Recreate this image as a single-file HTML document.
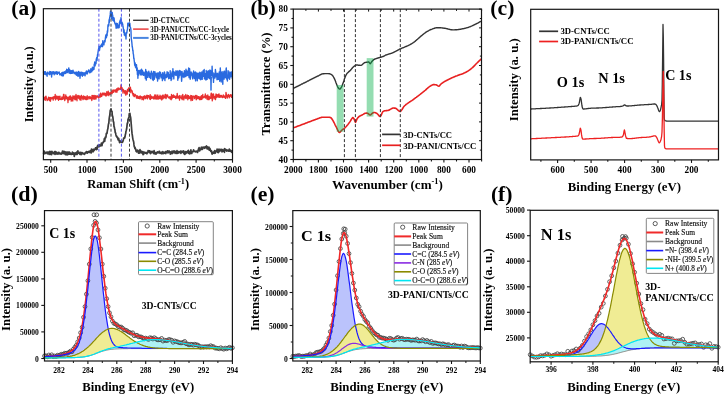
<!DOCTYPE html>
<html><head><meta charset="utf-8"><style>
html,body{margin:0;padding:0;background:#fff;}
svg{display:block;filter:blur(0.35px);}
text{font-family:"Liberation Serif",serif;}
</style></head><body>
<svg width="725" height="394" viewBox="0 0 725 394">
<rect width="725" height="394" fill="#fff"/>
<polyline points="43.5,71.7 43.7,73.4 43.9,74.1 44.2,72.5 44.4,71.6 44.6,73 44.8,73.6 45.1,74.4 45.3,71.8 45.5,71.8 45.7,74 46,73.8 46.2,74.9 46.4,74.4 46.6,73.2 46.9,73 47.1,76.2 47.3,73 47.5,72.5 47.8,72.1 48,73.5 48.2,73.6 48.4,73.1 48.7,73.4 48.9,73.8 49.1,74.2 49.3,74.7 49.6,73.7 49.8,71.5 50,74.3 50.2,71.9 50.4,73.3 50.7,71.8 50.9,73.4 51.1,72.6 51.3,73.6 51.6,77 51.8,73.2 52,74.2 52.2,71.7 52.4,72.8 52.7,73.8 52.9,72.9 53.1,73.4 53.3,73 53.6,71.8 53.8,73.4 54,71.9 54.2,74.8 54.4,72.1 54.7,73.4 54.9,72.6 55.1,73.6 55.3,71.9 55.6,73.6 55.8,72.4 56,73.9 56.2,73.2 56.4,72.7 56.7,71.7 56.9,73.4 57.1,73.1 57.3,74.4 57.6,72.3 57.8,73.3 58,73.3 58.2,73.1 58.4,73.1 58.7,73.1 58.9,72.3 59.1,71.9 59.3,72.6 59.6,73.8 59.8,74.9 60,74.3 60.2,74.4 60.4,74.2 60.7,74.1 60.9,73.6 61.1,74.3 61.3,75.4 61.6,73.1 61.8,72.7 62,75.7 62.2,73.8 62.5,74.5 62.7,74.4 62.9,72.1 63.1,76 63.4,75.2 63.6,73.3 63.8,73.8 64,73 64.3,71.8 64.5,72.5 64.7,72.9 64.9,73.6 65.2,73 65.4,72.1 65.6,73.4 65.8,70.9 66.1,72.5 66.3,72.7 66.5,71 66.7,69.3 67,70.1 67.2,71.3 67.4,71.5 67.6,72.5 67.9,69.6 68.1,70.6 68.3,71.3 68.5,70.4 68.8,67.9 69,71.4 69.2,73.1 69.4,71.6 69.7,69.6 69.9,70.2 70.1,70.9 70.3,73.5 70.6,71.5 70.8,71 71,72.7 71.2,71 71.4,73.3 71.7,70.6 71.9,70.9 72.1,72.4 72.3,73.3 72.6,72.5 72.8,72.3 73,70.1 73.2,71.4 73.4,71.6 73.7,71.8 73.9,73.2 74.1,72.3 74.3,73.6 74.6,72.9 74.8,72.6 75,73.1 75.2,73.5 75.5,74.1 75.7,72.7 75.9,73 76.1,71.9 76.4,75.2 76.6,75.1 76.8,73.4 77,73.1 77.3,72.3 77.5,73.9 77.7,74 77.9,76.3 78.2,74.2 78.4,73.1 78.6,71.4 78.8,75.7 79.1,74.4 79.3,72.4 79.5,74.4 79.7,72.5 80,78.2 80.2,75.6 80.4,75 80.6,74.2 80.9,72.1 81.1,74.3 81.3,72.8 81.5,75.1 81.8,72.1 82,73.5 82.2,75.8 82.4,76.3 82.7,73.1 82.9,72.7 83.1,75.3 83.3,75.2 83.6,73.1 83.8,73.4 84,73.3 84.2,72.7 84.4,73.1 84.7,75.1 84.9,74.4 85.1,75.8 85.3,73.3 85.6,73.2 85.8,72.1 86,72.9 86.2,71.5 86.4,70.9 86.7,73.5 86.9,74.1 87.1,73.4 87.3,73.8 87.6,72.5 87.8,71.3 88,72.1 88.2,71.5 88.4,70.6 88.7,69.9 88.9,70 89.1,71.5 89.3,71.6 89.6,70.9 89.8,72.9 90,71.4 90.2,71.8 90.4,72.4 90.7,70 90.9,68.6 91.1,71.5 91.3,69.8 91.6,71.8 91.8,70.6 92,71.1 92.2,70.6 92.4,67.3 92.7,70.2 92.9,68.4 93.1,67.6 93.3,67.9 93.6,69.6 93.8,69.4 94,69.2 94.2,64.2 94.4,65.5 94.7,62 94.9,65.3 95.1,65.9 95.3,62.9 95.6,64 95.8,63.2 96,63.7 96.2,59.6 96.5,58.5 96.8,57.5 97,60.5 97.2,58.1 97.5,54.8 97.8,54 98,52.3 98.2,51 98.5,49.1 98.8,48.2 99,46.1 99.2,46.7 99.5,50.3 99.8,48.2 100,47.1 100.2,46.4 100.5,46.6 100.7,46.9 100.9,45.1 101.2,46.4 101.4,46.3 101.6,44.5 101.8,44.3 102.1,43.8 102.3,43.5 102.5,46.6 102.8,40.8 103,44 103.2,43.1 103.5,42.7 103.7,43.5 103.9,44.9 104.1,42.6 104.4,41.8 104.6,40.4 104.8,40.7 105,41.9 105.3,39 105.5,37.1 105.7,36.1 105.9,35.6 106.2,34.4 106.4,37.8 106.6,35.6 106.8,33.7 107.1,35.6 107.3,30.9 107.5,32.3 107.7,31.2 107.9,26 108.2,24.7 108.4,24.4 108.6,26.1 108.8,25.4 109.1,19.8 109.3,22.4 109.5,18.8 109.8,17.5 110,15.8 110.2,14.9 110.5,11.2 110.8,11.8 111,11.1 111.2,14.2 111.5,17.2 111.8,18.8 112,14.2 112.2,12.4 112.5,15.3 112.7,15 112.9,20.6 113.2,18.9 113.4,17.4 113.6,20.9 113.8,21 114.1,18 114.3,20.5 114.5,21.6 114.7,22.6 114.9,23.4 115.2,23.2 115.4,24.7 115.6,23.9 115.8,23.8 116.1,28.3 116.3,26.5 116.5,26.7 116.7,23.3 116.9,25.7 117.2,27.4 117.4,23.8 117.6,27.9 117.8,25.3 118.1,26.7 118.3,25.8 118.5,26.4 118.7,27.9 119,24.8 119.2,27.5 119.4,22.8 119.6,21.8 119.8,23.9 120.1,20.2 120.3,20.9 120.5,22.7 120.8,22.9 121,17.6 121.2,21.4 121.5,24 121.7,23.6 122,22.3 122.2,22.8 122.5,24.5 122.7,24 122.9,26.5 123.2,27.7 123.4,28.8 123.6,32.2 123.8,30.8 124.1,29.8 124.3,35 124.5,32.2 124.8,34.1 125,35.5 125.2,35.7 125.5,34.8 125.8,35.7 126,39 126.2,33 126.5,32.4 126.8,33.1 127,31.3 127.2,30.2 127.5,29.3 127.8,23.3 128,24.2 128.2,25 128.5,24.8 128.8,25.7 129,24 129.2,22.6 129.5,23.1 129.8,23.1 130,25 130.2,27.3 130.5,27.4 130.8,28.8 131,31.3 131.2,37.3 131.5,40.2 131.8,42.1 132,44.3 132.2,46.7 132.5,47.7 132.8,51 133,50.2 133.2,53.6 133.5,54.6 133.8,58.8 134,58.2 134.2,60.5 134.5,62.7 134.7,65.3 134.9,62.6 135.2,63.2 135.4,67 135.6,64.4 135.8,67.7 136.1,66.3 136.3,67.8 136.5,64.7 136.7,70.5 137,68.4 137.2,67.9 137.4,74.5 137.7,72 137.9,78.2 138.1,71.9 138.4,70.5 138.6,71.6 138.8,75 139.1,71.7 139.3,72.9 139.5,73.2 139.8,70.4 140,72.8 140.2,71.6 140.5,70.2 140.7,74.9 140.9,74.6 141.1,73.5 141.4,71.6 141.6,69.3 141.8,74.9 142,73.7 142.3,70.4 142.5,74.1 142.7,71 143,74.4 143.2,74.8 143.4,75.4 143.6,75.2 143.9,75.1 144.1,72.3 144.3,74 144.5,73.8 144.8,74.5 145,75.6 145.2,76.4 145.4,78.6 145.7,69.4 145.9,76 146.1,74.7 146.3,80.1 146.5,77.2 146.8,71.5 147,76.1 147.2,74 147.4,77.4 147.6,72.9 147.9,75 148.1,75 148.3,75 148.5,74 148.8,71.2 149,76.3 149.2,77.5 149.4,75.2 149.6,73.1 149.9,75.8 150.1,76.6 150.3,75 150.5,75.3 150.7,78.6 151,72.9 151.2,74.1 151.4,71.1 151.6,73.8 151.8,73.7 152.1,73.2 152.3,73.9 152.5,79.5 152.7,75 152.9,75.2 153.2,80.5 153.4,75.3 153.6,71.5 153.8,76.4 154,73.3 154.3,79.2 154.5,72.6 154.7,74.1 154.9,71.8 155.1,75.7 155.4,73.1 155.6,75.3 155.8,74.6 156,74.1 156.2,77.7 156.5,77.7 156.7,75.6 156.9,73.4 157.1,73 157.4,76.1 157.6,81.1 157.8,74.4 158,73.7 158.2,73.9 158.5,72.9 158.7,73.2 158.9,75 159.1,78.9 159.3,75.5 159.6,74.3 159.8,71.7 160,76 160.2,75.4 160.4,72.6 160.7,72.9 160.9,75.4 161.1,77.9 161.3,77 161.6,76 161.8,74.7 162,76.2 162.2,75.4 162.4,80.6 162.7,72.7 162.9,74.5 163.1,78.4 163.3,74.8 163.6,78.8 163.8,75.3 164,75.7 164.2,74.4 164.4,72 164.7,73 164.9,80.6 165.1,76.8 165.3,76.7 165.6,77.5 165.8,76.6 166,77.6 166.2,74.5 166.4,74.6 166.7,77.5 166.9,74.2 167.1,71.8 167.3,74.5 167.6,73.7 167.8,76.5 168,73.2 168.2,72.4 168.4,74.1 168.7,78.7 168.9,74.8 169.1,75.2 169.3,74.8 169.6,75.5 169.8,77.1 170,78.2 170.2,70.7 170.4,78 170.7,74.7 170.9,73.9 171.1,80.5 171.3,74.2 171.6,79.4 171.8,76.9 172,72 172.2,75.7 172.4,76.3 172.7,74.1 172.9,68.7 173.1,73.6 173.3,73.9 173.6,71.6 173.8,78.9 174,73.7 174.2,73.3 174.4,73.5 174.7,72.3 174.9,72.3 175.1,74.5 175.3,75 175.6,72.9 175.8,73.9 176,70.7 176.2,75.5 176.4,72.2 176.7,74.7 176.9,71.8 177.1,72.8 177.3,74.6 177.6,71 177.8,80.3 178,73.9 178.2,73.8 178.4,72.2 178.7,78.1 178.9,77.5 179.1,74.8 179.3,70.5 179.6,72.7 179.8,75.6 180,72.7 180.2,71 180.4,71 180.7,72 180.9,74 181.1,72.3 181.3,74.1 181.6,81.2 181.8,78.6 182,71.4 182.2,74.9 182.4,74.3 182.7,73.7 182.9,76.8 183.1,73.2 183.3,73.3 183.6,73.2 183.8,73.9 184,77.5 184.2,76.2 184.4,70.7 184.7,73.1 184.9,72.1 185.1,76.4 185.3,74.9 185.6,76.6 185.8,74.1 186,69.3 186.2,75.5 186.4,75 186.7,75.7 186.9,71 187.1,74.6 187.3,72.6 187.6,72.7 187.8,75.4 188,75.5 188.2,72.2 188.4,70 188.7,68 188.9,73.1 189.1,77.6 189.3,74.5 189.6,68.7 189.8,72.4 190,75.9 190.2,79.2 190.4,77.9 190.7,75.8 190.9,75.4 191.1,72 191.3,73.7 191.6,74 191.8,72.9 192,75.1 192.2,73.9 192.4,75.9 192.7,78.9 192.9,77.1 193.1,76.2 193.3,74.5 193.6,71 193.8,74.8 194,76.6 194.2,72.5 194.4,78.6 194.7,74.3 194.9,76.3 195.1,74.4 195.3,71.9 195.6,80.9 195.8,72.2 196,77.8 196.2,73.8 196.4,76.1 196.7,73.2 196.9,74.3 197.1,77.9 197.3,80.8 197.6,73.1 197.8,75.5 198,78.1 198.2,73.7 198.4,77.4 198.7,73.3 198.9,77.2 199.1,76.7 199.3,78.8 199.6,76.5 199.8,72.2 200,77.3 200.2,72.4 200.4,77.6 200.7,79.7 200.9,77.1 201.1,74 201.3,78.8 201.5,76 201.8,72 202,74.5 202.2,79.4 202.4,74.6 202.6,75.8 202.9,74.5 203.1,70.7 203.3,74 203.5,76.4 203.8,76 204,74.9 204.2,69.4 204.4,78.8 204.6,77.4 204.9,78.3 205.1,79 205.3,74.1 205.5,73.6 205.7,76.2 206,80.1 206.2,70.5 206.4,74.7 206.6,73.3 206.8,76.9 207.1,79.4 207.3,74.4 207.5,71.7 207.7,75.4 207.9,74.4 208.2,70.8 208.4,77.7 208.6,73.7 208.8,77.1 209,71.4 209.3,78.3 209.5,71 209.7,78.2 209.9,69.9 210.1,79.1 210.4,74 210.6,70.6 210.8,74.4 211,76.1 211.2,72.2 211.5,73.6 211.7,75.8 211.9,74.6 212.1,66.2 212.4,73.8 212.6,76.3 212.8,75.9 213,78 213.2,73 213.5,82.4 213.7,77.3 213.9,75.9 214.1,78.2 214.3,77.8 214.6,75.3 214.8,73.2 215,78 215.2,76.2 215.4,69.5 215.7,71.8 215.9,76.4 216.1,75.3 216.3,75.8 216.6,76.9 216.8,75.4 217,79.7 217.2,73.3 217.4,73.8 217.7,76 217.9,77.2 218.1,77.4 218.3,79.4 218.5,73.6 218.8,78.5 219,76.4 219.2,72 219.4,74.6 219.7,81.3 219.9,77.4 220.1,73.7 220.3,67.9 220.5,72.9 220.8,73 221,75.3 221.2,82 221.4,77.3 221.7,76.1 221.9,72.3 222.1,71.6 222.3,74.5 222.5,73.7 222.8,84.2 223,73.9 223.2,73.3 223.4,78.6 223.7,75.4 223.9,71.5 224.1,79.1 224.3,74.3 224.5,71.2 224.8,76.2 225,76.7 225.2,74.2 225.4,77.4 225.6,77.8 225.9,72.6 226.1,69 226.3,68 226.5,74.9 226.8,79.1 227,78.4 227.2,79.6 227.4,81 227.6,75.4 227.9,78.6 228.1,70.7 228.3,77.5 228.5,76.6 228.8,75.1 229,74 229.2,72 229.4,75.8 229.6,79.3 229.9,74.3 230.1,77.1 230.3,73.4 230.5,76.2 230.7,72.3 231,76.6 231.2,74.8 231.4,76.4 231.6,73.6 231.9,71.8 232.1,74.5 232.3,78.7" fill="none" stroke="#2a6ae0" stroke-width="1.4" stroke-linejoin="round" />
<polyline points="210.5,76 211,90.5 211.5,77" fill="none" stroke="#2f6fe0" stroke-width="1" stroke-linejoin="round" />
<polyline points="43.5,96 43.8,98.3 44,97.6 44.2,97.3 44.5,99.3 44.8,98.1 45,97.6 45.2,100.4 45.5,97.3 45.8,96.3 46,96.1 46.2,97.3 46.5,98.9 46.8,99.1 47,99.5 47.2,100.5 47.5,100.3 47.8,98.9 48,99.8 48.2,98.9 48.5,97.2 48.8,99.1 49,98.1 49.2,97.7 49.5,100.7 49.8,99.1 50,97.4 50.2,97.9 50.5,101.2 50.8,97.7 51,99 51.2,98.9 51.5,98.7 51.8,98.8 52,97.3 52.2,97.4 52.5,97.8 52.8,97.5 53,99.1 53.2,100.1 53.5,96.8 53.8,98.7 54,96.6 54.2,97 54.5,97.7 54.8,98.1 55,97.4 55.2,94.4 55.5,99.9 55.8,97.6 56,97.1 56.2,98.9 56.5,97.1 56.8,96 57,98.6 57.2,98.5 57.5,96.8 57.8,99.1 58,98.5 58.2,96.4 58.5,100.3 58.8,98.3 59,96.4 59.2,98.6 59.5,98.1 59.8,99.3 60,96.1 60.2,99.4 60.5,99.2 60.8,98.9 61,98.8 61.2,99.7 61.5,98.9 61.8,98.1 62,96.8 62.2,99.4 62.5,99.3 62.8,98.3 63,98.1 63.2,98.9 63.5,94.5 63.8,98.3 64,94.5 64.2,98.2 64.5,99.3 64.8,100.5 65,97.2 65.2,98.5 65.5,97.8 65.8,94.8 66,98.9 66.2,97.9 66.5,98 66.8,96.6 67,97.8 67.2,98 67.5,99.6 67.8,98.3 68,102.6 68.2,97.3 68.5,97.5 68.8,97.8 69,96.8 69.2,99.9 69.5,98.8 69.8,96.1 70,98 70.2,99.4 70.5,95.9 70.8,98.1 71,97.5 71.2,101.1 71.5,98.4 71.8,97.3 72,97.1 72.2,100.4 72.5,97.2 72.8,101 73,95.7 73.2,97.6 73.5,97.5 73.8,96.9 74,97.6 74.2,98.8 74.5,96.9 74.8,95.9 75,99.7 75.2,99.9 75.5,96.9 75.8,98.3 76,94.3 76.2,99.3 76.5,96 76.8,97.1 77,100.8 77.2,96.1 77.5,97.9 77.8,96.4 78,95.3 78.2,96.2 78.5,98.2 78.8,96 79,97 79.2,98.8 79.5,97.6 79.8,96 80,99.9 80.2,98 80.5,99.7 80.8,96.4 81,100.1 81.2,96 81.5,95.4 81.8,97.2 82,97.3 82.2,98.2 82.5,97 82.8,98.7 83,99.6 83.2,96.9 83.5,95.9 83.8,97.2 84,98.9 84.2,98.9 84.5,97.3 84.8,96.4 85,97.7 85.2,99.1 85.5,96.8 85.8,99.5 86,98.1 86.2,98.1 86.5,96.9 86.8,99.6 87,97.8 87.2,95.7 87.5,98.8 87.8,97.1 88,99.2 88.2,97.9 88.5,96.8 88.8,97.9 89,97 89.2,96.5 89.5,97.7 89.8,98.8 90,97.8 90.2,97.5 90.5,96.9 90.8,98.4 91,98 91.2,98.9 91.5,98.1 91.8,100.5 92,95.4 92.2,97.5 92.5,98.3 92.8,98.8 93,95.5 93.2,95.9 93.5,97.5 93.8,99 94,99 94.2,95.4 94.5,97.7 94.8,99.1 95,97.5 95.2,96 95.5,96.5 95.8,95.6 96,99 96.2,97 96.5,96.8 96.8,96.2 97,97.2 97.2,96.1 97.5,95.9 97.8,97.1 98,96.7 98.2,97.4 98.5,96.8 98.8,98 99,96.1 99.2,96.4 99.5,96.1 99.8,94.6 100,97.2 100.2,94.7 100.5,93.2 100.8,96.9 101,96 101.2,94.3 101.5,96.3 101.8,96.2 102,95.8 102.2,93.1 102.5,94.9 102.8,93.2 103,93.7 103.2,93.7 103.5,93.2 103.8,95 104,93.2 104.2,95 104.5,94.4 104.8,93.2 105,94.2 105.2,94.9 105.5,95.4 105.8,93.5 106,96.1 106.2,94.5 106.5,95.3 106.8,91.7 107,92.1 107.2,95.1 107.5,93.1 107.8,94 108,94.9 108.2,91.2 108.5,93.7 108.8,95.7 109,94.1 109.2,93 109.5,93.6 109.8,92.8 110,93.8 110.2,94.5 110.5,92.3 110.8,93.3 111,92.9 111.2,93.4 111.5,93.5 111.8,90.8 112,93.8 112.2,93.3 112.5,90.6 112.8,91.6 113,90 113.2,91.5 113.5,92.3 113.8,90.1 114,90.6 114.2,90.4 114.5,90.5 114.8,90.3 115,89.8 115.2,91.9 115.5,90.7 115.8,89.8 116,92.1 116.2,89.9 116.5,91.7 116.8,88.7 117,92.2 117.2,89.5 117.5,88.7 117.8,90.4 118,87.8 118.2,88 118.5,89.7 118.8,88.5 119,89.6 119.3,89.1 119.5,89 119.8,88.6 120,89.2 120.3,88 120.5,89.3 120.8,89 121,84.9 121.3,85.2 121.6,89.8 121.9,87.4 122.2,88.8 122.4,88.9 122.7,90 123,93.1 123.3,89.5 123.5,91 123.8,91.4 124,90.4 124.3,91.1 124.5,92.3 124.8,93 125,93.7 125.3,90.6 125.6,91.1 125.8,95.2 126.1,92.5 126.4,93.5 126.7,91.4 127,90.7 127.2,94.2 127.5,89.4 127.8,89.6 128,91.5 128.3,90.4 128.6,87.9 128.9,90.2 129.1,90.9 129.4,87.8 129.7,89.1 129.9,91.1 130.2,92.7 130.4,87.2 130.7,89.7 131,90.9 131.2,89.9 131.5,90.2 131.7,91.1 132,92.7 132.2,90.9 132.5,93.8 132.8,94.1 133,94.5 133.2,95.7 133.5,93.3 133.8,94.3 134,96 134.2,96.7 134.5,96.6 134.8,95 135,95.2 135.2,94.3 135.5,95.7 135.8,95.3 136,96 136.2,96.3 136.5,98.1 136.8,98.2 137,97.1 137.2,95.7 137.5,97.2 137.8,97.8 138,98.4 138.2,97.5 138.5,98.4 138.8,96.4 139,98.1 139.2,98.3 139.5,96.8 139.8,96.2 140,98.9 140.2,95.9 140.5,98.2 140.8,96.9 141,96.8 141.2,96.9 141.5,96.7 141.8,97.2 142,99.7 142.2,99.3 142.5,97.1 142.8,97.9 143,98.5 143.2,96.7 143.5,99.8 143.8,97.4 144,98.2 144.2,96 144.5,95.8 144.8,96 145,96.4 145.2,98.7 145.5,96.9 145.8,98.5 146,96.8 146.2,96 146.5,97.6 146.8,96.8 147,95.1 147.2,97.4 147.5,98.9 147.8,97 148,95.7 148.2,96.3 148.5,95.7 148.8,97 149,96.1 149.2,97.2 149.5,97.6 149.8,99.1 150,95.8 150.2,94.6 150.5,99.5 150.8,97.9 151,96.8 151.2,98 151.5,96.1 151.8,96.9 152,98.3 152.2,96.9 152.5,97.5 152.8,97.9 153,97.5 153.2,97 153.5,98 153.8,99.1 154,99.1 154.2,96.2 154.5,98.4 154.8,94.8 155,95.4 155.2,97.9 155.5,98.1 155.8,99.2 156,95 156.2,98.8 156.5,96.6 156.8,96.7 157,97.9 157.2,99.2 157.5,96.1 157.8,95 158,96.5 158.2,97.2 158.5,99 158.8,97.8 159,96.9 159.2,96.7 159.5,96.7 159.8,98.7 160,95.1 160.2,96.4 160.5,96.2 160.8,98.9 161,97.5 161.2,96.4 161.5,98.4 161.8,100 162,98.7 162.2,95.6 162.5,97.1 162.8,98.9 163,94.9 163.2,95.7 163.5,96.8 163.8,98 164,96.2 164.2,97.5 164.5,97.1 164.8,97.8 165,95.7 165.2,94.3 165.5,94.4 165.8,97.6 166,98.7 166.2,98 166.5,95.2 166.8,95 167,96.9 167.2,96.1 167.5,94.9 167.8,96.5 168,96.3 168.2,97.2 168.5,97.8 168.8,97.6 169,97.6 169.2,98 169.5,97.2 169.8,96.7 170,96.9 170.2,98.9 170.5,96.9 170.8,98.4 171,99.6 171.2,99.7 171.5,94.4 171.8,97.5 172,98.6 172.2,96.7 172.5,96.4 172.8,95.4 173,96.4 173.2,97.3 173.5,94.8 173.8,97.3 174,96.2 174.2,97.3 174.5,95.8 174.8,97.4 175,97.5 175.2,96.4 175.5,96.4 175.8,98.6 176,98.2 176.2,96.2 176.5,97.9 176.8,95.7 177,96.6 177.2,93.4 177.5,96.5 177.8,98.2 178,96.6 178.2,98.1 178.5,96.4 178.8,97.7 179,97.1 179.2,96 179.5,100.1 179.8,96.1 180,95.5 180.2,97.5 180.5,97.9 180.8,97.7 181,97.1 181.2,97.9 181.5,98.5 181.8,98.1 182,95.4 182.2,99.6 182.5,97.2 182.8,94.5 183,98.4 183.2,97.1 183.5,97.6 183.8,99.9 184,96.5 184.2,96.4 184.5,95.9 184.8,97.5 185,98.1 185.2,97.8 185.5,97.5 185.8,94.4 186,97.6 186.2,98.7 186.5,96.5 186.8,96.5 187,95.9 187.2,97.6 187.5,95.1 187.8,99.8 188,96.9 188.2,96.4 188.5,95.6 188.8,97.9 189,98.5 189.2,96.4 189.5,97.4 189.8,97.6 190,98.5 190.2,98 190.5,98.9 190.8,95.3 191,100.7 191.2,96.5 191.5,95.7 191.8,95.9 192,97.7 192.2,98.2 192.5,100.4 192.8,98.8 193,96.1 193.2,96.7 193.5,96.5 193.8,96.3 194,96.9 194.2,96.3 194.5,98.7 194.8,97.6 195,98 195.2,96.9 195.5,95.5 195.8,97.7 196,96.6 196.2,99.8 196.5,98.8 196.8,95.5 197,95.8 197.2,96.3 197.5,96.8 197.8,98.6 198,96.8 198.2,97.7 198.5,96.6 198.8,96.8 199,98.7 199.2,97.1 199.5,99.7 199.8,97 200,97.5 200.3,97.6 200.5,97.9 200.8,99.6 201,96.1 201.3,96.3 201.5,95.7 201.8,99.4 202,97.6 202.3,97.6 202.5,97.6 202.8,94.5 203,98 203.3,97.1 203.5,97.4 203.8,97 204,96.8 204.3,96.8 204.5,96.1 204.8,96.6 205,97.7 205.3,94 205.5,98 205.8,97.7 206,95.4 206.3,97.5 206.5,97.3 206.8,96.1 207,99.1 207.3,97.1 207.5,96.6 207.8,95 208,99.7 208.3,97.1 208.5,97.2 208.8,96.5 209,99.6 209.3,96.5 209.5,98.9 209.8,98.2 210,98 210.3,97.6 210.5,98.3 210.8,96.5 211,93.9 211.3,93.1 211.5,98.2 211.8,93.9 212,98.5 212.3,100.8 212.5,94.1 212.8,97.4 213,97.3 213.3,95.6 213.5,93.9 213.8,96.5 214,98.9 214.3,96.4 214.5,96.5 214.8,96.7 215,96.6 215.3,96.9 215.5,99.6 215.8,95.3 216,94 216.3,97.6 216.5,95.8 216.8,95.8 217,94.6 217.3,96.2 217.5,95.8 217.8,97 218,95.9 218.3,94.4 218.5,97.1 218.8,96.3 219,93.8 219.3,95.9 219.5,97.4 219.8,96.3 220,95.9 220.3,97.1 220.5,95.4 220.8,95.4 221,97 221.3,96.1 221.5,95.4 221.8,96.6 222,96.6 222.3,97.5 222.5,97.6 222.8,96.3 223,96.2 223.3,94.9 223.5,96.4 223.8,95.7 224,97.3 224.3,97.2 224.5,97 224.8,96.1 225,96.6 225.3,98.1 225.5,98.4 225.8,95.3 226,92.3 226.3,96.9 226.5,94 226.8,96.1 227,96.6 227.3,98 227.5,95.8 227.8,95.8 228,95.2 228.3,96.4 228.5,94.3 228.8,96.7 229,96.4 229.3,97.8 229.5,95.5 229.8,96.4 230,96.2 230.3,95.9 230.5,94.6 230.8,95.1 231,95.9 231.3,96.5 231.5,97.3 231.8,95 232,96.2 232.3,96.7" fill="none" stroke="#e83030" stroke-width="1.3" stroke-linejoin="round" />
<polyline points="43.5,152.7 43.8,154.2 44.1,152.1 44.4,151.2 44.7,153.1 45,153.4 45.3,153.2 45.6,153.3 45.9,152.8 46.2,152.4 46.5,152.2 46.8,152.7 47.1,152.6 47.4,153.8 47.7,153.5 48,151.8 48.3,153.6 48.6,152.9 48.9,154 49.2,154.3 49.5,153.5 49.8,151.4 50.1,153.6 50.4,151.6 50.7,154.4 51,152.4 51.3,152.8 51.6,154.6 51.9,151.4 52.2,153 52.5,152 52.8,152.5 53.1,152.3 53.5,153.6 53.8,152.7 54.1,153.3 54.4,153.6 54.7,151.5 55,154.3 55.3,152.8 55.6,151.5 55.9,152.5 56.2,153.9 56.5,154 56.8,152.4 57.1,153.2 57.4,153.3 57.7,154 58,153 58.3,154 58.6,152.3 58.9,152.4 59.2,153.7 59.5,153.8 59.8,153.1 60.1,153.7 60.4,153.3 60.7,153.8 61,154.2 61.3,153.6 61.6,153.9 61.9,152.8 62.2,152.6 62.5,151 62.8,153.5 63.1,153.2 63.4,153.6 63.7,151.4 64,152.7 64.3,152.7 64.6,151.5 64.9,154 65.2,154.3 65.5,152 65.8,153.6 66.1,154.8 66.4,152.1 66.7,154.1 67,154.7 67.3,154.9 67.6,152 67.9,152.2 68.2,153.4 68.5,154.3 68.8,152.1 69.1,152.5 69.4,152.2 69.7,154.2 70,152.7 70.3,153.8 70.6,153.8 70.9,154.3 71.2,153.6 71.5,153.6 71.8,154.3 72.1,153.7 72.4,152.1 72.7,152.8 73,154.1 73.4,153.4 73.7,152.9 74,153.5 74.3,156.3 74.6,153.2 74.9,153.7 75.2,153.7 75.5,153 75.8,154.4 76.1,154.1 76.4,153.7 76.7,152 77,154.5 77.3,154 77.6,153.2 77.9,150.8 78.2,153.2 78.5,152.2 78.8,153.1 79.1,152.8 79.4,152.5 79.7,154.2 80,153.4 80.3,154.4 80.6,152.4 80.9,153.1 81.2,154.6 81.5,153.6 81.8,152.6 82.1,152.5 82.4,152.8 82.7,153.2 83,153.9 83.3,153.4 83.6,154 83.9,154 84.2,153.3 84.5,154.4 84.8,153.8 85.1,152.9 85.4,152.9 85.7,153 86,152.2 86.3,151.6 86.7,152.8 87,152.2 87.3,153.1 87.6,151.9 87.9,152.5 88.2,152.5 88.5,151.7 88.8,152.2 89.1,151.3 89.4,151.4 89.7,152.5 90,152 90.3,151.5 90.6,150.6 90.9,151.9 91.2,152.9 91.5,149 91.8,151.8 92.2,150.9 92.5,151.6 92.8,151.5 93.1,149.3 93.4,151.7 93.7,149.4 94,149.6 94.3,150.2 94.6,149.4 94.9,149.5 95.2,148.6 95.5,148 95.8,148.8 96.2,147.5 96.5,149.6 96.8,148.4 97.1,149.2 97.4,146.6 97.7,145.6 98,145.2 98.3,146.7 98.6,145.6 98.9,146.9 99.2,145 99.5,144.8 99.8,146.1 100.2,145.2 100.5,145.9 100.8,145.7 101.1,145 101.4,143.2 101.7,143.2 102,145.7 102.3,143 102.6,143.2 102.9,142.7 103.2,142.2 103.5,141.7 103.8,140.9 104.1,140.5 104.4,138.5 104.7,141.3 105,139 105.3,137 105.7,137.7 106,136.7 106.3,133.5 106.7,133 107,133.5 107.3,131.2 107.6,129.6 107.9,128.6 108.2,125.8 108.5,123.8 108.8,123.5 109.1,119.5 109.4,117.2 109.7,115.6 110,113.1 110.3,110 110.7,111.3 111,108.8 111.3,111 111.7,111 112,111.3 112.3,115.5 112.7,116.3 113,118.2 113.3,121.6 113.7,122.1 114,126.5 114.3,127 114.6,128.9 114.9,129.6 115.2,132.3 115.6,133 115.9,134.7 116.2,136.2 116.5,135.9 116.8,136.5 117.1,137.5 117.4,137.2 117.8,138.1 118.1,139.9 118.4,138.9 118.7,138.4 119,140.3 119.3,141.2 119.6,142.6 119.9,140.9 120.2,140.9 120.6,142 120.9,141.9 121.2,142.3 121.5,141.6 121.8,142.2 122.1,141.3 122.4,142.4 122.8,141.3 123.1,141.1 123.4,139.6 123.7,138 124,138.6 124.3,137.7 124.7,137.9 125,136.8 125.3,134.8 125.7,133.5 126,131.2 126.3,130.3 126.7,128.5 127,125.8 127.3,123 127.7,123.1 128,119.2 128.3,120 128.6,117.9 129,116.7 129.3,113.5 129.6,114.5 129.9,113.4 130.3,116.3 130.7,117.8 131,121.4 131.3,124.9 131.7,130 132.1,133.9 132.4,135.7 132.7,138.1 133,139.5 133.4,141.1 133.7,142 134,144.9 134.3,146.8 134.6,146.6 134.9,148.6 135.2,147.9 135.5,148.7 135.8,149.6 136.1,151.3 136.4,150.4 136.7,151.9 137,151.2 137.3,150.7 137.6,150.1 137.9,151.6 138.2,151.3 138.5,153.1 138.8,152.7 139.1,150.8 139.4,153.1 139.7,152.9 140,149.7 140.3,151.4 140.6,152.6 140.9,150.9 141.2,151.7 141.5,152.9 141.8,152.6 142.1,152.8 142.4,153 142.7,151.6 143,154.6 143.3,152.9 143.6,154.4 143.9,152.2 144.2,153 144.5,152.8 144.8,152.3 145.1,152.7 145.4,152.7 145.7,153.2 146,152.8 146.3,152.5 146.6,152.9 146.9,153.8 147.2,152.5 147.5,153 147.8,152.6 148.1,150.7 148.4,151.7 148.7,151.7 149,151.2 149.3,151.9 149.6,150.9 149.9,152.8 150.2,152 150.5,153.6 150.8,152.9 151.1,151.4 151.4,152.3 151.7,152.6 152,151.9 152.3,152.2 152.6,151.5 152.9,151.9 153.2,152.8 153.5,152.2 153.8,153.6 154.1,150.6 154.4,151.8 154.7,152.2 155,153.9 155.3,153.5 155.6,153.2 155.9,153.4 156.2,154 156.5,153.2 156.8,152.3 157.1,152.7 157.4,151.9 157.7,152.3 158,152.9 158.3,152.1 158.6,152.6 158.9,152.2 159.2,151.4 159.5,151.3 159.8,153.2 160.1,152.6 160.4,153.3 160.7,152.5 161,152.5 161.3,152.8 161.6,152.2 161.9,153.8 162.2,153.5 162.5,152.9 162.8,151.6 163.1,152.1 163.4,152.7 163.7,153.6 164,152.5 164.3,152.5 164.6,153 164.9,152.6 165.2,152.4 165.5,151.5 165.8,153.6 166.1,152.5 166.4,152.1 166.7,152.4 167,151.3 167.3,151 167.6,150.9 167.9,152.9 168.2,151.3 168.5,152.6 168.8,151.5 169.1,150.9 169.4,152 169.7,151.9 170,151.9 170.3,154.1 170.6,152.7 170.9,152 171.2,153.3 171.5,152.2 171.8,153.6 172.1,151.1 172.4,153.5 172.7,151.5 173,151.9 173.3,152.7 173.6,151.5 173.9,151 174.2,152.2 174.5,152.2 174.8,151 175.1,153.4 175.4,151.8 175.7,151.9 176,152.3 176.3,152.5 176.7,153.4 177,150.6 177.3,152.5 177.6,153.3 177.9,152.7 178.2,152.4 178.5,151.5 178.8,152.8 179.1,152 179.4,152.6 179.7,151.5 180,152.2 180.3,152.3 180.6,151.1 180.9,153.4 181.2,152.3 181.5,151.3 181.8,152.2 182.1,152.5 182.4,152.1 182.7,151.5 183,152.2 183.3,151.2 183.6,150.9 183.9,153.5 184.2,153.9 184.5,154.1 184.8,154.4 185.1,153.6 185.4,151.5 185.7,151.8 186,153.3 186.3,151.9 186.6,152 186.9,152.3 187.2,152.7 187.5,151.1 187.8,152.3 188.1,152.7 188.4,150.4 188.7,153.3 189,152.9 189.3,151.5 189.7,153.8 190,152.6 190.3,152.6 190.6,153.5 190.9,149.8 191.2,152.1 191.5,153.1 191.8,153.4 192.1,152 192.4,151.9 192.7,151.3 193,151.7 193.3,151.2 193.6,149.8 193.9,151.4 194.2,151 194.5,151.4 194.8,151.5 195.1,151.4 195.4,151.9 195.7,151.8 196,151.5 196.3,151.2 196.6,151.6 196.9,151.3 197.2,151.3 197.5,152.5 197.8,151.3 198.2,150.5 198.5,148.8 198.8,149.1 199.1,147.5 199.4,150.8 199.7,150.8 200,149.2 200.3,149 200.6,149.7 200.9,149.6 201.2,147.3 201.5,148.5 201.8,148.2 202.1,147.2 202.4,149.4 202.7,148.7 203,147.4 203.3,147.7 203.7,147.2 204,147.1 204.3,147.1 204.6,148.3 204.9,147.3 205.3,146.9 205.6,146.7 205.9,147.5 206.2,146.5 206.5,145.9 206.8,147.2 207.1,148.8 207.4,146.9 207.7,147.7 208,147.5 208.3,149 208.6,148.5 208.9,147.2 209.2,150.2 209.6,149 209.9,148.5 210.2,149.2 210.5,150.1 210.8,151.5 211.2,150.8 211.6,151 211.9,153.4 212.2,154.1 212.6,152.5 212.9,152.9 213.2,153.1 213.5,152.4 213.8,151.8 214.1,153.4 214.4,151.4 214.7,150.6 215,152.6 215.3,153 215.6,152.6 215.9,151 216.2,151.4 216.5,150.5 216.8,150.9 217.1,149.1 217.4,150.5 217.7,152.4 218,150 218.3,152.6 218.6,151.1 219,149.1 219.3,151.6 219.6,149.8 219.9,151.1 220.2,150.4 220.5,150.2 220.8,150.3 221.1,149.2 221.4,149.6 221.7,149.9 222,151.8 222.3,149.6 222.7,150.4 223,150.5 223.3,151.2 223.6,149.8 223.9,150.2 224.2,149.2 224.5,152.3 224.8,148.7 225.1,150.2 225.4,149.7 225.7,150.2 226,149.6 226.3,149.7 226.6,151 226.9,151.1 227.2,150.2 227.5,150.2 227.8,150.5 228.1,150.3 228.4,150.9 228.7,151.2 229,151 229.3,149.2 229.6,150.7 229.9,149.8 230.2,151.2 230.5,150.6 230.8,151.2 231.1,150.9 231.4,151.9 231.7,152.3 232,151.3 232.3,149.9" fill="none" stroke="#3c3c3c" stroke-width="1.7" stroke-linejoin="round" />
<line x1="98.9" y1="8.7" x2="98.9" y2="159.7" stroke="#5555ee" stroke-width="1" stroke-dasharray="3,2"/>
<line x1="111" y1="8.7" x2="111" y2="159.7" stroke="#3a3a3a" stroke-width="1" stroke-dasharray="3,2"/>
<line x1="121.4" y1="8.7" x2="121.4" y2="159.7" stroke="#5555ee" stroke-width="1" stroke-dasharray="3,2"/>
<line x1="129.5" y1="8.7" x2="129.5" y2="159.7" stroke="#3a3a3a" stroke-width="1" stroke-dasharray="3,2"/>
<rect x="43.4" y="8.7" width="189.1" height="151" fill="none" stroke="#151515" stroke-width="1.2"/>
<line x1="50.7" y1="159.7" x2="50.7" y2="162.7" stroke="#151515" stroke-width="1.1" />
<text x="50.7" y="173" font-family="Liberation Serif" font-weight="bold" font-size="9.3" text-anchor="middle" >500</text>
<line x1="87" y1="159.7" x2="87" y2="162.7" stroke="#151515" stroke-width="1.1" />
<text x="87" y="173" font-family="Liberation Serif" font-weight="bold" font-size="9.3" text-anchor="middle" >1000</text>
<line x1="123.4" y1="159.7" x2="123.4" y2="162.7" stroke="#151515" stroke-width="1.1" />
<text x="123.4" y="173" font-family="Liberation Serif" font-weight="bold" font-size="9.3" text-anchor="middle" >1500</text>
<line x1="159.8" y1="159.7" x2="159.8" y2="162.7" stroke="#151515" stroke-width="1.1" />
<text x="159.8" y="173" font-family="Liberation Serif" font-weight="bold" font-size="9.3" text-anchor="middle" >2000</text>
<line x1="196.1" y1="159.7" x2="196.1" y2="162.7" stroke="#151515" stroke-width="1.1" />
<text x="196.1" y="173" font-family="Liberation Serif" font-weight="bold" font-size="9.3" text-anchor="middle" >2500</text>
<line x1="232.5" y1="159.7" x2="232.5" y2="162.7" stroke="#151515" stroke-width="1.1" />
<text x="232.5" y="173" font-family="Liberation Serif" font-weight="bold" font-size="9.3" text-anchor="middle" >3000</text>
<line x1="68.9" y1="159.7" x2="68.9" y2="161.5" stroke="#151515" stroke-width="1" />
<line x1="105.2" y1="159.7" x2="105.2" y2="161.5" stroke="#151515" stroke-width="1" />
<line x1="141.6" y1="159.7" x2="141.6" y2="161.5" stroke="#151515" stroke-width="1" />
<line x1="178" y1="159.7" x2="178" y2="161.5" stroke="#151515" stroke-width="1" />
<line x1="214.3" y1="159.7" x2="214.3" y2="161.5" stroke="#151515" stroke-width="1" />
<line x1="133.1" y1="20.3" x2="148.6" y2="20.3" stroke="#3a3a3a" stroke-width="1.4" />
<line x1="133.1" y1="29.1" x2="148.6" y2="29.1" stroke="#e83030" stroke-width="1.4" />
<line x1="133.1" y1="37.9" x2="148.6" y2="37.9" stroke="#4a86e0" stroke-width="2" />
<text x="150.2" y="22.8" font-family="Liberation Serif" font-weight="bold" font-size="7.6" text-anchor="start" textLength="39.5" lengthAdjust="spacingAndGlyphs">3D-CTNs/CC</text>
<text x="150.2" y="31.5" font-family="Liberation Serif" font-weight="bold" font-size="7.6" text-anchor="start" textLength="78.8" lengthAdjust="spacingAndGlyphs">3D-PANI/CTNs/CC-1cycle</text>
<text x="150.2" y="39.7" font-family="Liberation Serif" font-weight="bold" font-size="7.6" text-anchor="start" textLength="81.5" lengthAdjust="spacingAndGlyphs">3D-PANI/CTNs/CC-3cycles</text>
<text x="11.3" y="15.1" font-family="Liberation Serif" font-weight="bold" font-size="21.3" text-anchor="start" textLength="25" lengthAdjust="spacingAndGlyphs">(a)</text>
<text x="87.2" y="188.3" font-family="Liberation Serif" font-weight="bold" font-size="12.5">Raman Shift (cm<tspan font-size="8.1" dy="-4.7">-1</tspan><tspan dy="4.7">)</tspan></text>
<text transform="translate(32.7,84.4) rotate(-90)" font-family="Liberation Serif" font-weight="bold" font-size="11.8" text-anchor="middle" textLength="75.8" lengthAdjust="spacingAndGlyphs">Intensity (a.u.)</text>
<polyline points="293.4,88.3 293.9,88 294.4,87.8 294.9,87.5 295.4,87.3 295.9,87 296.4,86.8 297,86.5 297.5,86.3 298,86 298.5,85.8 299,85.5 299.5,85.3 300,85 300.5,84.8 301,84.5 301.5,84.2 302,84 302.5,83.8 303,83.5 303.5,83.2 304,83 304.5,82.8 305,82.5 305.5,82.3 306,82 306.5,81.8 307,81.5 307.5,81.2 308,81 308.5,80.8 309,80.5 309.5,80.2 310,80 310.5,79.7 311,79.5 311.5,79.2 312,79 312.5,78.7 313,78.5 313.5,78.2 314,78 314.5,77.7 315,77.5 315.5,77.2 316,77 316.5,76.7 317,76.5 317.5,76.2 318,76 318.5,75.8 319,75.5 319.5,75.2 320,75 320.5,74.7 321,74.5 321.5,74.2 322,74 322.5,73.9 323,73.8 323.5,73.7 324,73.7 324.5,73.6 325,73.6 325.5,73.6 326,73.6 326.5,73.6 327,73.6 327.5,73.6 328,73.6 328.5,73.6 329,73.7 329.5,73.8 330,73.9 330.5,74.1 331,74.3 331.5,74.6 332,75 332.5,75.5 333,76.2 333.5,77 334,77.9 334.5,78.9 335,80 335.5,81.3 336,82.7 336.5,84 337,85.3 337.5,86.5 338,87.5 338.6,88.3 339.1,88.9 339.7,89.1 340.3,88.8 340.9,88 341.5,87 342.1,85.7 342.7,84.1 343.3,82.5 343.9,80.8 344.4,79.1 345,77.5 345.7,75.8 346.4,74.4 346.9,73.6 347.5,73 348,72.5 348.6,71.9 349.2,71.4 349.8,70.9 350.4,70.3 350.9,69.7 351.4,69.1 351.9,68.5 352.5,67.8 353,67.3 353.5,66.8 354,66.4 354.5,66 355,65.7 355.5,65.4 356,65.2 356.5,65 357,65 357.5,65 358,65.1 358.5,65.2 359.1,65.2 359.6,65.3 360.1,65.4 360.6,65.4 361.1,65.3 361.6,65.1 362.1,64.7 362.6,64.3 363.1,63.8 363.6,63.4 364.1,63 364.6,62.7 365.2,62.5 365.8,62.4 366.4,62.3 367,62.2 367.6,62.1 368.2,62 368.8,62 369.5,62.9 370.2,63.7 370.9,63 371.5,62 372.1,61.3 372.6,60.7 373.2,60.1 373.8,59.6 374.3,59.3 374.9,59 375.4,58.8 375.9,58.6 376.4,58.5 376.9,58.3 377.5,58.2 378,58 378.5,57.8 379,57.7 379.5,57.6 380,57.4 380.5,57.3 381,57.2 381.5,57 382,56.9 382.5,56.7 383,56.5 383.5,56.3 384,56 384.5,55.8 385,55.5 385.5,55.2 386,55 386.5,54.8 387,54.6 387.5,54.5 388,54.3 388.5,54.1 389,54 389.5,53.9 390,53.7 390.5,53.6 391,53.4 391.5,53.3 392,53.1 392.5,52.9 393,52.7 393.5,52.5 394,52.2 394.5,52 395,51.7 395.5,51.4 396,51.2 396.5,50.9 397,50.6 397.5,50.3 398,50 398.5,49.8 399,49.5 399.5,49.2 400,49 400.5,48.8 401,48.6 401.5,48.3 402,48.1 402.5,47.9 403,47.8 403.5,47.6 404,47.4 404.5,47.2 405,46.9 405.5,46.7 406,46.5 406.5,46.3 407,46 407.5,45.8 408,45.6 408.5,45.3 409,45.1 409.5,44.8 410,44.6 410.5,44.3 411,44 411.5,43.8 412,43.5 412.5,43.2 413,42.8 413.5,42.5 414,42.1 414.5,41.8 415,41.4 415.5,40.9 416,40.5 416.5,40.1 417,39.6 417.5,39.2 418,38.7 418.5,38.3 419,37.9 419.5,37.4 420,37 420.5,36.6 421,36.1 421.6,35.7 422.1,35.2 422.6,34.8 423.1,34.4 423.6,34 424.1,33.5 424.7,33.1 425.2,32.8 425.7,32.4 426.2,32 426.8,31.7 427.3,31.4 427.8,31.1 428.4,30.8 428.9,30.5 429.4,30.2 429.9,30 430.5,29.7 431,29.5 431.5,29.3 432.1,29.1 432.6,28.9 433.1,28.7 433.7,28.5 434.2,28.3 434.7,28.2 435.2,28 435.8,27.9 436.3,27.8 436.8,27.8 437.4,27.7 437.9,27.7 438.4,27.7 438.9,27.7 439.4,27.7 439.9,27.8 440.4,27.8 440.9,27.8 441.4,27.9 442,27.9 442.5,28 443,28 443.5,28.1 444,28.2 444.5,28.2 445,28.3 445.5,28.4 446,28.5 446.5,28.6 447,28.7 447.5,28.8 448,29 448.5,29.1 449,29.2 449.5,29.4 450,29.5 450.5,29.6 451,29.7 451.5,29.8 452,29.8 452.5,29.9 453,29.9 453.5,29.9 454,29.9 454.5,29.9 455,29.8 455.5,29.8 456,29.8 456.5,29.7 457,29.7 457.5,29.6 458,29.6 458.5,29.5 459,29.5 459.5,29.4 460,29.3 460.5,29.2 461.1,29.1 461.6,29 462.1,28.9 462.6,28.8 463.1,28.7 463.7,28.6 464.2,28.5 464.7,28.4 465.2,28.2 465.8,28.1 466.3,27.9 466.8,27.8 467.3,27.6 467.9,27.5 468.4,27.3 468.9,27.1 469.4,26.9 469.9,26.8 470.4,26.6 470.9,26.3 471.4,26.1 472,25.9 472.5,25.7 473,25.5 473.5,25.2 474,25 474.5,24.7 475,24.5 475.5,24.2 476.1,24 476.6,23.7 477.1,23.4 477.7,23.1 478.2,22.8 478.7,22.5 479.3,22.2 479.8,21.9 480.3,21.6 480.9,21.3 481.4,21" fill="none" stroke="#333" stroke-width="1.4" stroke-linejoin="round" />
<polyline points="293.4,127.8 293.9,127.6 294.4,127.4 294.9,127.2 295.4,127.1 295.9,126.9 296.4,126.7 296.9,126.5 297.4,126.3 297.9,126.1 298.4,125.9 298.9,125.7 299.5,125.6 300,125.4 300.5,125.2 301,125 301.5,124.8 302,124.6 302.5,124.4 303,124.3 303.5,124.1 304,123.9 304.5,123.7 305,123.5 305.5,123.3 306,123.1 306.5,122.9 307,122.7 307.5,122.5 308,122.3 308.5,122.1 309,121.9 309.5,121.7 310,121.6 310.5,121.4 311,121.2 311.5,121 312,120.8 312.5,120.6 313,120.4 313.5,120.2 314,120 314.5,119.9 315,119.7 315.5,119.5 316,119.3 316.5,119.2 317,119 317.5,118.8 318,118.6 318.5,118.4 319,118.2 319.5,118 320,117.8 320.5,117.7 321,117.5 321.5,117.4 322,117.3 322.5,117.3 323,117.2 323.5,117.2 324,117.2 324.5,117.2 325,117.2 325.5,117.2 326,117.2 326.5,117.2 327,117.2 327.5,117.2 328,117.2 328.5,117.2 329.1,117.3 329.6,117.3 330.1,117.5 330.6,117.6 331.2,118 331.8,118.8 332.4,119.7 333,120.7 333.5,121.6 334,122.5 334.5,123.5 335,124.6 335.5,125.6 336,126.5 336.5,127.5 337,128.6 337.5,129.7 338,130.7 338.5,131.6 339,132.2 339.5,132.4 340,132.2 340.5,131.8 341,131.1 341.5,130.5 342,130 342.5,129.6 343,129.3 343.5,128.9 344,128.6 344.5,128.2 345,127.8 345.5,127.3 346,126.8 346.5,126.2 347,125.6 347.5,125 348,124.4 348.5,123.7 349,123.1 349.5,122.4 350,121.7 350.5,120.9 351,120 351.5,119.1 352,118.4 352.5,117.8 353,117.6 353.6,118.2 354.3,119.5 354.9,121.2 355.5,122.3 356,121.6 356.5,120.2 357,119 357.5,118.2 358,117.6 358.5,117.1 359,116.6 359.5,116.2 360,115.9 360.5,115.7 361,115.4 361.5,115.2 362,115 362.5,114.7 363.1,114.4 363.6,114.1 364.1,113.8 364.6,113.5 365.1,113.3 365.7,113.2 366.2,113.1 366.8,113.1 367.4,113.3 368,113.5 368.6,113.9 369.1,114.4 369.6,114.8 370.2,115 370.8,114.7 371.4,114.1 372,113.5 372.6,113.1 373.1,112.8 373.7,112.6 374.3,112.5 374.8,112.5 375.4,112.7 375.9,112.9 376.5,113.2 377,113.5 377.5,114 378,114.6 378.6,115.3 379.1,115.9 379.6,116.3 380.1,116.5 380.6,116.2 381.1,115.3 381.6,114.2 382.1,113 382.6,112 383.1,111.4 383.6,111.2 384.1,111 384.6,110.8 385.1,110.7 385.6,110.7 386.2,110.6 386.7,110.6 387.2,110.5 387.7,110.5 388.2,110.4 388.7,110.3 389.2,110 389.7,109.7 390.2,109.4 390.8,109.1 391.3,108.7 391.8,108.5 392.3,108.2 392.8,108.1 393.3,108 393.8,108 394.4,108.1 394.9,108.1 395.5,108.3 396,108.5 396.5,108.8 397,109.2 397.5,109.7 398,110.2 398.5,110.6 399,111 399.5,111.3 400,111.4 400.6,111.2 401.1,110.8 401.6,110.1 402.2,109.2 402.8,108.3 403.3,107.4 403.8,106.6 404.4,106 404.9,105.5 405.4,105.1 405.9,104.6 406.4,104.2 407,103.8 407.5,103.4 408,103.1 408.5,102.7 409,102.4 409.5,102 410,101.7 410.5,101.4 411,101 411.6,100.7 412.1,100.4 412.6,100 413.1,99.7 413.6,99.3 414.1,98.9 414.7,98.5 415.2,98.1 415.7,97.7 416.3,97.3 416.8,96.9 417.3,96.5 417.9,96.1 418.4,95.7 418.9,95.3 419.5,94.9 420,94.5 420.5,94.1 421,93.7 421.5,93.3 422,92.9 422.5,92.5 423,92.1 423.5,91.7 424,91.3 424.5,90.9 425,90.5 425.5,90.1 426,89.6 426.5,89.1 427,88.7 427.5,88.2 428,87.8 428.5,87.4 429,87 429.5,86.6 430.1,86.2 430.6,85.9 431.2,85.5 431.7,85.2 432.3,85 432.8,84.8 433.4,84.6 433.9,84.6 434.4,84.6 434.9,84.7 435.5,84.7 436,84.8 436.5,85 437.1,85.3 437.7,85.7 438.3,86 438.9,86.2 439.4,85.9 439.9,85.3 440.5,84.6 441,84 441.5,83.6 442,83.2 442.5,82.9 443,82.5 443.5,82.2 444,81.9 444.5,81.6 445,81.3 445.5,81 446,80.8 446.5,80.5 447,80.2 447.5,80 448,79.7 448.5,79.4 449,79.2 449.5,78.9 450,78.7 450.5,78.5 451,78.2 451.5,78 452,77.8 452.5,77.6 453,77.4 453.5,77.1 454,76.9 454.5,76.7 455,76.5 455.5,76.3 456,76.1 456.5,75.9 457.1,75.7 457.6,75.5 458.1,75.3 458.6,75.1 459.1,75 459.6,74.8 460.1,74.6 460.6,74.4 461.2,74.2 461.7,74.1 462.2,73.9 462.7,73.7 463.2,73.5 463.7,73.2 464.2,73 464.8,72.8 465.3,72.5 465.8,72.3 466.3,72 466.8,71.7 467.3,71.4 467.9,71.1 468.4,70.7 468.9,70.4 469.4,70 469.9,69.7 470.4,69.3 471,68.9 471.5,68.4 472,68 472.5,67.6 473,67.1 473.5,66.6 474,66.1 474.5,65.6 475,65.1 475.5,64.5 476,64 476.5,63.5 477,63 477.6,62.5 478.1,61.9 478.6,61.4 479.2,60.9 479.8,60.4 480.3,59.8 480.8,59.3 481.4,58.8" fill="none" stroke="#e82020" stroke-width="1.6" stroke-linejoin="round" />
<rect x="336.7" y="85" width="6.9" height="46.8" fill="rgb(0,175,70)" fill-opacity="0.42"/>
<rect x="366.7" y="58.1" width="6.8" height="58.5" fill="rgb(0,175,70)" fill-opacity="0.42"/>
<line x1="344.4" y1="9.1" x2="344.4" y2="159.5" stroke="#333" stroke-width="1" stroke-dasharray="3,2"/>
<line x1="355.4" y1="9.1" x2="355.4" y2="159.5" stroke="#333" stroke-width="1" stroke-dasharray="3,2"/>
<line x1="380.4" y1="9.1" x2="380.4" y2="159.5" stroke="#333" stroke-width="1" stroke-dasharray="3,2"/>
<line x1="400.3" y1="9.1" x2="400.3" y2="159.5" stroke="#333" stroke-width="1" stroke-dasharray="3,2"/>
<rect x="293.3" y="9.1" width="188.2" height="150.4" fill="none" stroke="#151515" stroke-width="1.2"/>
<line x1="293.3" y1="159.5" x2="293.3" y2="162.5" stroke="#151515" stroke-width="1.1" />
<text x="293.3" y="172.8" font-family="Liberation Serif" font-weight="bold" font-size="9.3" text-anchor="middle" >2000</text>
<line x1="305.9" y1="159.5" x2="305.9" y2="161.5" stroke="#151515" stroke-width="1.1" />
<line x1="305.9" y1="9.1" x2="305.9" y2="10.9" stroke="#151515" stroke-width="1" />
<line x1="318.4" y1="159.5" x2="318.4" y2="162.5" stroke="#151515" stroke-width="1.1" />
<line x1="318.4" y1="9.1" x2="318.4" y2="11.6" stroke="#151515" stroke-width="1" />
<text x="318.4" y="172.8" font-family="Liberation Serif" font-weight="bold" font-size="9.3" text-anchor="middle" >1800</text>
<line x1="331" y1="159.5" x2="331" y2="161.5" stroke="#151515" stroke-width="1.1" />
<line x1="331" y1="9.1" x2="331" y2="10.9" stroke="#151515" stroke-width="1" />
<line x1="343.5" y1="159.5" x2="343.5" y2="162.5" stroke="#151515" stroke-width="1.1" />
<line x1="343.5" y1="9.1" x2="343.5" y2="11.6" stroke="#151515" stroke-width="1" />
<text x="343.5" y="172.8" font-family="Liberation Serif" font-weight="bold" font-size="9.3" text-anchor="middle" >1600</text>
<line x1="356.1" y1="159.5" x2="356.1" y2="161.5" stroke="#151515" stroke-width="1.1" />
<line x1="356.1" y1="9.1" x2="356.1" y2="10.9" stroke="#151515" stroke-width="1" />
<line x1="368.6" y1="159.5" x2="368.6" y2="162.5" stroke="#151515" stroke-width="1.1" />
<line x1="368.6" y1="9.1" x2="368.6" y2="11.6" stroke="#151515" stroke-width="1" />
<text x="368.6" y="172.8" font-family="Liberation Serif" font-weight="bold" font-size="9.3" text-anchor="middle" >1400</text>
<line x1="381.2" y1="159.5" x2="381.2" y2="161.5" stroke="#151515" stroke-width="1.1" />
<line x1="381.2" y1="9.1" x2="381.2" y2="10.9" stroke="#151515" stroke-width="1" />
<line x1="393.7" y1="159.5" x2="393.7" y2="162.5" stroke="#151515" stroke-width="1.1" />
<line x1="393.7" y1="9.1" x2="393.7" y2="11.6" stroke="#151515" stroke-width="1" />
<text x="393.7" y="172.8" font-family="Liberation Serif" font-weight="bold" font-size="9.3" text-anchor="middle" >1200</text>
<line x1="406.3" y1="159.5" x2="406.3" y2="161.5" stroke="#151515" stroke-width="1.1" />
<line x1="406.3" y1="9.1" x2="406.3" y2="10.9" stroke="#151515" stroke-width="1" />
<line x1="418.8" y1="159.5" x2="418.8" y2="162.5" stroke="#151515" stroke-width="1.1" />
<line x1="418.8" y1="9.1" x2="418.8" y2="11.6" stroke="#151515" stroke-width="1" />
<text x="418.8" y="172.8" font-family="Liberation Serif" font-weight="bold" font-size="9.3" text-anchor="middle" >1000</text>
<line x1="431.4" y1="159.5" x2="431.4" y2="161.5" stroke="#151515" stroke-width="1.1" />
<line x1="431.4" y1="9.1" x2="431.4" y2="10.9" stroke="#151515" stroke-width="1" />
<line x1="443.9" y1="159.5" x2="443.9" y2="162.5" stroke="#151515" stroke-width="1.1" />
<line x1="443.9" y1="9.1" x2="443.9" y2="11.6" stroke="#151515" stroke-width="1" />
<text x="443.9" y="172.8" font-family="Liberation Serif" font-weight="bold" font-size="9.3" text-anchor="middle" >800</text>
<line x1="456.5" y1="159.5" x2="456.5" y2="161.5" stroke="#151515" stroke-width="1.1" />
<line x1="456.5" y1="9.1" x2="456.5" y2="10.9" stroke="#151515" stroke-width="1" />
<line x1="469" y1="159.5" x2="469" y2="162.5" stroke="#151515" stroke-width="1.1" />
<line x1="469" y1="9.1" x2="469" y2="11.6" stroke="#151515" stroke-width="1" />
<text x="469" y="172.8" font-family="Liberation Serif" font-weight="bold" font-size="9.3" text-anchor="middle" >600</text>
<line x1="481.6" y1="159.5" x2="481.6" y2="161.5" stroke="#151515" stroke-width="1.1" />
<line x1="481.6" y1="9.1" x2="481.6" y2="10.9" stroke="#151515" stroke-width="1" />
<line x1="293.3" y1="159.5" x2="290.3" y2="159.5" stroke="#151515" stroke-width="1.1" />
<line x1="481.5" y1="159.5" x2="479" y2="159.5" stroke="#151515" stroke-width="1" />
<text x="287.9" y="162.8" font-family="Liberation Serif" font-weight="bold" font-size="9.3" text-anchor="end" >40</text>
<line x1="293.3" y1="150.1" x2="291.5" y2="150.1" stroke="#151515" stroke-width="1.1" />
<line x1="481.5" y1="150.1" x2="479.9" y2="150.1" stroke="#151515" stroke-width="1" />
<line x1="293.3" y1="140.7" x2="290.3" y2="140.7" stroke="#151515" stroke-width="1.1" />
<line x1="481.5" y1="140.7" x2="479" y2="140.7" stroke="#151515" stroke-width="1" />
<text x="287.9" y="144" font-family="Liberation Serif" font-weight="bold" font-size="9.3" text-anchor="end" >45</text>
<line x1="293.3" y1="131.3" x2="291.5" y2="131.3" stroke="#151515" stroke-width="1.1" />
<line x1="481.5" y1="131.3" x2="479.9" y2="131.3" stroke="#151515" stroke-width="1" />
<line x1="293.3" y1="121.9" x2="290.3" y2="121.9" stroke="#151515" stroke-width="1.1" />
<line x1="481.5" y1="121.9" x2="479" y2="121.9" stroke="#151515" stroke-width="1" />
<text x="287.9" y="125.2" font-family="Liberation Serif" font-weight="bold" font-size="9.3" text-anchor="end" >50</text>
<line x1="293.3" y1="112.5" x2="291.5" y2="112.5" stroke="#151515" stroke-width="1.1" />
<line x1="481.5" y1="112.5" x2="479.9" y2="112.5" stroke="#151515" stroke-width="1" />
<line x1="293.3" y1="103.1" x2="290.3" y2="103.1" stroke="#151515" stroke-width="1.1" />
<line x1="481.5" y1="103.1" x2="479" y2="103.1" stroke="#151515" stroke-width="1" />
<text x="287.9" y="106.4" font-family="Liberation Serif" font-weight="bold" font-size="9.3" text-anchor="end" >55</text>
<line x1="293.3" y1="93.7" x2="291.5" y2="93.7" stroke="#151515" stroke-width="1.1" />
<line x1="481.5" y1="93.7" x2="479.9" y2="93.7" stroke="#151515" stroke-width="1" />
<line x1="293.3" y1="84.3" x2="290.3" y2="84.3" stroke="#151515" stroke-width="1.1" />
<line x1="481.5" y1="84.3" x2="479" y2="84.3" stroke="#151515" stroke-width="1" />
<text x="287.9" y="87.6" font-family="Liberation Serif" font-weight="bold" font-size="9.3" text-anchor="end" >60</text>
<line x1="293.3" y1="74.9" x2="291.5" y2="74.9" stroke="#151515" stroke-width="1.1" />
<line x1="481.5" y1="74.9" x2="479.9" y2="74.9" stroke="#151515" stroke-width="1" />
<line x1="293.3" y1="65.5" x2="290.3" y2="65.5" stroke="#151515" stroke-width="1.1" />
<line x1="481.5" y1="65.5" x2="479" y2="65.5" stroke="#151515" stroke-width="1" />
<text x="287.9" y="68.8" font-family="Liberation Serif" font-weight="bold" font-size="9.3" text-anchor="end" >65</text>
<line x1="293.3" y1="56.1" x2="291.5" y2="56.1" stroke="#151515" stroke-width="1.1" />
<line x1="481.5" y1="56.1" x2="479.9" y2="56.1" stroke="#151515" stroke-width="1" />
<line x1="293.3" y1="46.7" x2="290.3" y2="46.7" stroke="#151515" stroke-width="1.1" />
<line x1="481.5" y1="46.7" x2="479" y2="46.7" stroke="#151515" stroke-width="1" />
<text x="287.9" y="50" font-family="Liberation Serif" font-weight="bold" font-size="9.3" text-anchor="end" >70</text>
<line x1="293.3" y1="37.3" x2="291.5" y2="37.3" stroke="#151515" stroke-width="1.1" />
<line x1="481.5" y1="37.3" x2="479.9" y2="37.3" stroke="#151515" stroke-width="1" />
<line x1="293.3" y1="27.9" x2="290.3" y2="27.9" stroke="#151515" stroke-width="1.1" />
<line x1="481.5" y1="27.9" x2="479" y2="27.9" stroke="#151515" stroke-width="1" />
<text x="287.9" y="31.2" font-family="Liberation Serif" font-weight="bold" font-size="9.3" text-anchor="end" >75</text>
<line x1="293.3" y1="18.5" x2="291.5" y2="18.5" stroke="#151515" stroke-width="1.1" />
<line x1="481.5" y1="18.5" x2="479.9" y2="18.5" stroke="#151515" stroke-width="1" />
<line x1="293.3" y1="9.1" x2="290.3" y2="9.1" stroke="#151515" stroke-width="1.1" />
<line x1="481.5" y1="9.1" x2="479" y2="9.1" stroke="#151515" stroke-width="1" />
<text x="287.9" y="12.4" font-family="Liberation Serif" font-weight="bold" font-size="9.3" text-anchor="end" >80</text>
<line x1="382.1" y1="134.4" x2="400.4" y2="134.4" stroke="#333" stroke-width="1.7" />
<line x1="382.1" y1="145.3" x2="400.4" y2="145.3" stroke="#e82020" stroke-width="1.7" />
<text x="403.2" y="138.4" font-family="Liberation Serif" font-weight="bold" font-size="8.8" text-anchor="start" textLength="48.9" lengthAdjust="spacingAndGlyphs">3D-CNTs/CC</text>
<text x="403.2" y="149.4" font-family="Liberation Serif" font-weight="bold" font-size="8.8" text-anchor="start" textLength="73.2" lengthAdjust="spacingAndGlyphs">3D-PANI/CNTs/CC</text>
<text x="250.4" y="15.4" font-family="Liberation Serif" font-weight="bold" font-size="21.3" text-anchor="start" textLength="25.4" lengthAdjust="spacingAndGlyphs">(b)</text>
<text x="332.1" y="188.7" font-family="Liberation Serif" font-weight="bold" font-size="13.05">Wavenumber (cm<tspan font-size="8.3" dy="-4.9">-1</tspan><tspan dy="4.9">)</tspan></text>
<text transform="translate(270.4,83.9) rotate(-90)" font-family="Liberation Serif" font-weight="bold" font-size="13.3" text-anchor="middle" textLength="103" lengthAdjust="spacingAndGlyphs">Transmittance (%)</text>
<polyline points="530.8,109 531.1,109 531.4,109 531.7,109 532,108.9 532.3,108.9 532.6,108.9 532.9,108.9 533.2,108.9 533.5,108.9 533.8,108.8 534.1,108.8 534.4,108.8 534.7,108.8 535,108.8 535.3,108.8 535.6,108.8 535.9,108.7 536.2,108.7 536.5,108.7 536.8,108.7 537.1,108.7 537.4,108.7 537.7,108.7 538,108.6 538.3,108.6 538.6,108.6 538.9,108.6 539.2,108.6 539.5,108.6 539.8,108.6 540.1,108.5 540.4,108.5 540.7,108.5 541,108.5 541.3,108.5 541.6,108.5 541.9,108.4 542.2,108.4 542.5,108.4 542.8,108.4 543.1,108.4 543.4,108.4 543.7,108.4 544,108.3 544.3,108.3 544.6,108.3 544.9,108.3 545.2,108.3 545.5,108.3 545.8,108.2 546.1,108.2 546.4,108.2 546.7,108.2 547,108.2 547.3,108.2 547.6,108.1 547.9,108.1 548.2,108.1 548.5,108.1 548.8,108.1 549.1,108.1 549.4,108 549.7,108 550,108 550.3,108 550.6,108 550.9,107.9 551.2,107.9 551.5,107.9 551.8,107.9 552.1,107.9 552.4,107.8 552.7,107.8 553,107.8 553.3,107.8 553.6,107.8 553.9,107.8 554.2,107.7 554.5,107.7 554.8,107.7 555.2,107.7 555.5,107.6 555.8,107.6 556.1,107.6 556.4,107.6 556.7,107.6 557,107.5 557.3,107.5 557.6,107.5 557.9,107.5 558.2,107.5 558.5,107.4 558.8,107.4 559.1,107.4 559.4,107.4 559.7,107.4 560,107.3 560.3,107.3 560.6,107.3 560.9,107.3 561.2,107.2 561.5,107.2 561.8,107.2 562.1,107.2 562.4,107.2 562.7,107.1 563,107.1 563.3,107.1 563.6,107.1 563.9,107.1 564.2,107 564.5,107 564.8,107 565.2,107 565.5,106.9 565.8,106.9 566.1,106.9 566.4,106.9 566.7,106.8 567,106.8 567.3,106.8 567.6,106.8 567.9,106.8 568.2,106.7 568.5,106.7 568.8,106.7 569.1,106.7 569.4,106.6 569.7,106.6 570,106.6 570.3,106.6 570.6,106.6 570.9,106.5 571.2,106.5 571.6,106.5 571.9,106.5 572.2,106.4 572.5,106.4 572.8,106.4 573.1,106.4 573.4,106.3 573.8,106.3 574.1,106.3 574.4,106.3 574.7,106.2 575,106.2 575.3,106.2 575.6,106.2 575.9,106.1 576.2,106.1 576.5,106.1 576.8,106 577.1,105.9 577.4,105.8 577.7,105.7 578,105.5 578.3,105.2 578.6,104.7 578.9,104 579.2,103.1 579.5,102 579.9,99.4 580.3,97.5 580.6,97.8 580.9,98.7 581.2,100 581.6,103 582,106 582.3,107.3 582.6,108.3 582.9,108.8 583.2,109 583.5,109 583.8,109 584.1,109 584.4,109 584.7,108.9 585.1,108.9 585.4,108.9 585.7,108.8 586,108.8 586.3,108.8 586.6,108.7 586.9,108.7 587.2,108.6 587.5,108.6 587.8,108.5 588.1,108.5 588.5,108.5 588.8,108.4 589.1,108.4 589.4,108.4 589.7,108.3 590,108.3 590.3,108.3 590.6,108.3 590.9,108.2 591.2,108.2 591.5,108.2 591.8,108.2 592.1,108.2 592.4,108.2 592.7,108.2 593,108.1 593.3,108.1 593.6,108.1 593.9,108.1 594.2,108.1 594.5,108.1 594.8,108.1 595.2,108.1 595.5,108.1 595.8,108.1 596.1,108.1 596.4,108 596.7,108 597,108 597.3,108 597.6,108 597.9,108 598.2,108 598.5,108 598.8,108 599.1,107.9 599.4,107.9 599.7,107.9 600,107.9 600.3,107.9 600.6,107.9 600.9,107.8 601.2,107.8 601.5,107.8 601.8,107.8 602.1,107.8 602.4,107.8 602.7,107.7 603,107.7 603.3,107.7 603.6,107.7 603.9,107.7 604.2,107.6 604.5,107.6 604.8,107.6 605.1,107.6 605.4,107.5 605.7,107.5 606,107.5 606.3,107.5 606.6,107.5 606.9,107.4 607.2,107.4 607.5,107.4 607.8,107.4 608.1,107.3 608.4,107.3 608.7,107.3 609,107.3 609.3,107.2 609.6,107.2 609.9,107.2 610.2,107.2 610.5,107.1 610.8,107.1 611.1,107.1 611.4,107.1 611.7,107.1 612,107 612.3,107 612.6,107 612.9,107 613.2,106.9 613.5,106.9 613.8,106.9 614.1,106.9 614.4,106.8 614.7,106.8 615,106.8 615.3,106.8 615.6,106.8 615.9,106.7 616.2,106.7 616.5,106.7 616.8,106.7 617.1,106.7 617.4,106.7 617.7,106.7 618,106.7 618.3,106.7 618.7,106.6 619,106.6 619.3,106.6 619.6,106.6 619.9,106.6 620.2,106.5 620.5,106.5 620.8,106.4 621.1,106.4 621.4,106.3 621.7,106.3 622,106.2 622.4,106.1 622.7,106 623.1,105.8 623.4,105.6 623.8,105.4 624.2,105 624.6,104.8 625,105 625.4,105.4 625.7,105.6 626,105.7 626.4,105.9 626.7,106 627,106 627.3,106 627.6,106 627.9,106 628.2,106 628.5,106 628.8,106 629.1,105.9 629.4,105.9 629.7,105.9 630,105.9 630.3,105.9 630.6,105.9 630.9,105.8 631.2,105.8 631.5,105.8 631.8,105.8 632.1,105.7 632.4,105.7 632.7,105.7 633,105.7 633.3,105.6 633.7,105.6 634,105.6 634.3,105.5 634.6,105.5 634.9,105.5 635.2,105.4 635.5,105.4 635.8,105.4 636.1,105.3 636.4,105.3 636.7,105.3 637,105.3 637.3,105.2 637.6,105.2 637.9,105.2 638.2,105.1 638.5,105.1 638.8,105.1 639.1,105.1 639.4,105 639.7,105 640,105 640.3,105 640.6,105 640.9,104.9 641.2,104.9 641.5,104.9 641.8,104.9 642.1,104.9 642.4,104.8 642.7,104.8 643,104.8 643.3,104.8 643.6,104.8 643.9,104.8 644.2,104.7 644.5,104.7 644.8,104.7 645.2,104.7 645.5,104.7 645.8,104.7 646.1,104.6 646.4,104.6 646.7,104.6 647,104.6 647.3,104.6 647.6,104.6 647.9,104.5 648.2,104.5 648.5,104.5 648.8,104.5 649.1,104.5 649.4,104.4 649.7,104.4 650,104.4 650.3,104.4 650.6,104.3 650.9,104.3 651.2,104.3 651.6,104.3 651.9,104.2 652.2,104.2 652.5,104.2 652.8,104.1 653.1,104.1 653.4,104.1 653.8,104 654.1,104 654.4,104 654.7,104 655,104 655.3,104.1 655.7,104.3 656,104.6 656.4,105 656.7,105.5 657,106.1 657.3,106.7 657.6,107.5 657.9,108.2 658.2,109 658.5,110 658.9,111 659.2,111.5 659.6,111.5 659.9,111.2 660.3,110.5 660.6,109.3 661,107.6 661.3,106 661.6,104.8 662,100 662.3,83.9 662.6,60 663,24.5 663.3,36.4 663.6,60 663.9,94.1 664.2,118 664.6,120.2 665,120.6 665.3,120.7 665.7,120.8 666,120.9 666.3,121 666.7,121.1 667,121.1 667.3,121.1 667.6,121.1 667.9,121.1 668.2,121.1 668.5,121.1 668.8,121.1 669.1,121.1 669.4,121.1 669.7,121.1 670,121.1 670.3,121.1 670.6,121.1 670.9,121.1 671.2,121.1 671.5,121.1 671.8,121.1 672.1,121.1 672.4,121.1 672.8,121.1 673.1,121.1 673.4,121.1 673.7,121.1 674,121.1 674.3,121.1 674.6,121.1 674.9,121.1 675.2,121.1 675.5,121.1 675.8,121.1 676.1,121.1 676.4,121.1 676.7,121.1 677,121.1 677.3,121.1 677.6,121.1 677.9,121.1 678.2,121.1 678.5,121.1 678.8,121.1 679.1,121.1 679.4,121.1 679.7,121.1 680,121.1 680.3,121.1 680.6,121.1 680.9,121.1 681.2,121.1 681.5,121.1 681.8,121.1 682.1,121.1 682.4,121.1 682.7,121.1 683,121.1 683.3,121.1 683.6,121.1 683.9,121.1 684.2,121.1 684.6,121.1 684.9,121.1 685.2,121.1 685.5,121.1 685.8,121.1 686.1,121.1 686.4,121.1 686.7,121.1 687,121.1 687.3,121.1 687.6,121.1 687.9,121.1 688.2,121.1 688.5,121.1 688.8,121.1 689.1,121.1 689.4,121.1 689.7,121.1 690,121.1 690.3,121.1 690.6,121.1 690.9,121.1 691.2,121.1 691.5,121.1 691.8,121.1 692.1,121.1 692.4,121.1 692.7,121.1 693,121.1 693.3,121.1 693.6,121.1 693.9,121.1 694.2,121.1 694.5,121.1 694.8,121.1 695.1,121.1 695.4,121.1 695.7,121.1 696,121.1 696.3,121.1 696.6,121.1 696.9,121.1 697.3,121.1 697.6,121.1 697.9,121.1 698.2,121.1 698.5,121.1 698.8,121.1 699.1,121.1 699.4,121.1 699.7,121.1 700,121.1 700.3,121.1 700.6,121.1 700.9,121.1 701.2,121.1 701.5,121.1 701.8,121.1 702.1,121.1 702.4,121.1 702.7,121.1 703,121.1 703.3,121.1 703.6,121.1 703.9,121.1 704.2,121.1 704.5,121.1 704.8,121.1 705.1,121.1 705.4,121.1 705.7,121.1 706,121.1 706.3,121.1 706.6,121.1 706.9,121.1 707.2,121.1 707.5,121.1 707.8,121.1 708.1,121.1 708.4,121.1 708.7,121.1 709,121.1 709.3,121.1 709.6,121.1 709.9,121.1 710.2,121.1 710.5,121.1 710.8,121.1 711.1,121.1 711.5,121.1 711.8,121.1 712.1,121.1 712.4,121.1 712.7,121.1 713,121.1 713.3,121.1 713.6,121.1 713.9,121.1 714.2,121.1 714.5,121.1 714.8,121.1 715.1,121.1 715.4,121.1 715.7,121.1 716,121.1 716.3,121.1 716.6,121.1 716.9,121.1 717.2,121.1 717.5,121.1 717.8,121.1 718.1,121.1 718.4,121.1" fill="none" stroke="#333" stroke-width="1.3" stroke-linejoin="round" />
<polyline points="530.8,138.8 531.1,138.8 531.4,138.8 531.7,138.8 532,138.7 532.3,138.7 532.6,138.7 532.9,138.7 533.2,138.7 533.5,138.7 533.8,138.6 534.1,138.6 534.4,138.6 534.7,138.6 535,138.6 535.3,138.6 535.6,138.6 535.9,138.5 536.2,138.5 536.5,138.5 536.8,138.5 537.1,138.5 537.4,138.5 537.7,138.4 538,138.4 538.3,138.4 538.6,138.4 538.9,138.4 539.2,138.4 539.5,138.4 539.8,138.3 540.1,138.3 540.4,138.3 540.7,138.3 541,138.3 541.3,138.3 541.6,138.2 541.9,138.2 542.2,138.2 542.5,138.2 542.8,138.2 543.1,138.2 543.4,138.1 543.7,138.1 544,138.1 544.3,138.1 544.6,138.1 544.9,138.1 545.2,138.1 545.5,138 545.8,138 546.1,138 546.4,138 546.7,138 547,138 547.3,137.9 547.6,137.9 547.9,137.9 548.2,137.9 548.5,137.9 548.8,137.9 549.1,137.8 549.4,137.8 549.7,137.8 550,137.8 550.3,137.8 550.6,137.8 550.9,137.8 551.2,137.7 551.5,137.7 551.8,137.7 552.1,137.7 552.4,137.7 552.7,137.7 553,137.6 553.3,137.6 553.6,137.6 553.9,137.6 554.2,137.6 554.5,137.6 554.8,137.6 555.2,137.5 555.5,137.5 555.8,137.5 556.1,137.5 556.4,137.5 556.7,137.5 557,137.4 557.3,137.4 557.6,137.4 557.9,137.4 558.2,137.4 558.5,137.4 558.8,137.4 559.1,137.3 559.4,137.3 559.7,137.3 560,137.3 560.3,137.3 560.6,137.3 560.9,137.2 561.2,137.2 561.5,137.2 561.8,137.2 562.1,137.2 562.4,137.2 562.7,137.1 563,137.1 563.3,137.1 563.6,137.1 563.9,137.1 564.2,137.1 564.5,137 564.8,137 565.2,137 565.5,137 565.8,137 566.1,137 566.4,136.9 566.7,136.9 567,136.9 567.3,136.9 567.6,136.9 567.9,136.8 568.2,136.8 568.5,136.8 568.8,136.8 569.1,136.8 569.4,136.7 569.7,136.7 570,136.7 570.3,136.7 570.6,136.7 570.9,136.6 571.2,136.6 571.5,136.6 571.8,136.6 572.1,136.5 572.4,136.5 572.7,136.5 573,136.5 573.3,136.4 573.6,136.4 573.9,136.4 574.2,136.4 574.5,136.3 574.8,136.3 575.1,136.3 575.4,136.3 575.7,136.2 576,136.2 576.3,136.2 576.6,136.2 576.9,136.1 577.2,136.1 577.6,136 577.9,135.9 578.2,135.7 578.5,135.5 578.9,134.8 579.2,133.5 579.6,132 580,129.7 580.3,128.2 580.7,129.1 581.1,131 581.5,134.4 582,137.5 582.3,138.4 582.6,138.9 582.9,139.1 583.2,139.1 583.5,139.1 583.8,139.1 584.1,139.1 584.4,139.1 584.7,139.1 585.1,139 585.4,139 585.7,139 586,139 586.3,139 586.6,138.9 586.9,138.9 587.2,138.9 587.5,138.9 587.8,138.8 588.1,138.8 588.5,138.8 588.8,138.8 589.1,138.8 589.4,138.7 589.7,138.7 590,138.7 590.3,138.7 590.6,138.7 590.9,138.7 591.2,138.6 591.5,138.6 591.8,138.6 592.1,138.6 592.4,138.6 592.7,138.6 593,138.6 593.3,138.6 593.6,138.5 593.9,138.5 594.2,138.5 594.5,138.5 594.8,138.5 595.2,138.5 595.5,138.5 595.8,138.5 596.1,138.5 596.4,138.5 596.7,138.4 597,138.4 597.3,138.4 597.6,138.4 597.9,138.4 598.2,138.4 598.5,138.4 598.8,138.4 599.1,138.3 599.4,138.3 599.7,138.3 600,138.3 600.3,138.3 600.6,138.3 600.9,138.3 601.2,138.2 601.5,138.2 601.8,138.2 602.1,138.2 602.4,138.2 602.7,138.1 603,138.1 603.3,138.1 603.6,138.1 603.9,138.1 604.2,138 604.5,138 604.8,138 605.1,138 605.4,137.9 605.7,137.9 606,137.9 606.3,137.9 606.6,137.8 606.9,137.8 607.2,137.8 607.5,137.8 607.8,137.8 608.1,137.7 608.4,137.7 608.7,137.7 609,137.7 609.3,137.6 609.6,137.6 609.9,137.6 610.2,137.6 610.5,137.6 610.8,137.6 611.1,137.5 611.4,137.5 611.7,137.5 612,137.5 612.3,137.5 612.6,137.5 612.9,137.5 613.2,137.4 613.5,137.4 613.8,137.4 614.1,137.4 614.4,137.4 614.7,137.4 615,137.4 615.3,137.4 615.6,137.4 615.9,137.4 616.2,137.4 616.5,137.4 616.8,137.4 617.1,137.4 617.4,137.4 617.7,137.4 618,137.4 618.3,137.3 618.7,137.3 619,137.3 619.3,137.3 619.6,137.3 619.9,137.3 620.2,137.2 620.5,137.2 620.8,137.2 621.1,137.1 621.4,137.1 621.7,137 622,137 622.3,136.8 622.6,136.5 623,135.9 623.3,135 623.6,134 624,131.5 624.4,129.8 624.8,131.5 625.2,134 625.5,135.5 625.9,136.9 626.2,137.9 626.5,138.4 626.8,138.4 627.1,138.5 627.5,138.5 627.8,138.5 628.1,138.6 628.4,138.6 628.7,138.6 629,138.6 629.4,138.6 629.7,138.6 630,138.6 630.3,138.6 630.6,138.6 630.9,138.6 631.2,138.6 631.5,138.6 631.8,138.5 632.1,138.5 632.4,138.5 632.7,138.5 633,138.4 633.3,138.4 633.6,138.4 633.9,138.3 634.2,138.3 634.5,138.3 634.8,138.2 635.2,138.2 635.5,138.1 635.8,138.1 636.1,138.1 636.4,138 636.7,138 637,137.9 637.3,137.9 637.6,137.9 637.9,137.8 638.2,137.8 638.5,137.8 638.8,137.7 639.1,137.7 639.4,137.7 639.7,137.6 640,137.6 640.3,137.6 640.6,137.6 640.9,137.5 641.2,137.5 641.5,137.5 641.8,137.5 642.1,137.5 642.4,137.4 642.7,137.4 643,137.4 643.3,137.4 643.6,137.4 643.9,137.4 644.2,137.4 644.5,137.3 644.8,137.3 645.2,137.3 645.5,137.3 645.8,137.3 646.1,137.3 646.4,137.3 646.7,137.2 647,137.2 647.3,137.2 647.6,137.2 647.9,137.1 648.2,137.1 648.5,137.1 648.8,137.1 649.1,137 649.4,137 649.7,136.9 650,136.9 650.3,136.8 650.6,136.8 650.9,136.7 651.2,136.6 651.6,136.5 651.9,136.4 652.2,136.4 652.5,136.3 652.8,136.2 653.1,136.1 653.4,136 653.8,135.9 654.1,135.9 654.4,135.8 654.7,135.8 655,135.8 655.3,135.9 655.7,136.1 656,136.5 656.4,137 656.7,137.5 657,138.1 657.3,138.8 657.6,139.6 657.9,140.3 658.2,141 658.5,141.8 658.9,142.5 659.2,142.8 659.6,142.7 659.9,142.2 660.3,141.5 660.6,140.7 661,139.6 661.3,138 661.6,136.7 662,132 662.4,117.9 662.7,100 663.3,71.5 663.6,86.1 663.9,110 664.2,132.1 664.5,146 664.8,147.8 665.2,148.5 665.5,148.6 665.8,148.7 666.1,148.8 666.4,148.8 666.7,148.9 667,148.9 667.3,148.9 667.6,148.9 667.9,148.9 668.2,148.9 668.5,148.9 668.8,148.9 669.1,148.9 669.4,148.9 669.7,148.9 670,148.9 670.3,148.9 670.6,148.9 670.9,148.9 671.2,148.9 671.5,148.9 671.8,148.9 672.1,148.9 672.4,148.9 672.8,148.9 673.1,148.9 673.4,148.9 673.7,148.9 674,148.9 674.3,148.9 674.6,148.9 674.9,148.9 675.2,148.9 675.5,148.9 675.8,148.9 676.1,148.9 676.4,148.9 676.7,148.9 677,148.9 677.3,148.9 677.6,148.9 677.9,148.9 678.2,148.9 678.5,148.9 678.8,148.9 679.1,148.9 679.4,148.9 679.7,148.9 680,148.9 680.3,148.9 680.6,148.9 680.9,148.9 681.2,148.9 681.5,148.9 681.8,148.9 682.1,148.9 682.4,148.9 682.7,148.9 683,148.9 683.3,148.9 683.6,148.9 683.9,148.9 684.2,148.9 684.6,148.9 684.9,148.9 685.2,148.9 685.5,148.9 685.8,148.9 686.1,148.9 686.4,148.9 686.7,148.9 687,148.9 687.3,148.9 687.6,148.9 687.9,148.9 688.2,148.9 688.5,148.9 688.8,148.9 689.1,148.9 689.4,148.9 689.7,148.9 690,148.9 690.3,148.9 690.6,148.9 690.9,148.9 691.2,148.9 691.5,148.9 691.8,148.9 692.1,148.9 692.4,148.9 692.7,148.9 693,148.9 693.3,148.9 693.6,148.9 693.9,148.9 694.2,148.9 694.5,148.9 694.8,148.9 695.1,148.9 695.4,148.9 695.7,148.9 696,148.9 696.3,148.9 696.6,148.9 696.9,148.9 697.3,148.9 697.6,148.9 697.9,148.9 698.2,148.9 698.5,148.9 698.8,148.9 699.1,148.9 699.4,148.9 699.7,148.9 700,148.9 700.3,148.9 700.6,148.9 700.9,148.9 701.2,148.9 701.5,148.9 701.8,148.9 702.1,148.9 702.4,148.9 702.7,148.9 703,148.9 703.3,148.9 703.6,148.9 703.9,148.9 704.2,148.9 704.5,148.9 704.8,148.9 705.1,148.9 705.4,148.9 705.7,148.9 706,148.9 706.3,148.9 706.6,148.9 706.9,148.9 707.2,148.9 707.5,148.9 707.8,148.9 708.1,148.9 708.4,148.9 708.7,148.9 709,148.9 709.3,148.9 709.6,148.9 709.9,148.9 710.2,148.9 710.5,148.9 710.8,148.9 711.1,148.9 711.5,148.9 711.8,148.9 712.1,148.9 712.4,148.9 712.7,148.9 713,148.9 713.3,148.9 713.6,148.9 713.9,148.9 714.2,148.9 714.5,148.9 714.8,148.9 715.1,148.9 715.4,148.9 715.7,148.9 716,148.9 716.3,148.9 716.6,148.9 716.9,148.9 717.2,148.9 717.5,148.9 717.8,148.9 718.1,148.9 718.4,148.9" fill="none" stroke="#ee2020" stroke-width="1.3" stroke-linejoin="round" />
<rect x="530.7" y="9.3" width="187.8" height="150.6" fill="none" stroke="#151515" stroke-width="1.2"/>
<line x1="540.9" y1="159.9" x2="540.9" y2="161.7" stroke="#151515" stroke-width="1.1" />
<line x1="557.6" y1="159.9" x2="557.6" y2="162.9" stroke="#151515" stroke-width="1.1" />
<text x="557.6" y="173.3" font-family="Liberation Serif" font-weight="bold" font-size="9.3" text-anchor="middle" >600</text>
<line x1="574.3" y1="159.9" x2="574.3" y2="161.7" stroke="#151515" stroke-width="1.1" />
<line x1="591.1" y1="159.9" x2="591.1" y2="162.9" stroke="#151515" stroke-width="1.1" />
<text x="591.1" y="173.3" font-family="Liberation Serif" font-weight="bold" font-size="9.3" text-anchor="middle" >500</text>
<line x1="607.8" y1="159.9" x2="607.8" y2="161.7" stroke="#151515" stroke-width="1.1" />
<line x1="624.6" y1="159.9" x2="624.6" y2="162.9" stroke="#151515" stroke-width="1.1" />
<text x="624.6" y="173.3" font-family="Liberation Serif" font-weight="bold" font-size="9.3" text-anchor="middle" >400</text>
<line x1="641.3" y1="159.9" x2="641.3" y2="161.7" stroke="#151515" stroke-width="1.1" />
<line x1="658" y1="159.9" x2="658" y2="162.9" stroke="#151515" stroke-width="1.1" />
<text x="658" y="173.3" font-family="Liberation Serif" font-weight="bold" font-size="9.3" text-anchor="middle" >300</text>
<line x1="674.8" y1="159.9" x2="674.8" y2="161.7" stroke="#151515" stroke-width="1.1" />
<line x1="691.5" y1="159.9" x2="691.5" y2="162.9" stroke="#151515" stroke-width="1.1" />
<text x="691.5" y="173.3" font-family="Liberation Serif" font-weight="bold" font-size="9.3" text-anchor="middle" >200</text>
<line x1="708.3" y1="159.9" x2="708.3" y2="161.7" stroke="#151515" stroke-width="1.1" />
<line x1="539.1" y1="31.3" x2="558.1" y2="31.3" stroke="#333" stroke-width="1.7" />
<line x1="539.1" y1="41.5" x2="558.1" y2="41.5" stroke="#ee2020" stroke-width="1.7" />
<text x="560.4" y="34.2" font-family="Liberation Serif" font-weight="bold" font-size="8.8" text-anchor="start" textLength="49.3" lengthAdjust="spacingAndGlyphs">3D-CNTs/CC</text>
<text x="560.4" y="44.3" font-family="Liberation Serif" font-weight="bold" font-size="8.8" text-anchor="start" textLength="73.1" lengthAdjust="spacingAndGlyphs">3D-PANI/CNTs/CC</text>
<text x="556.8" y="86.7" font-family="Liberation Serif" font-weight="bold" font-size="14.2" text-anchor="start" textLength="27.4" lengthAdjust="spacingAndGlyphs">O 1s</text>
<text x="598.2" y="82.8" font-family="Liberation Serif" font-weight="bold" font-size="14.2" text-anchor="start" textLength="26.7" lengthAdjust="spacingAndGlyphs">N 1s</text>
<text x="665.2" y="79.8" font-family="Liberation Serif" font-weight="bold" font-size="14.2" text-anchor="start" textLength="26.2" lengthAdjust="spacingAndGlyphs">C 1s</text>
<text x="490.3" y="15.4" font-family="Liberation Serif" font-weight="bold" font-size="21.3" text-anchor="start" textLength="24.1" lengthAdjust="spacingAndGlyphs">(c)</text>
<text x="567.8" y="191" font-family="Liberation Serif" font-weight="bold" font-size="12.8" text-anchor="start" textLength="113.2" lengthAdjust="spacingAndGlyphs">Binding Energy (eV)</text>
<text transform="translate(517.8,79.8) rotate(-90)" font-family="Liberation Serif" font-weight="bold" font-size="12.7" text-anchor="middle" textLength="83" lengthAdjust="spacingAndGlyphs">Intensity (a. u.)</text>
<polygon points="44.5,356.6 45.2,356.6 45.9,356.5 46.7,356.5 47.4,356.5 48.1,356.4 48.8,356.4 49.6,356.3 50.3,356.3 51,356.2 51.7,356.2 52.4,356.1 53.2,356.1 53.9,356 54.6,355.9 55.3,355.9 56.1,355.8 56.8,355.7 57.5,355.7 58.2,355.6 59,355.5 59.7,355.4 60.4,355.3 61.1,355.2 61.8,355.1 62.6,355 63.3,354.8 64,354.7 64.7,354.6 65.5,354.4 66.2,354.2 66.9,354.1 67.6,353.9 68.3,353.7 69.1,353.4 69.8,353.2 70.5,352.9 71.2,352.5 72,352.2 72.7,351.7 73.4,351.2 74.1,350.6 74.9,350 75.6,349.2 76.3,348.2 77,347.1 77.7,345.8 78.5,344.2 79.2,342.4 79.9,340.2 80.6,337.7 81.4,334.8 82.1,331.5 82.8,327.8 83.5,323.6 84.2,318.8 85,313.6 85.7,308 86.4,301.8 87.1,295.3 87.9,288.5 88.6,281.5 89.3,274.3 90,267.2 90.8,260.3 91.5,253.9 92.2,248.1 92.9,243.2 93.6,239.4 94.4,236.9 95.1,235.9 95.8,236.3 96.5,238 97.3,240.9 98,245 98.7,250 99.4,255.7 100.1,262.1 100.9,268.9 101.6,275.9 102.3,282.9 103,289.9 103.8,296.7 104.5,303.1 105.2,309.1 105.9,314.7 106.7,319.7 107.4,324.2 108.1,328.2 108.8,331.7 109.5,334.6 110.3,337.2 111,339.3 111.7,341 112.4,342.4 113.2,343.6 113.9,344.5 114.6,345.3 115.3,345.9 116,346.3 116.8,346.7 117.5,346.9 118.2,347.1 118.9,347.3 119.7,347.4 120.4,347.5 121.1,347.6 121.8,347.7 122.6,347.7 123.3,347.8 124,347.8 124.7,347.8 125.4,347.9 126.2,347.9 126.9,347.9 127.6,348 128.3,348 129.1,348 129.8,348 130.5,348 131.2,348.1 131.9,348.1 132.7,348.1 133.4,348.1 134.1,348.1 134.8,348.1 135.6,348.2 136.3,348.2 137,348.2 137.7,348.2 138.5,348.2 139.2,348.2 139.9,348.2 140.6,348.2 141.3,348.2 142.1,348.3 142.8,348.3 143.5,348.3 144.2,348.3 145,348.3 145.7,348.3 146.4,348.3 147.1,348.3 147.8,348.3 148.6,348.3 149.3,348.3 150,348.3 150.7,348.4 151.5,348.4 152.2,348.4 152.9,348.4 153.6,348.4 154.3,348.4 155.1,348.4 155.8,348.4 156.5,348.4 157.2,348.4 158,348.4 158.7,348.4 159.4,348.4 160.1,348.4 160.9,348.4 161.6,348.4 162.3,348.4 163,348.4 163.7,348.4 164.5,348.4 165.2,348.4 165.9,348.4 166.6,348.4 167.4,348.5 168.1,348.5 168.8,348.5 169.5,348.5 170.2,348.5 171,348.5 171.7,348.5 172.4,348.5 173.1,348.5 173.9,348.5 174.6,348.5 175.3,348.5 176,348.5 176.8,348.5 177.5,348.5 178.2,348.5 178.9,348.5 179.6,348.5 180.4,348.5 181.1,348.5 181.8,348.5 182.5,348.5 183.3,348.5 184,348.5 184.7,348.5 185.4,348.5 186.1,348.5 186.9,348.5 187.6,348.5 188.3,348.5 189,348.5 189.8,348.5 190.5,348.5 191.2,348.5 191.9,348.5 192.7,348.5 193.4,348.5 194.1,348.5 194.8,348.5 195.5,348.5 196.3,348.5 197,348.5 197.7,348.5 198.4,348.5 199.2,348.5 199.9,348.5 200.6,348.5 201.3,348.5 202,348.5 202.8,348.5 203.5,348.5 204.2,348.5 204.9,348.5 205.7,348.5 206.4,348.5 207.1,348.5 207.8,348.5 208.6,348.5 209.3,348.5 210,348.5 210.7,348.5 211.4,348.5 212.2,348.5 212.9,348.5 213.6,348.5 214.3,348.5 215.1,348.5 215.8,348.5 216.5,348.5 217.2,348.5 217.9,348.5 218.7,348.5 219.4,348.5 220.1,348.5 220.8,348.6 221.6,348.6 222.3,348.6 223,348.6 223.7,348.6 224.5,348.6 225.2,348.6 225.9,348.6 226.6,348.6 227.3,348.6 228.1,348.6 228.8,348.6 229.5,348.6 230.2,348.6 231,348.6 231.7,348.6 232.4,348.6 232.4,348.6 231.7,348.6 231,348.6 230.2,348.6 229.5,348.6 228.8,348.6 228.1,348.6 227.3,348.6 226.6,348.6 225.9,348.6 225.2,348.6 224.5,348.6 223.7,348.6 223,348.6 222.3,348.6 221.6,348.6 220.8,348.6 220.1,348.6 219.4,348.6 218.7,348.6 217.9,348.6 217.2,348.6 216.5,348.6 215.8,348.6 215.1,348.6 214.3,348.6 213.6,348.6 212.9,348.6 212.2,348.6 211.4,348.6 210.7,348.6 210,348.6 209.3,348.6 208.6,348.6 207.8,348.6 207.1,348.6 206.4,348.6 205.7,348.6 204.9,348.6 204.2,348.6 203.5,348.6 202.8,348.6 202,348.6 201.3,348.6 200.6,348.6 199.9,348.6 199.2,348.6 198.4,348.6 197.7,348.6 197,348.6 196.3,348.6 195.5,348.6 194.8,348.6 194.1,348.6 193.4,348.6 192.7,348.6 191.9,348.6 191.2,348.6 190.5,348.6 189.8,348.6 189,348.6 188.3,348.6 187.6,348.6 186.9,348.6 186.1,348.6 185.4,348.6 184.7,348.6 184,348.6 183.3,348.6 182.5,348.6 181.8,348.6 181.1,348.6 180.4,348.6 179.6,348.6 178.9,348.6 178.2,348.6 177.5,348.6 176.8,348.6 176,348.6 175.3,348.6 174.6,348.6 173.9,348.6 173.1,348.6 172.4,348.6 171.7,348.6 171,348.6 170.2,348.6 169.5,348.6 168.8,348.6 168.1,348.6 167.4,348.6 166.6,348.6 165.9,348.6 165.2,348.6 164.5,348.6 163.7,348.6 163,348.6 162.3,348.6 161.6,348.6 160.9,348.6 160.1,348.6 159.4,348.6 158.7,348.6 158,348.6 157.2,348.6 156.5,348.6 155.8,348.6 155.1,348.6 154.3,348.6 153.6,348.6 152.9,348.6 152.2,348.6 151.5,348.6 150.7,348.6 150,348.6 149.3,348.6 148.6,348.6 147.8,348.6 147.1,348.6 146.4,348.6 145.7,348.6 145,348.6 144.2,348.6 143.5,348.6 142.8,348.6 142.1,348.6 141.3,348.6 140.6,348.6 139.9,348.6 139.2,348.6 138.5,348.6 137.7,348.6 137,348.6 136.3,348.6 135.6,348.6 134.8,348.6 134.1,348.6 133.4,348.6 132.7,348.6 131.9,348.6 131.2,348.6 130.5,348.6 129.8,348.6 129.1,348.6 128.3,348.6 127.6,348.7 126.9,348.7 126.2,348.7 125.4,348.7 124.7,348.7 124,348.7 123.3,348.7 122.6,348.7 121.8,348.7 121.1,348.8 120.4,348.8 119.7,348.8 118.9,348.8 118.2,348.9 117.5,348.9 116.8,348.9 116,349 115.3,349 114.6,349.1 113.9,349.1 113.2,349.2 112.4,349.3 111.7,349.3 111,349.4 110.3,349.5 109.5,349.6 108.8,349.7 108.1,349.9 107.4,350 106.7,350.1 105.9,350.3 105.2,350.5 104.5,350.7 103.8,350.9 103,351.1 102.3,351.3 101.6,351.5 100.9,351.8 100.1,352 99.4,352.3 98.7,352.6 98,352.8 97.3,353.1 96.5,353.4 95.8,353.7 95.1,353.9 94.4,354.2 93.6,354.5 92.9,354.7 92.2,354.9 91.5,355.2 90.8,355.4 90,355.6 89.3,355.8 88.6,356 87.9,356.2 87.1,356.3 86.4,356.5 85.7,356.6 85,356.7 84.2,356.8 83.5,356.9 82.8,357 82.1,357.1 81.4,357.2 80.6,357.2 79.9,357.3 79.2,357.4 78.5,357.4 77.7,357.4 77,357.5 76.3,357.5 75.6,357.5 74.9,357.6 74.1,357.6 73.4,357.6 72.7,357.6 72,357.7 71.2,357.7 70.5,357.7 69.8,357.7 69.1,357.7 68.3,357.7 67.6,357.7 66.9,357.7 66.2,357.7 65.5,357.8 64.7,357.8 64,357.8 63.3,357.8 62.6,357.8 61.8,357.8 61.1,357.8 60.4,357.8 59.7,357.8 59,357.8 58.2,357.8 57.5,357.8 56.8,357.8 56.1,357.8 55.3,357.8 54.6,357.8 53.9,357.8 53.2,357.8 52.4,357.8 51.7,357.8 51,357.8 50.3,357.8 49.6,357.8 48.8,357.8 48.1,357.8 47.4,357.8 46.7,357.8 45.9,357.8 45.2,357.8 44.5,357.8" fill="#bbc3fc" />
<polygon points="44.5,357.8 45.2,357.8 45.9,357.8 46.7,357.8 47.4,357.8 48.1,357.8 48.8,357.8 49.6,357.8 50.3,357.7 51,357.7 51.7,357.7 52.4,357.7 53.2,357.7 53.9,357.7 54.6,357.7 55.3,357.7 56.1,357.6 56.8,357.6 57.5,357.6 58.2,357.6 59,357.5 59.7,357.5 60.4,357.5 61.1,357.4 61.8,357.4 62.6,357.3 63.3,357.3 64,357.2 64.7,357.1 65.5,357 66.2,357 66.9,356.9 67.6,356.7 68.3,356.6 69.1,356.5 69.8,356.4 70.5,356.2 71.2,356.1 72,355.9 72.7,355.7 73.4,355.5 74.1,355.3 74.9,355.1 75.6,354.8 76.3,354.5 77,354.2 77.7,353.9 78.5,353.6 79.2,353.3 79.9,352.9 80.6,352.5 81.4,352.1 82.1,351.6 82.8,351.2 83.5,350.7 84.2,350.2 85,349.6 85.7,349.1 86.4,348.5 87.1,347.9 87.9,347.2 88.6,346.6 89.3,345.9 90,345.2 90.8,344.5 91.5,343.7 92.2,343 92.9,342.2 93.6,341.4 94.4,340.6 95.1,339.8 95.8,339 96.5,338.2 97.3,337.4 98,336.7 98.7,335.9 99.4,335.2 100.1,334.5 100.9,333.8 101.6,333.1 102.3,332.5 103,331.9 103.8,331.4 104.5,330.9 105.2,330.4 105.9,330 106.7,329.7 107.4,329.3 108.1,329.1 108.8,328.8 109.5,328.6 110.3,328.5 111,328.4 111.7,328.4 112.4,328.4 113.2,328.4 113.9,328.5 114.6,328.7 115.3,328.9 116,329.1 116.8,329.3 117.5,329.6 118.2,330 118.9,330.3 119.7,330.7 120.4,331.2 121.1,331.6 121.8,332.1 122.6,332.5 123.3,333 124,333.6 124.7,334.1 125.4,334.6 126.2,335.2 126.9,335.7 127.6,336.3 128.3,336.8 129.1,337.3 129.8,337.9 130.5,338.4 131.2,338.9 131.9,339.5 132.7,340 133.4,340.4 134.1,340.9 134.8,341.4 135.6,341.8 136.3,342.3 137,342.7 137.7,343.1 138.5,343.5 139.2,343.8 139.9,344.2 140.6,344.5 141.3,344.8 142.1,345.1 142.8,345.4 143.5,345.7 144.2,345.9 145,346.1 145.7,346.4 146.4,346.5 147.1,346.7 147.8,346.9 148.6,347.1 149.3,347.2 150,347.3 150.7,347.5 151.5,347.6 152.2,347.7 152.9,347.8 153.6,347.9 154.3,347.9 155.1,348 155.8,348.1 156.5,348.1 157.2,348.2 158,348.2 158.7,348.3 159.4,348.3 160.1,348.4 160.9,348.4 161.6,348.4 162.3,348.4 163,348.5 163.7,348.5 164.5,348.5 165.2,348.5 165.9,348.5 166.6,348.5 167.4,348.5 168.1,348.5 168.8,348.6 169.5,348.6 170.2,348.6 171,348.6 171.7,348.6 172.4,348.6 173.1,348.6 173.9,348.6 174.6,348.6 175.3,348.6 176,348.6 176.8,348.6 177.5,348.6 178.2,348.6 178.9,348.6 179.6,348.6 180.4,348.6 181.1,348.6 181.8,348.6 182.5,348.6 183.3,348.6 184,348.6 184.7,348.6 185.4,348.6 186.1,348.6 186.9,348.6 187.6,348.6 188.3,348.6 189,348.6 189.8,348.6 190.5,348.6 191.2,348.6 191.9,348.6 192.7,348.6 193.4,348.6 194.1,348.6 194.8,348.6 195.5,348.6 196.3,348.6 197,348.6 197.7,348.6 198.4,348.6 199.2,348.6 199.9,348.6 200.6,348.6 201.3,348.6 202,348.6 202.8,348.6 203.5,348.6 204.2,348.6 204.9,348.6 205.7,348.6 206.4,348.6 207.1,348.6 207.8,348.6 208.6,348.6 209.3,348.6 210,348.6 210.7,348.6 211.4,348.6 212.2,348.6 212.9,348.6 213.6,348.6 214.3,348.6 215.1,348.6 215.8,348.6 216.5,348.6 217.2,348.6 217.9,348.6 218.7,348.6 219.4,348.6 220.1,348.6 220.8,348.6 221.6,348.6 222.3,348.6 223,348.6 223.7,348.6 224.5,348.6 225.2,348.6 225.9,348.6 226.6,348.6 227.3,348.6 228.1,348.6 228.8,348.6 229.5,348.6 230.2,348.6 231,348.6 231.7,348.6 232.4,348.6 232.4,348.6 231.7,348.6 231,348.6 230.2,348.6 229.5,348.6 228.8,348.6 228.1,348.6 227.3,348.6 226.6,348.6 225.9,348.6 225.2,348.6 224.5,348.6 223.7,348.6 223,348.6 222.3,348.6 221.6,348.6 220.8,348.6 220.1,348.6 219.4,348.6 218.7,348.6 217.9,348.6 217.2,348.6 216.5,348.6 215.8,348.6 215.1,348.6 214.3,348.6 213.6,348.6 212.9,348.6 212.2,348.6 211.4,348.6 210.7,348.6 210,348.6 209.3,348.6 208.6,348.6 207.8,348.6 207.1,348.6 206.4,348.6 205.7,348.6 204.9,348.6 204.2,348.6 203.5,348.6 202.8,348.6 202,348.6 201.3,348.6 200.6,348.6 199.9,348.6 199.2,348.6 198.4,348.6 197.7,348.6 197,348.6 196.3,348.6 195.5,348.6 194.8,348.6 194.1,348.6 193.4,348.6 192.7,348.6 191.9,348.6 191.2,348.6 190.5,348.6 189.8,348.6 189,348.6 188.3,348.6 187.6,348.6 186.9,348.6 186.1,348.6 185.4,348.6 184.7,348.6 184,348.6 183.3,348.6 182.5,348.6 181.8,348.6 181.1,348.6 180.4,348.6 179.6,348.6 178.9,348.6 178.2,348.6 177.5,348.6 176.8,348.6 176,348.6 175.3,348.6 174.6,348.6 173.9,348.6 173.1,348.6 172.4,348.6 171.7,348.6 171,348.6 170.2,348.6 169.5,348.6 168.8,348.6 168.1,348.6 167.4,348.6 166.6,348.6 165.9,348.6 165.2,348.6 164.5,348.6 163.7,348.6 163,348.6 162.3,348.6 161.6,348.6 160.9,348.6 160.1,348.6 159.4,348.6 158.7,348.6 158,348.6 157.2,348.6 156.5,348.6 155.8,348.6 155.1,348.6 154.3,348.6 153.6,348.6 152.9,348.6 152.2,348.6 151.5,348.6 150.7,348.6 150,348.6 149.3,348.6 148.6,348.6 147.8,348.6 147.1,348.6 146.4,348.6 145.7,348.6 145,348.6 144.2,348.6 143.5,348.6 142.8,348.6 142.1,348.6 141.3,348.6 140.6,348.6 139.9,348.6 139.2,348.6 138.5,348.6 137.7,348.6 137,348.6 136.3,348.6 135.6,348.6 134.8,348.6 134.1,348.6 133.4,348.6 132.7,348.6 131.9,348.6 131.2,348.6 130.5,348.6 129.8,348.6 129.1,348.6 128.3,348.6 127.6,348.7 126.9,348.7 126.2,348.7 125.4,348.7 124.7,348.7 124,348.7 123.3,348.7 122.6,348.7 121.8,348.7 121.1,348.8 120.4,348.8 119.7,348.8 118.9,348.8 118.2,348.9 117.5,348.9 116.8,348.9 116,349 115.3,349 114.6,349.1 113.9,349.1 113.2,349.2 112.4,349.3 111.7,349.3 111,349.4 110.3,349.5 109.5,349.6 108.8,349.7 108.1,349.9 107.4,350 106.7,350.1 105.9,350.3 105.2,350.5 104.5,350.7 103.8,350.9 103,351.1 102.3,351.3 101.6,351.5 100.9,351.8 100.1,352 99.4,352.3 98.7,352.6 98,352.8 97.3,353.1 96.5,353.4 95.8,353.7 95.1,353.9 94.4,354.2 93.6,354.5 92.9,354.7 92.2,354.9 91.5,355.2 90.8,355.4 90,355.6 89.3,355.8 88.6,356 87.9,356.2 87.1,356.3 86.4,356.5 85.7,356.6 85,356.7 84.2,356.8 83.5,356.9 82.8,357 82.1,357.1 81.4,357.2 80.6,357.2 79.9,357.3 79.2,357.4 78.5,357.4 77.7,357.4 77,357.5 76.3,357.5 75.6,357.5 74.9,357.6 74.1,357.6 73.4,357.6 72.7,357.6 72,357.7 71.2,357.7 70.5,357.7 69.8,357.7 69.1,357.7 68.3,357.7 67.6,357.7 66.9,357.7 66.2,357.7 65.5,357.8 64.7,357.8 64,357.8 63.3,357.8 62.6,357.8 61.8,357.8 61.1,357.8 60.4,357.8 59.7,357.8 59,357.8 58.2,357.8 57.5,357.8 56.8,357.8 56.1,357.8 55.3,357.8 54.6,357.8 53.9,357.8 53.2,357.8 52.4,357.8 51.7,357.8 51,357.8 50.3,357.8 49.6,357.8 48.8,357.8 48.1,357.8 47.4,357.8 46.7,357.8 45.9,357.8 45.2,357.8 44.5,357.8" fill="#f0ec94" />
<polygon points="44.5,357.8 45.2,357.8 45.9,357.8 46.7,357.8 47.4,357.8 48.1,357.8 48.8,357.8 49.6,357.8 50.3,357.8 51,357.8 51.7,357.8 52.4,357.8 53.2,357.8 53.9,357.8 54.6,357.8 55.3,357.8 56.1,357.8 56.8,357.8 57.5,357.8 58.2,357.8 59,357.8 59.7,357.8 60.4,357.8 61.1,357.8 61.8,357.8 62.6,357.8 63.3,357.8 64,357.8 64.7,357.8 65.5,357.8 66.2,357.7 66.9,357.7 67.6,357.7 68.3,357.7 69.1,357.7 69.8,357.7 70.5,357.7 71.2,357.7 72,357.7 72.7,357.6 73.4,357.6 74.1,357.6 74.9,357.6 75.6,357.5 76.3,357.5 77,357.5 77.7,357.4 78.5,357.4 79.2,357.3 79.9,357.3 80.6,357.2 81.4,357.1 82.1,357.1 82.8,357 83.5,356.9 84.2,356.8 85,356.7 85.7,356.5 86.4,356.4 87.1,356.2 87.9,356.1 88.6,355.9 89.3,355.7 90,355.5 90.8,355.3 91.5,355 92.2,354.8 92.9,354.5 93.6,354.3 94.4,354 95.1,353.7 95.8,353.4 96.5,353.1 97.3,352.8 98,352.5 98.7,352.2 99.4,351.9 100.1,351.6 100.9,351.3 101.6,351.1 102.3,350.8 103,350.5 103.8,350.3 104.5,350 105.2,349.8 105.9,349.6 106.7,349.3 107.4,349.1 108.1,348.9 108.8,348.7 109.5,348.5 110.3,348.4 111,348.2 111.7,348 112.4,347.9 113.2,347.7 113.9,347.5 114.6,347.4 115.3,347.2 116,347.1 116.8,346.9 117.5,346.8 118.2,346.6 118.9,346.5 119.7,346.3 120.4,346.1 121.1,346 121.8,345.8 122.6,345.7 123.3,345.5 124,345.3 124.7,345.2 125.4,345 126.2,344.8 126.9,344.6 127.6,344.4 128.3,344.3 129.1,344.1 129.8,343.9 130.5,343.7 131.2,343.5 131.9,343.4 132.7,343.2 133.4,343 134.1,342.8 134.8,342.6 135.6,342.4 136.3,342.3 137,342.1 137.7,341.9 138.5,341.7 139.2,341.6 139.9,341.4 140.6,341.2 141.3,341.1 142.1,340.9 142.8,340.8 143.5,340.7 144.2,340.5 145,340.4 145.7,340.3 146.4,340.2 147.1,340.1 147.8,340 148.6,339.9 149.3,339.8 150,339.8 150.7,339.7 151.5,339.7 152.2,339.6 152.9,339.6 153.6,339.6 154.3,339.6 155.1,339.6 155.8,339.6 156.5,339.6 157.2,339.6 158,339.7 158.7,339.7 159.4,339.7 160.1,339.8 160.9,339.8 161.6,339.9 162.3,339.9 163,340 163.7,340.1 164.5,340.1 165.2,340.2 165.9,340.3 166.6,340.4 167.4,340.5 168.1,340.6 168.8,340.7 169.5,340.8 170.2,340.9 171,341 171.7,341.1 172.4,341.2 173.1,341.3 173.9,341.4 174.6,341.6 175.3,341.7 176,341.8 176.8,341.9 177.5,342.1 178.2,342.2 178.9,342.3 179.6,342.5 180.4,342.6 181.1,342.7 181.8,342.9 182.5,343 183.3,343.1 184,343.3 184.7,343.4 185.4,343.5 186.1,343.7 186.9,343.8 187.6,344 188.3,344.1 189,344.2 189.8,344.4 190.5,344.5 191.2,344.6 191.9,344.7 192.7,344.9 193.4,345 194.1,345.1 194.8,345.2 195.5,345.3 196.3,345.5 197,345.6 197.7,345.7 198.4,345.8 199.2,345.9 199.9,346 200.6,346.1 201.3,346.2 202,346.3 202.8,346.4 203.5,346.5 204.2,346.6 204.9,346.7 205.7,346.7 206.4,346.8 207.1,346.9 207.8,347 208.6,347 209.3,347.1 210,347.2 210.7,347.3 211.4,347.3 212.2,347.4 212.9,347.4 213.6,347.5 214.3,347.6 215.1,347.6 215.8,347.7 216.5,347.7 217.2,347.8 217.9,347.8 218.7,347.8 219.4,347.9 220.1,347.9 220.8,348 221.6,348 222.3,348 223,348.1 223.7,348.1 224.5,348.1 225.2,348.2 225.9,348.2 226.6,348.2 227.3,348.2 228.1,348.3 228.8,348.3 229.5,348.3 230.2,348.3 231,348.3 231.7,348.3 232.4,348.4 232.4,348.6 231.7,348.6 231,348.6 230.2,348.6 229.5,348.6 228.8,348.6 228.1,348.6 227.3,348.6 226.6,348.6 225.9,348.6 225.2,348.6 224.5,348.6 223.7,348.6 223,348.6 222.3,348.6 221.6,348.6 220.8,348.6 220.1,348.6 219.4,348.6 218.7,348.6 217.9,348.6 217.2,348.6 216.5,348.6 215.8,348.6 215.1,348.6 214.3,348.6 213.6,348.6 212.9,348.6 212.2,348.6 211.4,348.6 210.7,348.6 210,348.6 209.3,348.6 208.6,348.6 207.8,348.6 207.1,348.6 206.4,348.6 205.7,348.6 204.9,348.6 204.2,348.6 203.5,348.6 202.8,348.6 202,348.6 201.3,348.6 200.6,348.6 199.9,348.6 199.2,348.6 198.4,348.6 197.7,348.6 197,348.6 196.3,348.6 195.5,348.6 194.8,348.6 194.1,348.6 193.4,348.6 192.7,348.6 191.9,348.6 191.2,348.6 190.5,348.6 189.8,348.6 189,348.6 188.3,348.6 187.6,348.6 186.9,348.6 186.1,348.6 185.4,348.6 184.7,348.6 184,348.6 183.3,348.6 182.5,348.6 181.8,348.6 181.1,348.6 180.4,348.6 179.6,348.6 178.9,348.6 178.2,348.6 177.5,348.6 176.8,348.6 176,348.6 175.3,348.6 174.6,348.6 173.9,348.6 173.1,348.6 172.4,348.6 171.7,348.6 171,348.6 170.2,348.6 169.5,348.6 168.8,348.6 168.1,348.6 167.4,348.6 166.6,348.6 165.9,348.6 165.2,348.6 164.5,348.6 163.7,348.6 163,348.6 162.3,348.6 161.6,348.6 160.9,348.6 160.1,348.6 159.4,348.6 158.7,348.6 158,348.6 157.2,348.6 156.5,348.6 155.8,348.6 155.1,348.6 154.3,348.6 153.6,348.6 152.9,348.6 152.2,348.6 151.5,348.6 150.7,348.6 150,348.6 149.3,348.6 148.6,348.6 147.8,348.6 147.1,348.6 146.4,348.6 145.7,348.6 145,348.6 144.2,348.6 143.5,348.6 142.8,348.6 142.1,348.6 141.3,348.6 140.6,348.6 139.9,348.6 139.2,348.6 138.5,348.6 137.7,348.6 137,348.6 136.3,348.6 135.6,348.6 134.8,348.6 134.1,348.6 133.4,348.6 132.7,348.6 131.9,348.6 131.2,348.6 130.5,348.6 129.8,348.6 129.1,348.6 128.3,348.6 127.6,348.7 126.9,348.7 126.2,348.7 125.4,348.7 124.7,348.7 124,348.7 123.3,348.7 122.6,348.7 121.8,348.7 121.1,348.8 120.4,348.8 119.7,348.8 118.9,348.8 118.2,348.9 117.5,348.9 116.8,348.9 116,349 115.3,349 114.6,349.1 113.9,349.1 113.2,349.2 112.4,349.3 111.7,349.3 111,349.4 110.3,349.5 109.5,349.6 108.8,349.7 108.1,349.9 107.4,350 106.7,350.1 105.9,350.3 105.2,350.5 104.5,350.7 103.8,350.9 103,351.1 102.3,351.3 101.6,351.5 100.9,351.8 100.1,352 99.4,352.3 98.7,352.6 98,352.8 97.3,353.1 96.5,353.4 95.8,353.7 95.1,353.9 94.4,354.2 93.6,354.5 92.9,354.7 92.2,354.9 91.5,355.2 90.8,355.4 90,355.6 89.3,355.8 88.6,356 87.9,356.2 87.1,356.3 86.4,356.5 85.7,356.6 85,356.7 84.2,356.8 83.5,356.9 82.8,357 82.1,357.1 81.4,357.2 80.6,357.2 79.9,357.3 79.2,357.4 78.5,357.4 77.7,357.4 77,357.5 76.3,357.5 75.6,357.5 74.9,357.6 74.1,357.6 73.4,357.6 72.7,357.6 72,357.7 71.2,357.7 70.5,357.7 69.8,357.7 69.1,357.7 68.3,357.7 67.6,357.7 66.9,357.7 66.2,357.7 65.5,357.8 64.7,357.8 64,357.8 63.3,357.8 62.6,357.8 61.8,357.8 61.1,357.8 60.4,357.8 59.7,357.8 59,357.8 58.2,357.8 57.5,357.8 56.8,357.8 56.1,357.8 55.3,357.8 54.6,357.8 53.9,357.8 53.2,357.8 52.4,357.8 51.7,357.8 51,357.8 50.3,357.8 49.6,357.8 48.8,357.8 48.1,357.8 47.4,357.8 46.7,357.8 45.9,357.8 45.2,357.8 44.5,357.8" fill="#aef2f4" />
<polyline points="44.5,357.8 45.2,357.8 45.9,357.8 46.7,357.8 47.4,357.8 48.1,357.8 48.8,357.8 49.6,357.8 50.3,357.8 51,357.8 51.7,357.8 52.4,357.8 53.2,357.8 53.9,357.8 54.6,357.8 55.3,357.8 56.1,357.8 56.8,357.8 57.5,357.8 58.2,357.8 59,357.8 59.7,357.8 60.4,357.8 61.1,357.8 61.8,357.8 62.6,357.8 63.3,357.8 64,357.8 64.7,357.8 65.5,357.8 66.2,357.7 66.9,357.7 67.6,357.7 68.3,357.7 69.1,357.7 69.8,357.7 70.5,357.7 71.2,357.7 72,357.7 72.7,357.6 73.4,357.6 74.1,357.6 74.9,357.6 75.6,357.5 76.3,357.5 77,357.5 77.7,357.4 78.5,357.4 79.2,357.4 79.9,357.3 80.6,357.2 81.4,357.2 82.1,357.1 82.8,357 83.5,356.9 84.2,356.8 85,356.7 85.7,356.6 86.4,356.5 87.1,356.3 87.9,356.2 88.6,356 89.3,355.8 90,355.6 90.8,355.4 91.5,355.2 92.2,354.9 92.9,354.7 93.6,354.5 94.4,354.2 95.1,353.9 95.8,353.7 96.5,353.4 97.3,353.1 98,352.8 98.7,352.6 99.4,352.3 100.1,352 100.9,351.8 101.6,351.5 102.3,351.3 103,351.1 103.8,350.9 104.5,350.7 105.2,350.5 105.9,350.3 106.7,350.1 107.4,350 108.1,349.9 108.8,349.7 109.5,349.6 110.3,349.5 111,349.4 111.7,349.3 112.4,349.3 113.2,349.2 113.9,349.1 114.6,349.1 115.3,349 116,349 116.8,348.9 117.5,348.9 118.2,348.9 118.9,348.8 119.7,348.8 120.4,348.8 121.1,348.8 121.8,348.7 122.6,348.7 123.3,348.7 124,348.7 124.7,348.7 125.4,348.7 126.2,348.7 126.9,348.7 127.6,348.7 128.3,348.6 129.1,348.6 129.8,348.6 130.5,348.6 131.2,348.6 131.9,348.6 132.7,348.6 133.4,348.6 134.1,348.6 134.8,348.6 135.6,348.6 136.3,348.6 137,348.6 137.7,348.6 138.5,348.6 139.2,348.6 139.9,348.6 140.6,348.6 141.3,348.6 142.1,348.6 142.8,348.6 143.5,348.6 144.2,348.6 145,348.6 145.7,348.6 146.4,348.6 147.1,348.6 147.8,348.6 148.6,348.6 149.3,348.6 150,348.6 150.7,348.6 151.5,348.6 152.2,348.6 152.9,348.6 153.6,348.6 154.3,348.6 155.1,348.6 155.8,348.6 156.5,348.6 157.2,348.6 158,348.6 158.7,348.6 159.4,348.6 160.1,348.6 160.9,348.6 161.6,348.6 162.3,348.6 163,348.6 163.7,348.6 164.5,348.6 165.2,348.6 165.9,348.6 166.6,348.6 167.4,348.6 168.1,348.6 168.8,348.6 169.5,348.6 170.2,348.6 171,348.6 171.7,348.6 172.4,348.6 173.1,348.6 173.9,348.6 174.6,348.6 175.3,348.6 176,348.6 176.8,348.6 177.5,348.6 178.2,348.6 178.9,348.6 179.6,348.6 180.4,348.6 181.1,348.6 181.8,348.6 182.5,348.6 183.3,348.6 184,348.6 184.7,348.6 185.4,348.6 186.1,348.6 186.9,348.6 187.6,348.6 188.3,348.6 189,348.6 189.8,348.6 190.5,348.6 191.2,348.6 191.9,348.6 192.7,348.6 193.4,348.6 194.1,348.6 194.8,348.6 195.5,348.6 196.3,348.6 197,348.6 197.7,348.6 198.4,348.6 199.2,348.6 199.9,348.6 200.6,348.6 201.3,348.6 202,348.6 202.8,348.6 203.5,348.6 204.2,348.6 204.9,348.6 205.7,348.6 206.4,348.6 207.1,348.6 207.8,348.6 208.6,348.6 209.3,348.6 210,348.6 210.7,348.6 211.4,348.6 212.2,348.6 212.9,348.6 213.6,348.6 214.3,348.6 215.1,348.6 215.8,348.6 216.5,348.6 217.2,348.6 217.9,348.6 218.7,348.6 219.4,348.6 220.1,348.6 220.8,348.6 221.6,348.6 222.3,348.6 223,348.6 223.7,348.6 224.5,348.6 225.2,348.6 225.9,348.6 226.6,348.6 227.3,348.6 228.1,348.6 228.8,348.6 229.5,348.6 230.2,348.6 231,348.6 231.7,348.6 232.4,348.6" fill="none" stroke="#8a8a8a" stroke-width="1" stroke-linejoin="round" />
<g fill="none" stroke="#444" stroke-width="0.85"><circle cx="44.5" cy="355.9" r="1.9"/><circle cx="45.9" cy="355.8" r="1.9"/><circle cx="47.4" cy="356.8" r="1.9"/><circle cx="48.8" cy="355" r="1.9"/><circle cx="50.3" cy="356.1" r="1.9"/><circle cx="51.7" cy="354.8" r="1.9"/><circle cx="53.2" cy="356.6" r="1.9"/><circle cx="54.6" cy="356" r="1.9"/><circle cx="56.1" cy="356.5" r="1.9"/><circle cx="57.5" cy="355.2" r="1.9"/><circle cx="59" cy="355.5" r="1.9"/><circle cx="60.4" cy="354.8" r="1.9"/><circle cx="61.8" cy="354.2" r="1.9"/><circle cx="63.3" cy="354.4" r="1.9"/><circle cx="64.7" cy="353.2" r="1.9"/><circle cx="66.2" cy="353.2" r="1.9"/><circle cx="67.6" cy="353.3" r="1.9"/><circle cx="69.1" cy="352.2" r="1.9"/><circle cx="70.5" cy="351.1" r="1.9"/><circle cx="72" cy="351.7" r="1.9"/><circle cx="73.4" cy="349.1" r="1.9"/><circle cx="74.9" cy="347.1" r="1.9"/><circle cx="76.3" cy="345.3" r="1.9"/><circle cx="77.7" cy="341.9" r="1.9"/><circle cx="79.2" cy="338" r="1.9"/><circle cx="80.6" cy="332.7" r="1.9"/><circle cx="82.1" cy="327.3" r="1.9"/><circle cx="83.5" cy="317.3" r="1.9"/><circle cx="85" cy="306.6" r="1.9"/><circle cx="86.4" cy="294.2" r="1.9"/><circle cx="87.9" cy="280.7" r="1.9"/><circle cx="89.3" cy="264.2" r="1.9"/><circle cx="90.8" cy="248.9" r="1.9"/><circle cx="92.2" cy="237.4" r="1.9"/><circle cx="93.6" cy="225.3" r="1.9"/><circle cx="95.1" cy="221.4" r="1.9"/><circle cx="96.5" cy="223" r="1.9"/><circle cx="98" cy="229.9" r="1.9"/><circle cx="99.4" cy="237.7" r="1.9"/><circle cx="100.9" cy="249" r="1.9"/><circle cx="102.3" cy="264.1" r="1.9"/><circle cx="103.8" cy="276.3" r="1.9"/><circle cx="105.2" cy="288.2" r="1.9"/><circle cx="106.7" cy="298.7" r="1.9"/><circle cx="108.1" cy="306.6" r="1.9"/><circle cx="109.5" cy="312.8" r="1.9"/><circle cx="111" cy="316.8" r="1.9"/><circle cx="112.4" cy="321" r="1.9"/><circle cx="113.9" cy="323.3" r="1.9"/><circle cx="115.3" cy="323.9" r="1.9"/><circle cx="116.8" cy="324.8" r="1.9"/><circle cx="118.2" cy="326.5" r="1.9"/><circle cx="119.7" cy="327.1" r="1.9"/><circle cx="121.1" cy="327" r="1.9"/><circle cx="122.6" cy="328.2" r="1.9"/><circle cx="124" cy="329.9" r="1.9"/><circle cx="125.4" cy="330.1" r="1.9"/><circle cx="126.9" cy="330.7" r="1.9"/><circle cx="128.3" cy="331.9" r="1.9"/><circle cx="129.8" cy="332.5" r="1.9"/><circle cx="131.2" cy="333.3" r="1.9"/><circle cx="132.7" cy="332.8" r="1.9"/><circle cx="134.1" cy="335.7" r="1.9"/><circle cx="135.6" cy="335.3" r="1.9"/><circle cx="137" cy="335.2" r="1.9"/><circle cx="138.5" cy="336.8" r="1.9"/><circle cx="139.9" cy="336.8" r="1.9"/><circle cx="141.3" cy="337" r="1.9"/><circle cx="142.8" cy="337.9" r="1.9"/><circle cx="144.2" cy="338.9" r="1.9"/><circle cx="145.7" cy="338.1" r="1.9"/><circle cx="147.1" cy="338.9" r="1.9"/><circle cx="148.6" cy="339.4" r="1.9"/><circle cx="150" cy="337.7" r="1.9"/><circle cx="151.5" cy="338.1" r="1.9"/><circle cx="152.9" cy="339" r="1.9"/><circle cx="154.3" cy="337.7" r="1.9"/><circle cx="155.8" cy="338.7" r="1.9"/><circle cx="157.2" cy="339.8" r="1.9"/><circle cx="158.7" cy="339.8" r="1.9"/><circle cx="160.1" cy="339.7" r="1.9"/><circle cx="161.6" cy="338.4" r="1.9"/><circle cx="163" cy="341.1" r="1.9"/><circle cx="164.5" cy="340.2" r="1.9"/><circle cx="165.9" cy="340.5" r="1.9"/><circle cx="167.4" cy="340.6" r="1.9"/><circle cx="168.8" cy="339.4" r="1.9"/><circle cx="170.2" cy="339.8" r="1.9"/><circle cx="171.7" cy="340.2" r="1.9"/><circle cx="173.1" cy="342.3" r="1.9"/><circle cx="174.6" cy="340.9" r="1.9"/><circle cx="176" cy="341.5" r="1.9"/><circle cx="177.5" cy="341.8" r="1.9"/><circle cx="178.9" cy="342.6" r="1.9"/><circle cx="180.4" cy="342.8" r="1.9"/><circle cx="181.8" cy="342.9" r="1.9"/><circle cx="183.3" cy="342.3" r="1.9"/><circle cx="184.7" cy="341.4" r="1.9"/><circle cx="186.1" cy="343.7" r="1.9"/><circle cx="187.6" cy="344" r="1.9"/><circle cx="189" cy="344.9" r="1.9"/><circle cx="190.5" cy="344.3" r="1.9"/><circle cx="191.9" cy="344.3" r="1.9"/><circle cx="193.4" cy="345.1" r="1.9"/><circle cx="194.8" cy="344.2" r="1.9"/><circle cx="196.3" cy="344.8" r="1.9"/><circle cx="197.7" cy="345" r="1.9"/><circle cx="199.2" cy="346" r="1.9"/><circle cx="200.6" cy="347.3" r="1.9"/><circle cx="202" cy="346.7" r="1.9"/><circle cx="203.5" cy="347.1" r="1.9"/><circle cx="204.9" cy="346.7" r="1.9"/><circle cx="206.4" cy="346.9" r="1.9"/><circle cx="207.8" cy="346.6" r="1.9"/><circle cx="209.3" cy="346.9" r="1.9"/><circle cx="210.7" cy="345.7" r="1.9"/><circle cx="212.2" cy="346.6" r="1.9"/><circle cx="213.6" cy="346.7" r="1.9"/><circle cx="215.1" cy="348.1" r="1.9"/><circle cx="216.5" cy="348.1" r="1.9"/><circle cx="217.9" cy="348.4" r="1.9"/><circle cx="219.4" cy="348.8" r="1.9"/><circle cx="220.8" cy="347.7" r="1.9"/><circle cx="222.3" cy="348.6" r="1.9"/><circle cx="223.7" cy="349.2" r="1.9"/><circle cx="225.2" cy="348.1" r="1.9"/><circle cx="226.6" cy="348.8" r="1.9"/><circle cx="228.1" cy="348.1" r="1.9"/><circle cx="229.5" cy="347.3" r="1.9"/><circle cx="231" cy="348.4" r="1.9"/><circle cx="232.4" cy="347.8" r="1.9"/><circle cx="94" cy="214.8" r="1.9"/><circle cx="96.7" cy="214.8" r="1.9"/></g>
<polyline points="44.5,356.6 45.2,356.5 45.9,356.5 46.7,356.5 47.4,356.4 48.1,356.4 48.8,356.3 49.6,356.3 50.3,356.2 51,356.2 51.7,356.1 52.4,356 53.2,356 53.9,355.9 54.6,355.8 55.3,355.7 56.1,355.7 56.8,355.6 57.5,355.5 58.2,355.4 59,355.2 59.7,355.1 60.4,355 61.1,354.8 61.8,354.7 62.6,354.5 63.3,354.3 64,354.1 64.7,353.9 65.5,353.7 66.2,353.4 66.9,353.2 67.6,352.9 68.3,352.6 69.1,352.2 69.8,351.8 70.5,351.4 71.2,350.9 72,350.4 72.7,349.8 73.4,349.1 74.1,348.3 74.9,347.4 75.6,346.4 76.3,345.2 77,343.8 77.7,342.2 78.5,340.4 79.2,338.3 79.9,335.8 80.6,333 81.4,329.7 82.1,326 82.8,321.9 83.5,317.3 84.2,312.1 85,306.5 85.7,300.4 86.4,293.8 87.1,286.8 87.9,279.5 88.6,272 89.3,264.3 90,256.7 90.8,249.3 91.5,242.3 92.2,235.9 92.9,230.5 93.6,226.2 94.4,223.2 95.1,221.6 95.8,221.5 96.5,222.6 97.3,225 98,228.5 98.7,233 99.4,238.3 100.1,244.1 100.9,250.5 101.6,257 102.3,263.7 103,270.3 103.8,276.6 104.5,282.7 105.2,288.4 105.9,293.7 106.7,298.4 107.4,302.7 108.1,306.5 108.8,309.8 109.5,312.6 110.3,315 111,317.1 111.7,318.8 112.4,320.2 113.2,321.4 113.9,322.4 114.6,323.2 115.3,323.9 116,324.5 116.8,325.1 117.5,325.6 118.2,326 118.9,326.4 119.7,326.9 120.4,327.3 121.1,327.7 121.8,328.1 122.6,328.5 123.3,328.9 124,329.3 124.7,329.7 125.4,330.1 126.2,330.5 126.9,330.9 127.6,331.3 128.3,331.7 129.1,332.1 129.8,332.5 130.5,332.9 131.2,333.3 131.9,333.6 132.7,334 133.4,334.3 134.1,334.6 134.8,334.9 135.6,335.2 136.3,335.5 137,335.7 137.7,336 138.5,336.2 139.2,336.4 139.9,336.6 140.6,336.8 141.3,337 142.1,337.1 142.8,337.3 143.5,337.4 144.2,337.5 145,337.6 145.7,337.7 146.4,337.8 147.1,337.9 147.8,338 148.6,338.1 149.3,338.2 150,338.3 150.7,338.3 151.5,338.4 152.2,338.5 152.9,338.6 153.6,338.6 154.3,338.7 155.1,338.8 155.8,338.9 156.5,339 157.2,339 158,339.1 158.7,339.2 159.4,339.3 160.1,339.3 160.9,339.4 161.6,339.5 162.3,339.6 163,339.7 163.7,339.8 164.5,339.9 165.2,340 165.9,340.1 166.6,340.2 167.4,340.3 168.1,340.4 168.8,340.5 169.5,340.6 170.2,340.7 171,340.8 171.7,340.9 172.4,341 173.1,341.2 173.9,341.3 174.6,341.4 175.3,341.5 176,341.7 176.8,341.8 177.5,341.9 178.2,342.1 178.9,342.2 179.6,342.3 180.4,342.5 181.1,342.6 181.8,342.8 182.5,342.9 183.3,343 184,343.2 184.7,343.3 185.4,343.5 186.1,343.6 186.9,343.7 187.6,343.9 188.3,344 189,344.1 189.8,344.3 190.5,344.4 191.2,344.5 191.9,344.7 192.7,344.8 193.4,344.9 194.1,345 194.8,345.1 195.5,345.3 196.3,345.4 197,345.5 197.7,345.6 198.4,345.7 199.2,345.8 199.9,345.9 200.6,346 201.3,346.1 202,346.2 202.8,346.3 203.5,346.4 204.2,346.5 204.9,346.6 205.7,346.7 206.4,346.8 207.1,346.8 207.8,346.9 208.6,347 209.3,347.1 210,347.1 210.7,347.2 211.4,347.3 212.2,347.3 212.9,347.4 213.6,347.4 214.3,347.5 215.1,347.6 215.8,347.6 216.5,347.7 217.2,347.7 217.9,347.7 218.7,347.8 219.4,347.8 220.1,347.9 220.8,347.9 221.6,347.9 222.3,348 223,348 223.7,348 224.5,348.1 225.2,348.1 225.9,348.1 226.6,348.2 227.3,348.2 228.1,348.2 228.8,348.2 229.5,348.3 230.2,348.3 231,348.3 231.7,348.3 232.4,348.3" fill="none" stroke="#f02828" stroke-width="1.6" stroke-linejoin="round" />
<polyline points="44.5,356.6 45.2,356.6 45.9,356.5 46.7,356.5 47.4,356.5 48.1,356.4 48.8,356.4 49.6,356.3 50.3,356.3 51,356.2 51.7,356.2 52.4,356.1 53.2,356.1 53.9,356 54.6,355.9 55.3,355.9 56.1,355.8 56.8,355.7 57.5,355.7 58.2,355.6 59,355.5 59.7,355.4 60.4,355.3 61.1,355.2 61.8,355.1 62.6,355 63.3,354.8 64,354.7 64.7,354.6 65.5,354.4 66.2,354.2 66.9,354.1 67.6,353.9 68.3,353.7 69.1,353.4 69.8,353.2 70.5,352.9 71.2,352.5 72,352.2 72.7,351.7 73.4,351.2 74.1,350.6 74.9,350 75.6,349.2 76.3,348.2 77,347.1 77.7,345.8 78.5,344.2 79.2,342.4 79.9,340.2 80.6,337.7 81.4,334.8 82.1,331.5 82.8,327.8 83.5,323.6 84.2,318.8 85,313.6 85.7,308 86.4,301.8 87.1,295.3 87.9,288.5 88.6,281.5 89.3,274.3 90,267.2 90.8,260.3 91.5,253.9 92.2,248.1 92.9,243.2 93.6,239.4 94.4,236.9 95.1,235.9 95.8,236.3 96.5,238 97.3,240.9 98,245 98.7,250 99.4,255.7 100.1,262.1 100.9,268.9 101.6,275.9 102.3,282.9 103,289.9 103.8,296.7 104.5,303.1 105.2,309.1 105.9,314.7 106.7,319.7 107.4,324.2 108.1,328.2 108.8,331.7 109.5,334.6 110.3,337.2 111,339.3 111.7,341 112.4,342.4 113.2,343.6 113.9,344.5 114.6,345.3 115.3,345.9 116,346.3 116.8,346.7 117.5,346.9 118.2,347.1 118.9,347.3 119.7,347.4 120.4,347.5 121.1,347.6 121.8,347.7 122.6,347.7 123.3,347.8 124,347.8 124.7,347.8 125.4,347.9 126.2,347.9 126.9,347.9 127.6,348 128.3,348 129.1,348 129.8,348 130.5,348 131.2,348.1 131.9,348.1 132.7,348.1 133.4,348.1 134.1,348.1 134.8,348.1 135.6,348.2 136.3,348.2 137,348.2 137.7,348.2 138.5,348.2 139.2,348.2 139.9,348.2 140.6,348.2 141.3,348.2 142.1,348.3 142.8,348.3 143.5,348.3 144.2,348.3 145,348.3 145.7,348.3 146.4,348.3 147.1,348.3 147.8,348.3 148.6,348.3 149.3,348.3 150,348.3 150.7,348.4 151.5,348.4 152.2,348.4 152.9,348.4 153.6,348.4 154.3,348.4 155.1,348.4 155.8,348.4 156.5,348.4 157.2,348.4 158,348.4 158.7,348.4 159.4,348.4 160.1,348.4 160.9,348.4 161.6,348.4 162.3,348.4 163,348.4 163.7,348.4 164.5,348.4 165.2,348.4 165.9,348.4 166.6,348.4 167.4,348.5 168.1,348.5 168.8,348.5 169.5,348.5 170.2,348.5 171,348.5 171.7,348.5 172.4,348.5 173.1,348.5 173.9,348.5 174.6,348.5 175.3,348.5 176,348.5 176.8,348.5 177.5,348.5 178.2,348.5 178.9,348.5 179.6,348.5 180.4,348.5 181.1,348.5 181.8,348.5 182.5,348.5 183.3,348.5 184,348.5 184.7,348.5 185.4,348.5 186.1,348.5 186.9,348.5 187.6,348.5 188.3,348.5 189,348.5 189.8,348.5 190.5,348.5 191.2,348.5 191.9,348.5 192.7,348.5 193.4,348.5 194.1,348.5 194.8,348.5 195.5,348.5 196.3,348.5 197,348.5 197.7,348.5 198.4,348.5 199.2,348.5 199.9,348.5 200.6,348.5 201.3,348.5 202,348.5 202.8,348.5 203.5,348.5 204.2,348.5 204.9,348.5 205.7,348.5 206.4,348.5 207.1,348.5 207.8,348.5 208.6,348.5 209.3,348.5 210,348.5 210.7,348.5 211.4,348.5 212.2,348.5 212.9,348.5 213.6,348.5 214.3,348.5 215.1,348.5 215.8,348.5 216.5,348.5 217.2,348.5 217.9,348.5 218.7,348.5 219.4,348.5 220.1,348.5 220.8,348.6 221.6,348.6 222.3,348.6 223,348.6 223.7,348.6 224.5,348.6 225.2,348.6 225.9,348.6 226.6,348.6 227.3,348.6 228.1,348.6 228.8,348.6 229.5,348.6 230.2,348.6 231,348.6 231.7,348.6 232.4,348.6" fill="none" stroke="#1a1aff" stroke-width="1.2" stroke-linejoin="round" />
<polyline points="44.5,357.8 45.2,357.8 45.9,357.8 46.7,357.8 47.4,357.8 48.1,357.8 48.8,357.8 49.6,357.8 50.3,357.7 51,357.7 51.7,357.7 52.4,357.7 53.2,357.7 53.9,357.7 54.6,357.7 55.3,357.7 56.1,357.6 56.8,357.6 57.5,357.6 58.2,357.6 59,357.5 59.7,357.5 60.4,357.5 61.1,357.4 61.8,357.4 62.6,357.3 63.3,357.3 64,357.2 64.7,357.1 65.5,357 66.2,357 66.9,356.9 67.6,356.7 68.3,356.6 69.1,356.5 69.8,356.4 70.5,356.2 71.2,356.1 72,355.9 72.7,355.7 73.4,355.5 74.1,355.3 74.9,355.1 75.6,354.8 76.3,354.5 77,354.2 77.7,353.9 78.5,353.6 79.2,353.3 79.9,352.9 80.6,352.5 81.4,352.1 82.1,351.6 82.8,351.2 83.5,350.7 84.2,350.2 85,349.6 85.7,349.1 86.4,348.5 87.1,347.9 87.9,347.2 88.6,346.6 89.3,345.9 90,345.2 90.8,344.5 91.5,343.7 92.2,343 92.9,342.2 93.6,341.4 94.4,340.6 95.1,339.8 95.8,339 96.5,338.2 97.3,337.4 98,336.7 98.7,335.9 99.4,335.2 100.1,334.5 100.9,333.8 101.6,333.1 102.3,332.5 103,331.9 103.8,331.4 104.5,330.9 105.2,330.4 105.9,330 106.7,329.7 107.4,329.3 108.1,329.1 108.8,328.8 109.5,328.6 110.3,328.5 111,328.4 111.7,328.4 112.4,328.4 113.2,328.4 113.9,328.5 114.6,328.7 115.3,328.9 116,329.1 116.8,329.3 117.5,329.6 118.2,330 118.9,330.3 119.7,330.7 120.4,331.2 121.1,331.6 121.8,332.1 122.6,332.5 123.3,333 124,333.6 124.7,334.1 125.4,334.6 126.2,335.2 126.9,335.7 127.6,336.3 128.3,336.8 129.1,337.3 129.8,337.9 130.5,338.4 131.2,338.9 131.9,339.5 132.7,340 133.4,340.4 134.1,340.9 134.8,341.4 135.6,341.8 136.3,342.3 137,342.7 137.7,343.1 138.5,343.5 139.2,343.8 139.9,344.2 140.6,344.5 141.3,344.8 142.1,345.1 142.8,345.4 143.5,345.7 144.2,345.9 145,346.1 145.7,346.4 146.4,346.5 147.1,346.7 147.8,346.9 148.6,347.1 149.3,347.2 150,347.3 150.7,347.5 151.5,347.6 152.2,347.7 152.9,347.8 153.6,347.9 154.3,347.9 155.1,348 155.8,348.1 156.5,348.1 157.2,348.2 158,348.2 158.7,348.3 159.4,348.3 160.1,348.4 160.9,348.4 161.6,348.4 162.3,348.4 163,348.5 163.7,348.5 164.5,348.5 165.2,348.5 165.9,348.5 166.6,348.5 167.4,348.5 168.1,348.5 168.8,348.6 169.5,348.6 170.2,348.6 171,348.6 171.7,348.6 172.4,348.6 173.1,348.6 173.9,348.6 174.6,348.6 175.3,348.6 176,348.6 176.8,348.6 177.5,348.6 178.2,348.6 178.9,348.6 179.6,348.6 180.4,348.6 181.1,348.6 181.8,348.6 182.5,348.6 183.3,348.6 184,348.6 184.7,348.6 185.4,348.6 186.1,348.6 186.9,348.6 187.6,348.6 188.3,348.6 189,348.6 189.8,348.6 190.5,348.6 191.2,348.6 191.9,348.6 192.7,348.6 193.4,348.6 194.1,348.6 194.8,348.6 195.5,348.6 196.3,348.6 197,348.6 197.7,348.6 198.4,348.6 199.2,348.6 199.9,348.6 200.6,348.6 201.3,348.6 202,348.6 202.8,348.6 203.5,348.6 204.2,348.6 204.9,348.6 205.7,348.6 206.4,348.6 207.1,348.6 207.8,348.6 208.6,348.6 209.3,348.6 210,348.6 210.7,348.6 211.4,348.6 212.2,348.6 212.9,348.6 213.6,348.6 214.3,348.6 215.1,348.6 215.8,348.6 216.5,348.6 217.2,348.6 217.9,348.6 218.7,348.6 219.4,348.6 220.1,348.6 220.8,348.6 221.6,348.6 222.3,348.6 223,348.6 223.7,348.6 224.5,348.6 225.2,348.6 225.9,348.6 226.6,348.6 227.3,348.6 228.1,348.6 228.8,348.6 229.5,348.6 230.2,348.6 231,348.6 231.7,348.6 232.4,348.6" fill="none" stroke="#8a8a00" stroke-width="1.2" stroke-linejoin="round" />
<polyline points="44.5,357.8 45.2,357.8 45.9,357.8 46.7,357.8 47.4,357.8 48.1,357.8 48.8,357.8 49.6,357.8 50.3,357.8 51,357.8 51.7,357.8 52.4,357.8 53.2,357.8 53.9,357.8 54.6,357.8 55.3,357.8 56.1,357.8 56.8,357.8 57.5,357.8 58.2,357.8 59,357.8 59.7,357.8 60.4,357.8 61.1,357.8 61.8,357.8 62.6,357.8 63.3,357.8 64,357.8 64.7,357.8 65.5,357.8 66.2,357.7 66.9,357.7 67.6,357.7 68.3,357.7 69.1,357.7 69.8,357.7 70.5,357.7 71.2,357.7 72,357.7 72.7,357.6 73.4,357.6 74.1,357.6 74.9,357.6 75.6,357.5 76.3,357.5 77,357.5 77.7,357.4 78.5,357.4 79.2,357.3 79.9,357.3 80.6,357.2 81.4,357.1 82.1,357.1 82.8,357 83.5,356.9 84.2,356.8 85,356.7 85.7,356.5 86.4,356.4 87.1,356.2 87.9,356.1 88.6,355.9 89.3,355.7 90,355.5 90.8,355.3 91.5,355 92.2,354.8 92.9,354.5 93.6,354.3 94.4,354 95.1,353.7 95.8,353.4 96.5,353.1 97.3,352.8 98,352.5 98.7,352.2 99.4,351.9 100.1,351.6 100.9,351.3 101.6,351.1 102.3,350.8 103,350.5 103.8,350.3 104.5,350 105.2,349.8 105.9,349.6 106.7,349.3 107.4,349.1 108.1,348.9 108.8,348.7 109.5,348.5 110.3,348.4 111,348.2 111.7,348 112.4,347.9 113.2,347.7 113.9,347.5 114.6,347.4 115.3,347.2 116,347.1 116.8,346.9 117.5,346.8 118.2,346.6 118.9,346.5 119.7,346.3 120.4,346.1 121.1,346 121.8,345.8 122.6,345.7 123.3,345.5 124,345.3 124.7,345.2 125.4,345 126.2,344.8 126.9,344.6 127.6,344.4 128.3,344.3 129.1,344.1 129.8,343.9 130.5,343.7 131.2,343.5 131.9,343.4 132.7,343.2 133.4,343 134.1,342.8 134.8,342.6 135.6,342.4 136.3,342.3 137,342.1 137.7,341.9 138.5,341.7 139.2,341.6 139.9,341.4 140.6,341.2 141.3,341.1 142.1,340.9 142.8,340.8 143.5,340.7 144.2,340.5 145,340.4 145.7,340.3 146.4,340.2 147.1,340.1 147.8,340 148.6,339.9 149.3,339.8 150,339.8 150.7,339.7 151.5,339.7 152.2,339.6 152.9,339.6 153.6,339.6 154.3,339.6 155.1,339.6 155.8,339.6 156.5,339.6 157.2,339.6 158,339.7 158.7,339.7 159.4,339.7 160.1,339.8 160.9,339.8 161.6,339.9 162.3,339.9 163,340 163.7,340.1 164.5,340.1 165.2,340.2 165.9,340.3 166.6,340.4 167.4,340.5 168.1,340.6 168.8,340.7 169.5,340.8 170.2,340.9 171,341 171.7,341.1 172.4,341.2 173.1,341.3 173.9,341.4 174.6,341.6 175.3,341.7 176,341.8 176.8,341.9 177.5,342.1 178.2,342.2 178.9,342.3 179.6,342.5 180.4,342.6 181.1,342.7 181.8,342.9 182.5,343 183.3,343.1 184,343.3 184.7,343.4 185.4,343.5 186.1,343.7 186.9,343.8 187.6,344 188.3,344.1 189,344.2 189.8,344.4 190.5,344.5 191.2,344.6 191.9,344.7 192.7,344.9 193.4,345 194.1,345.1 194.8,345.2 195.5,345.3 196.3,345.5 197,345.6 197.7,345.7 198.4,345.8 199.2,345.9 199.9,346 200.6,346.1 201.3,346.2 202,346.3 202.8,346.4 203.5,346.5 204.2,346.6 204.9,346.7 205.7,346.7 206.4,346.8 207.1,346.9 207.8,347 208.6,347 209.3,347.1 210,347.2 210.7,347.3 211.4,347.3 212.2,347.4 212.9,347.4 213.6,347.5 214.3,347.6 215.1,347.6 215.8,347.7 216.5,347.7 217.2,347.8 217.9,347.8 218.7,347.8 219.4,347.9 220.1,347.9 220.8,348 221.6,348 222.3,348 223,348.1 223.7,348.1 224.5,348.1 225.2,348.2 225.9,348.2 226.6,348.2 227.3,348.2 228.1,348.3 228.8,348.3 229.5,348.3 230.2,348.3 231,348.3 231.7,348.3 232.4,348.4" fill="none" stroke="#00e6f2" stroke-width="1.2" stroke-linejoin="round" />
<rect x="44.5" y="210.6" width="187.9" height="150.4" fill="none" stroke="#151515" stroke-width="1.2"/>
<line x1="59" y1="361" x2="59" y2="364" stroke="#151515" stroke-width="1.1" />
<text x="59" y="372.6" font-family="Liberation Serif" font-weight="bold" font-size="7.6" text-anchor="middle" >282</text>
<line x1="87.9" y1="361" x2="87.9" y2="364" stroke="#151515" stroke-width="1.1" />
<text x="87.9" y="372.6" font-family="Liberation Serif" font-weight="bold" font-size="7.6" text-anchor="middle" >284</text>
<line x1="116.8" y1="361" x2="116.8" y2="364" stroke="#151515" stroke-width="1.1" />
<text x="116.8" y="372.6" font-family="Liberation Serif" font-weight="bold" font-size="7.6" text-anchor="middle" >286</text>
<line x1="145.7" y1="361" x2="145.7" y2="364" stroke="#151515" stroke-width="1.1" />
<text x="145.7" y="372.6" font-family="Liberation Serif" font-weight="bold" font-size="7.6" text-anchor="middle" >288</text>
<line x1="174.6" y1="361" x2="174.6" y2="364" stroke="#151515" stroke-width="1.1" />
<text x="174.6" y="372.6" font-family="Liberation Serif" font-weight="bold" font-size="7.6" text-anchor="middle" >290</text>
<line x1="203.5" y1="361" x2="203.5" y2="364" stroke="#151515" stroke-width="1.1" />
<text x="203.5" y="372.6" font-family="Liberation Serif" font-weight="bold" font-size="7.6" text-anchor="middle" >292</text>
<line x1="232.4" y1="361" x2="232.4" y2="364" stroke="#151515" stroke-width="1.1" />
<text x="232.4" y="372.6" font-family="Liberation Serif" font-weight="bold" font-size="7.6" text-anchor="middle" >294</text>
<line x1="73.4" y1="361" x2="73.4" y2="363" stroke="#151515" stroke-width="1" />
<line x1="102.3" y1="361" x2="102.3" y2="363" stroke="#151515" stroke-width="1" />
<line x1="131.2" y1="361" x2="131.2" y2="363" stroke="#151515" stroke-width="1" />
<line x1="160.1" y1="361" x2="160.1" y2="363" stroke="#151515" stroke-width="1" />
<line x1="189" y1="361" x2="189" y2="363" stroke="#151515" stroke-width="1" />
<line x1="217.9" y1="361" x2="217.9" y2="363" stroke="#151515" stroke-width="1" />
<line x1="44.5" y1="358.5" x2="41.3" y2="358.5" stroke="#151515" stroke-width="1.1" />
<text x="38.9" y="361.5" font-family="Liberation Serif" font-weight="bold" font-size="7.6" text-anchor="end" >0</text>
<line x1="44.5" y1="331.9" x2="41.3" y2="331.9" stroke="#151515" stroke-width="1.1" />
<text x="38.9" y="334.9" font-family="Liberation Serif" font-weight="bold" font-size="7.6" text-anchor="end" >50000</text>
<line x1="44.5" y1="305.4" x2="41.3" y2="305.4" stroke="#151515" stroke-width="1.1" />
<text x="38.9" y="308.4" font-family="Liberation Serif" font-weight="bold" font-size="7.6" text-anchor="end" >100000</text>
<line x1="44.5" y1="278.9" x2="41.3" y2="278.9" stroke="#151515" stroke-width="1.1" />
<text x="38.9" y="281.9" font-family="Liberation Serif" font-weight="bold" font-size="7.6" text-anchor="end" >150000</text>
<line x1="44.5" y1="252.3" x2="41.3" y2="252.3" stroke="#151515" stroke-width="1.1" />
<text x="38.9" y="255.3" font-family="Liberation Serif" font-weight="bold" font-size="7.6" text-anchor="end" >200000</text>
<line x1="44.5" y1="225.8" x2="41.3" y2="225.8" stroke="#151515" stroke-width="1.1" />
<text x="38.9" y="228.8" font-family="Liberation Serif" font-weight="bold" font-size="7.6" text-anchor="end" >250000</text>
<rect x="138.5" y="221.7" width="74.8" height="53" rx="1" fill="#fff" stroke="#777" stroke-width="0.9"/>
<circle cx="147.2" cy="226" r="2.1" fill="none" stroke="#333" stroke-width="0.8"/>
<text x="157.2" y="228.5" font-family="Liberation Serif" font-size="7.4" fill="#111" stroke="#111" stroke-width="0.15" textLength="42.2" lengthAdjust="spacingAndGlyphs">Raw Intensity</text>
<line x1="138.5" y1="234.3" x2="156.2" y2="234.3" stroke="#f02a2a" stroke-width="2" />
<text x="157.2" y="236.8" font-family="Liberation Serif" font-size="7.4" fill="#111" stroke="#111" stroke-width="0.15" textLength="30.8" lengthAdjust="spacingAndGlyphs">Peak Sum</text>
<line x1="138.5" y1="243.1" x2="156.2" y2="243.1" stroke="#8a8a8a" stroke-width="1.6" />
<text x="157.2" y="245.6" font-family="Liberation Serif" font-size="7.4" fill="#111" stroke="#111" stroke-width="0.15" textLength="36.5" lengthAdjust="spacingAndGlyphs">Background</text>
<line x1="138.5" y1="252.6" x2="156.2" y2="252.6" stroke="#1a1aff" stroke-width="1.6" />
<text x="157.2" y="255.1" font-family="Liberation Serif" font-size="7.4" fill="#111" stroke="#111" stroke-width="0.15" textLength="47.1" lengthAdjust="spacingAndGlyphs">C=C (284.5 <tspan font-style="italic">eV</tspan>)</text>
<line x1="138.5" y1="261.3" x2="156.2" y2="261.3" stroke="#8a8a00" stroke-width="1.6" />
<text x="157.2" y="263.8" font-family="Liberation Serif" font-size="7.4" fill="#111" stroke="#111" stroke-width="0.15" textLength="46.2" lengthAdjust="spacingAndGlyphs">C-O (285.5 <tspan font-style="italic">eV</tspan>)</text>
<line x1="138.5" y1="270.2" x2="156.2" y2="270.2" stroke="#00e6f2" stroke-width="1.6" />
<text x="157.2" y="272.7" font-family="Liberation Serif" font-size="7.4" fill="#111" stroke="#111" stroke-width="0.15" textLength="55.7" lengthAdjust="spacingAndGlyphs">O-C=O (288.6 <tspan font-style="italic">eV</tspan>)</text>
<text x="10.9" y="201" font-family="Liberation Serif" font-weight="bold" font-size="21.3" text-anchor="start" textLength="26.9" lengthAdjust="spacingAndGlyphs">(d)</text>
<text x="49.3" y="237.5" font-family="Liberation Serif" font-weight="bold" font-size="14" text-anchor="start" textLength="26" lengthAdjust="spacingAndGlyphs">C 1s</text>
<text x="141.8" y="308.7" font-family="Liberation Serif" font-weight="bold" font-size="9.6" text-anchor="start" textLength="54.8" lengthAdjust="spacingAndGlyphs">3D-CNTs/CC</text>
<text x="82.2" y="390.6" font-family="Liberation Serif" font-weight="bold" font-size="12.8" text-anchor="start" textLength="112" lengthAdjust="spacingAndGlyphs">Binding Energy (eV)</text>
<text transform="translate(10.2,289.4) rotate(-90)" font-family="Liberation Serif" font-weight="bold" font-size="12.7" text-anchor="middle" textLength="83" lengthAdjust="spacingAndGlyphs">Intensity (a. u.)</text>
<polygon points="292.8,356.4 293.5,356.3 294.2,356.3 295,356.3 295.7,356.2 296.4,356.2 297.1,356.2 297.8,356.1 298.6,356.1 299.3,356.1 300,356 300.7,356 301.5,355.9 302.2,355.9 302.9,355.8 303.6,355.8 304.3,355.7 305.1,355.7 305.8,355.6 306.5,355.6 307.2,355.5 307.9,355.4 308.7,355.3 309.4,355.3 310.1,355.2 310.8,355.1 311.6,355 312.3,354.9 313,354.8 313.7,354.6 314.4,354.5 315.2,354.4 315.9,354.2 316.6,354 317.3,353.9 318,353.7 318.8,353.4 319.5,353.2 320.2,352.9 320.9,352.6 321.6,352.2 322.4,351.8 323.1,351.3 323.8,350.7 324.5,350 325.3,349.2 326,348.2 326.7,347 327.4,345.6 328.1,343.9 328.9,342 329.6,339.7 330.3,337.1 331,334.1 331.7,330.6 332.5,326.7 333.2,322.4 333.9,317.6 334.6,312.4 335.3,306.7 336.1,300.8 336.8,294.6 337.5,288.3 338.2,282 339,275.8 339.7,269.9 340.4,264.7 341.1,260.2 341.8,256.7 342.6,254.4 343.3,253.4 344,253.7 344.7,255.1 345.4,257.5 346.2,260.8 346.9,264.8 347.6,269.6 348.3,274.8 349,280.3 349.8,286 350.5,291.8 351.2,297.5 351.9,303.1 352.7,308.4 353.4,313.4 354.1,318 354.8,322.2 355.5,326 356.3,329.4 357,332.4 357.7,334.9 358.4,337.1 359.1,339 359.9,340.6 360.6,341.9 361.3,342.9 362,343.8 362.8,344.5 363.5,345.1 364.2,345.5 364.9,345.9 365.6,346.2 366.4,346.4 367.1,346.6 367.8,346.7 368.5,346.9 369.2,347 370,347 370.7,347.1 371.4,347.2 372.1,347.2 372.8,347.3 373.6,347.3 374.3,347.4 375,347.4 375.7,347.4 376.5,347.5 377.2,347.5 377.9,347.5 378.6,347.5 379.3,347.6 380.1,347.6 380.8,347.6 381.5,347.6 382.2,347.7 382.9,347.7 383.7,347.7 384.4,347.7 385.1,347.7 385.8,347.8 386.6,347.8 387.3,347.8 388,347.8 388.7,347.8 389.4,347.8 390.2,347.8 390.9,347.9 391.6,347.9 392.3,347.9 393,347.9 393.8,347.9 394.5,347.9 395.2,347.9 395.9,347.9 396.6,347.9 397.4,348 398.1,348 398.8,348 399.5,348 400.3,348 401,348 401.7,348 402.4,348 403.1,348 403.9,348 404.6,348 405.3,348 406,348 406.7,348 407.5,348.1 408.2,348.1 408.9,348.1 409.6,348.1 410.3,348.1 411.1,348.1 411.8,348.1 412.5,348.1 413.2,348.1 414,348.1 414.7,348.1 415.4,348.1 416.1,348.1 416.8,348.1 417.6,348.1 418.3,348.1 419,348.1 419.7,348.1 420.4,348.1 421.2,348.1 421.9,348.1 422.6,348.1 423.3,348.1 424.1,348.1 424.8,348.1 425.5,348.1 426.2,348.2 426.9,348.2 427.7,348.2 428.4,348.2 429.1,348.2 429.8,348.2 430.5,348.2 431.3,348.2 432,348.2 432.7,348.2 433.4,348.2 434.1,348.2 434.9,348.2 435.6,348.2 436.3,348.2 437,348.2 437.8,348.2 438.5,348.2 439.2,348.2 439.9,348.2 440.6,348.2 441.4,348.2 442.1,348.2 442.8,348.2 443.5,348.2 444.2,348.2 445,348.2 445.7,348.2 446.4,348.2 447.1,348.2 447.8,348.2 448.6,348.2 449.3,348.2 450,348.2 450.7,348.2 451.5,348.2 452.2,348.2 452.9,348.2 453.6,348.2 454.3,348.2 455.1,348.2 455.8,348.2 456.5,348.2 457.2,348.2 457.9,348.2 458.7,348.2 459.4,348.2 460.1,348.2 460.8,348.2 461.5,348.2 462.3,348.2 463,348.2 463.7,348.2 464.4,348.2 465.2,348.2 465.9,348.2 466.6,348.2 467.3,348.2 468,348.2 468.8,348.2 469.5,348.2 470.2,348.2 470.9,348.2 471.6,348.2 472.4,348.2 473.1,348.2 473.8,348.2 474.5,348.2 475.3,348.2 476,348.2 476.7,348.2 477.4,348.2 478.1,348.2 478.9,348.2 479.6,348.2 480.3,348.2 480.3,348.3 479.6,348.3 478.9,348.3 478.1,348.3 477.4,348.3 476.7,348.3 476,348.3 475.3,348.3 474.5,348.3 473.8,348.3 473.1,348.3 472.4,348.3 471.6,348.3 470.9,348.3 470.2,348.3 469.5,348.3 468.8,348.3 468,348.3 467.3,348.3 466.6,348.3 465.9,348.3 465.2,348.3 464.4,348.3 463.7,348.3 463,348.3 462.3,348.3 461.5,348.3 460.8,348.3 460.1,348.3 459.4,348.3 458.7,348.3 457.9,348.3 457.2,348.3 456.5,348.3 455.8,348.3 455.1,348.3 454.3,348.3 453.6,348.3 452.9,348.3 452.2,348.3 451.5,348.3 450.7,348.3 450,348.3 449.3,348.3 448.6,348.3 447.8,348.3 447.1,348.3 446.4,348.3 445.7,348.3 445,348.3 444.2,348.3 443.5,348.3 442.8,348.3 442.1,348.3 441.4,348.3 440.6,348.3 439.9,348.3 439.2,348.3 438.5,348.3 437.8,348.3 437,348.3 436.3,348.3 435.6,348.3 434.9,348.3 434.1,348.3 433.4,348.3 432.7,348.3 432,348.3 431.3,348.3 430.5,348.3 429.8,348.3 429.1,348.3 428.4,348.3 427.7,348.3 426.9,348.3 426.2,348.3 425.5,348.3 424.8,348.3 424.1,348.3 423.3,348.3 422.6,348.3 421.9,348.3 421.2,348.3 420.4,348.3 419.7,348.3 419,348.3 418.3,348.3 417.6,348.3 416.8,348.3 416.1,348.3 415.4,348.3 414.7,348.3 414,348.3 413.2,348.3 412.5,348.3 411.8,348.3 411.1,348.3 410.3,348.3 409.6,348.3 408.9,348.3 408.2,348.3 407.5,348.3 406.7,348.3 406,348.3 405.3,348.3 404.6,348.3 403.9,348.3 403.1,348.3 402.4,348.3 401.7,348.3 401,348.3 400.3,348.3 399.5,348.3 398.8,348.3 398.1,348.3 397.4,348.3 396.6,348.3 395.9,348.3 395.2,348.3 394.5,348.3 393.8,348.3 393,348.3 392.3,348.3 391.6,348.3 390.9,348.3 390.2,348.3 389.4,348.3 388.7,348.3 388,348.3 387.3,348.3 386.6,348.3 385.8,348.3 385.1,348.3 384.4,348.3 383.7,348.3 382.9,348.3 382.2,348.3 381.5,348.3 380.8,348.3 380.1,348.3 379.3,348.3 378.6,348.3 377.9,348.3 377.2,348.3 376.5,348.3 375.7,348.4 375,348.4 374.3,348.4 373.6,348.4 372.8,348.4 372.1,348.4 371.4,348.4 370.7,348.4 370,348.4 369.2,348.5 368.5,348.5 367.8,348.5 367.1,348.5 366.4,348.5 365.6,348.6 364.9,348.6 364.2,348.7 363.5,348.7 362.8,348.7 362,348.8 361.3,348.9 360.6,348.9 359.9,349 359.1,349.1 358.4,349.2 357.7,349.3 357,349.4 356.3,349.5 355.5,349.6 354.8,349.8 354.1,349.9 353.4,350.1 352.7,350.3 351.9,350.5 351.2,350.7 350.5,350.9 349.8,351.1 349,351.3 348.3,351.6 347.6,351.8 346.9,352.1 346.2,352.4 345.4,352.6 344.7,352.9 344,353.2 343.3,353.4 342.6,353.7 341.8,354 341.1,354.2 340.4,354.4 339.7,354.7 339,354.9 338.2,355.1 337.5,355.3 336.8,355.5 336.1,355.6 335.3,355.8 334.6,355.9 333.9,356.1 333.2,356.2 332.5,356.3 331.7,356.4 331,356.5 330.3,356.6 329.6,356.7 328.9,356.7 328.1,356.8 327.4,356.8 326.7,356.9 326,356.9 325.3,357 324.5,357 323.8,357 323.1,357.1 322.4,357.1 321.6,357.1 320.9,357.1 320.2,357.2 319.5,357.2 318.8,357.2 318,357.2 317.3,357.2 316.6,357.2 315.9,357.2 315.2,357.2 314.4,357.2 313.7,357.3 313,357.3 312.3,357.3 311.6,357.3 310.8,357.3 310.1,357.3 309.4,357.3 308.7,357.3 307.9,357.3 307.2,357.3 306.5,357.3 305.8,357.3 305.1,357.3 304.3,357.3 303.6,357.3 302.9,357.3 302.2,357.3 301.5,357.3 300.7,357.3 300,357.3 299.3,357.3 298.6,357.3 297.8,357.3 297.1,357.3 296.4,357.3 295.7,357.3 295,357.3 294.2,357.3 293.5,357.3 292.8,357.3" fill="#bbc3fc" />
<polygon points="292.8,357.3 293.5,357.3 294.2,357.3 295,357.3 295.7,357.3 296.4,357.3 297.1,357.3 297.8,357.3 298.6,357.3 299.3,357.3 300,357.3 300.7,357.3 301.5,357.3 302.2,357.3 302.9,357.3 303.6,357.3 304.3,357.3 305.1,357.3 305.8,357.3 306.5,357.3 307.2,357.3 307.9,357.3 308.7,357.3 309.4,357.3 310.1,357.3 310.8,357.3 311.6,357.3 312.3,357.3 313,357.2 313.7,357.2 314.4,357.2 315.2,357.2 315.9,357.2 316.6,357.2 317.3,357.2 318,357.2 318.8,357.1 319.5,357.1 320.2,357.1 320.9,357 321.6,357 322.4,357 323.1,356.9 323.8,356.8 324.5,356.8 325.3,356.7 326,356.6 326.7,356.5 327.4,356.3 328.1,356.2 328.9,356 329.6,355.8 330.3,355.6 331,355.4 331.7,355.2 332.5,354.9 333.2,354.6 333.9,354.3 334.6,353.9 335.3,353.5 336.1,353.1 336.8,352.7 337.5,352.2 338.2,351.8 339,351.2 339.7,350.7 340.4,350.2 341.1,349.7 341.8,349.1 342.6,348.6 343.3,348 344,347.5 344.7,347 345.4,346.5 346.2,346 346.9,345.5 347.6,345.1 348.3,344.7 349,344.4 349.8,344.1 350.5,343.9 351.2,343.7 351.9,343.5 352.7,343.4 353.4,343.4 354.1,343.4 354.8,343.4 355.5,343.4 356.3,343.5 357,343.7 357.7,343.8 358.4,344 359.1,344.2 359.9,344.4 360.6,344.7 361.3,344.9 362,345.2 362.8,345.4 363.5,345.6 364.2,345.9 364.9,346.1 365.6,346.3 366.4,346.5 367.1,346.7 367.8,346.9 368.5,347.1 369.2,347.2 370,347.3 370.7,347.5 371.4,347.6 372.1,347.7 372.8,347.8 373.6,347.9 374.3,347.9 375,348 375.7,348 376.5,348.1 377.2,348.1 377.9,348.2 378.6,348.2 379.3,348.2 380.1,348.2 380.8,348.2 381.5,348.3 382.2,348.3 382.9,348.3 383.7,348.3 384.4,348.3 385.1,348.3 385.8,348.3 386.6,348.3 387.3,348.3 388,348.3 388.7,348.3 389.4,348.3 390.2,348.3 390.9,348.3 391.6,348.3 392.3,348.3 393,348.3 393.8,348.3 394.5,348.3 395.2,348.3 395.9,348.3 396.6,348.3 397.4,348.3 398.1,348.3 398.8,348.3 399.5,348.3 400.3,348.3 401,348.3 401.7,348.3 402.4,348.3 403.1,348.3 403.9,348.3 404.6,348.3 405.3,348.3 406,348.3 406.7,348.3 407.5,348.3 408.2,348.3 408.9,348.3 409.6,348.3 410.3,348.3 411.1,348.3 411.8,348.3 412.5,348.3 413.2,348.3 414,348.3 414.7,348.3 415.4,348.3 416.1,348.3 416.8,348.3 417.6,348.3 418.3,348.3 419,348.3 419.7,348.3 420.4,348.3 421.2,348.3 421.9,348.3 422.6,348.3 423.3,348.3 424.1,348.3 424.8,348.3 425.5,348.3 426.2,348.3 426.9,348.3 427.7,348.3 428.4,348.3 429.1,348.3 429.8,348.3 430.5,348.3 431.3,348.3 432,348.3 432.7,348.3 433.4,348.3 434.1,348.3 434.9,348.3 435.6,348.3 436.3,348.3 437,348.3 437.8,348.3 438.5,348.3 439.2,348.3 439.9,348.3 440.6,348.3 441.4,348.3 442.1,348.3 442.8,348.3 443.5,348.3 444.2,348.3 445,348.3 445.7,348.3 446.4,348.3 447.1,348.3 447.8,348.3 448.6,348.3 449.3,348.3 450,348.3 450.7,348.3 451.5,348.3 452.2,348.3 452.9,348.3 453.6,348.3 454.3,348.3 455.1,348.3 455.8,348.3 456.5,348.3 457.2,348.3 457.9,348.3 458.7,348.3 459.4,348.3 460.1,348.3 460.8,348.3 461.5,348.3 462.3,348.3 463,348.3 463.7,348.3 464.4,348.3 465.2,348.3 465.9,348.3 466.6,348.3 467.3,348.3 468,348.3 468.8,348.3 469.5,348.3 470.2,348.3 470.9,348.3 471.6,348.3 472.4,348.3 473.1,348.3 473.8,348.3 474.5,348.3 475.3,348.3 476,348.3 476.7,348.3 477.4,348.3 478.1,348.3 478.9,348.3 479.6,348.3 480.3,348.3 480.3,348.3 479.6,348.3 478.9,348.3 478.1,348.3 477.4,348.3 476.7,348.3 476,348.3 475.3,348.3 474.5,348.3 473.8,348.3 473.1,348.3 472.4,348.3 471.6,348.3 470.9,348.3 470.2,348.3 469.5,348.3 468.8,348.3 468,348.3 467.3,348.3 466.6,348.3 465.9,348.3 465.2,348.3 464.4,348.3 463.7,348.3 463,348.3 462.3,348.3 461.5,348.3 460.8,348.3 460.1,348.3 459.4,348.3 458.7,348.3 457.9,348.3 457.2,348.3 456.5,348.3 455.8,348.3 455.1,348.3 454.3,348.3 453.6,348.3 452.9,348.3 452.2,348.3 451.5,348.3 450.7,348.3 450,348.3 449.3,348.3 448.6,348.3 447.8,348.3 447.1,348.3 446.4,348.3 445.7,348.3 445,348.3 444.2,348.3 443.5,348.3 442.8,348.3 442.1,348.3 441.4,348.3 440.6,348.3 439.9,348.3 439.2,348.3 438.5,348.3 437.8,348.3 437,348.3 436.3,348.3 435.6,348.3 434.9,348.3 434.1,348.3 433.4,348.3 432.7,348.3 432,348.3 431.3,348.3 430.5,348.3 429.8,348.3 429.1,348.3 428.4,348.3 427.7,348.3 426.9,348.3 426.2,348.3 425.5,348.3 424.8,348.3 424.1,348.3 423.3,348.3 422.6,348.3 421.9,348.3 421.2,348.3 420.4,348.3 419.7,348.3 419,348.3 418.3,348.3 417.6,348.3 416.8,348.3 416.1,348.3 415.4,348.3 414.7,348.3 414,348.3 413.2,348.3 412.5,348.3 411.8,348.3 411.1,348.3 410.3,348.3 409.6,348.3 408.9,348.3 408.2,348.3 407.5,348.3 406.7,348.3 406,348.3 405.3,348.3 404.6,348.3 403.9,348.3 403.1,348.3 402.4,348.3 401.7,348.3 401,348.3 400.3,348.3 399.5,348.3 398.8,348.3 398.1,348.3 397.4,348.3 396.6,348.3 395.9,348.3 395.2,348.3 394.5,348.3 393.8,348.3 393,348.3 392.3,348.3 391.6,348.3 390.9,348.3 390.2,348.3 389.4,348.3 388.7,348.3 388,348.3 387.3,348.3 386.6,348.3 385.8,348.3 385.1,348.3 384.4,348.3 383.7,348.3 382.9,348.3 382.2,348.3 381.5,348.3 380.8,348.3 380.1,348.3 379.3,348.3 378.6,348.3 377.9,348.3 377.2,348.3 376.5,348.3 375.7,348.4 375,348.4 374.3,348.4 373.6,348.4 372.8,348.4 372.1,348.4 371.4,348.4 370.7,348.4 370,348.4 369.2,348.5 368.5,348.5 367.8,348.5 367.1,348.5 366.4,348.5 365.6,348.6 364.9,348.6 364.2,348.7 363.5,348.7 362.8,348.7 362,348.8 361.3,348.9 360.6,348.9 359.9,349 359.1,349.1 358.4,349.2 357.7,349.3 357,349.4 356.3,349.5 355.5,349.6 354.8,349.8 354.1,349.9 353.4,350.1 352.7,350.3 351.9,350.5 351.2,350.7 350.5,350.9 349.8,351.1 349,351.3 348.3,351.6 347.6,351.8 346.9,352.1 346.2,352.4 345.4,352.6 344.7,352.9 344,353.2 343.3,353.4 342.6,353.7 341.8,354 341.1,354.2 340.4,354.4 339.7,354.7 339,354.9 338.2,355.1 337.5,355.3 336.8,355.5 336.1,355.6 335.3,355.8 334.6,355.9 333.9,356.1 333.2,356.2 332.5,356.3 331.7,356.4 331,356.5 330.3,356.6 329.6,356.7 328.9,356.7 328.1,356.8 327.4,356.8 326.7,356.9 326,356.9 325.3,357 324.5,357 323.8,357 323.1,357.1 322.4,357.1 321.6,357.1 320.9,357.1 320.2,357.2 319.5,357.2 318.8,357.2 318,357.2 317.3,357.2 316.6,357.2 315.9,357.2 315.2,357.2 314.4,357.2 313.7,357.3 313,357.3 312.3,357.3 311.6,357.3 310.8,357.3 310.1,357.3 309.4,357.3 308.7,357.3 307.9,357.3 307.2,357.3 306.5,357.3 305.8,357.3 305.1,357.3 304.3,357.3 303.6,357.3 302.9,357.3 302.2,357.3 301.5,357.3 300.7,357.3 300,357.3 299.3,357.3 298.6,357.3 297.8,357.3 297.1,357.3 296.4,357.3 295.7,357.3 295,357.3 294.2,357.3 293.5,357.3 292.8,357.3" fill="#c8b4f0" />
<polygon points="292.8,357.3 293.5,357.3 294.2,357.3 295,357.3 295.7,357.3 296.4,357.3 297.1,357.3 297.8,357.3 298.6,357.3 299.3,357.3 300,357.3 300.7,357.3 301.5,357.3 302.2,357.3 302.9,357.3 303.6,357.3 304.3,357.3 305.1,357.2 305.8,357.2 306.5,357.2 307.2,357.2 307.9,357.2 308.7,357.2 309.4,357.2 310.1,357.1 310.8,357.1 311.6,357.1 312.3,357.1 313,357 313.7,357 314.4,356.9 315.2,356.9 315.9,356.8 316.6,356.7 317.3,356.7 318,356.6 318.8,356.5 319.5,356.4 320.2,356.2 320.9,356.1 321.6,356 322.4,355.8 323.1,355.6 323.8,355.4 324.5,355.2 325.3,354.9 326,354.7 326.7,354.4 327.4,354.1 328.1,353.7 328.9,353.3 329.6,352.9 330.3,352.5 331,352 331.7,351.5 332.5,351 333.2,350.4 333.9,349.8 334.6,349.2 335.3,348.5 336.1,347.8 336.8,347.1 337.5,346.3 338.2,345.5 339,344.6 339.7,343.7 340.4,342.8 341.1,341.9 341.8,340.9 342.6,340 343.3,339 344,338 344.7,337 345.4,336 346.2,335.1 346.9,334.1 347.6,333.1 348.3,332.2 349,331.3 349.8,330.5 350.5,329.6 351.2,328.9 351.9,328.1 352.7,327.5 353.4,326.8 354.1,326.3 354.8,325.8 355.5,325.3 356.3,324.9 357,324.6 357.7,324.4 358.4,324.2 359.1,324.1 359.9,324 360.6,324.1 361.3,324.3 362,324.6 362.8,324.9 363.5,325.4 364.2,325.9 364.9,326.6 365.6,327.2 366.4,328 367.1,328.8 367.8,329.6 368.5,330.5 369.2,331.4 370,332.3 370.7,333.3 371.4,334.2 372.1,335.1 372.8,336 373.6,336.9 374.3,337.8 375,338.6 375.7,339.5 376.5,340.2 377.2,341 377.9,341.7 378.6,342.3 379.3,342.9 380.1,343.5 380.8,344 381.5,344.5 382.2,344.9 382.9,345.3 383.7,345.7 384.4,346 385.1,346.3 385.8,346.6 386.6,346.8 387.3,347 388,347.2 388.7,347.4 389.4,347.5 390.2,347.6 390.9,347.7 391.6,347.8 392.3,347.9 393,348 393.8,348 394.5,348.1 395.2,348.1 395.9,348.1 396.6,348.2 397.4,348.2 398.1,348.2 398.8,348.2 399.5,348.2 400.3,348.3 401,348.3 401.7,348.3 402.4,348.3 403.1,348.3 403.9,348.3 404.6,348.3 405.3,348.3 406,348.3 406.7,348.3 407.5,348.3 408.2,348.3 408.9,348.3 409.6,348.3 410.3,348.3 411.1,348.3 411.8,348.3 412.5,348.3 413.2,348.3 414,348.3 414.7,348.3 415.4,348.3 416.1,348.3 416.8,348.3 417.6,348.3 418.3,348.3 419,348.3 419.7,348.3 420.4,348.3 421.2,348.3 421.9,348.3 422.6,348.3 423.3,348.3 424.1,348.3 424.8,348.3 425.5,348.3 426.2,348.3 426.9,348.3 427.7,348.3 428.4,348.3 429.1,348.3 429.8,348.3 430.5,348.3 431.3,348.3 432,348.3 432.7,348.3 433.4,348.3 434.1,348.3 434.9,348.3 435.6,348.3 436.3,348.3 437,348.3 437.8,348.3 438.5,348.3 439.2,348.3 439.9,348.3 440.6,348.3 441.4,348.3 442.1,348.3 442.8,348.3 443.5,348.3 444.2,348.3 445,348.3 445.7,348.3 446.4,348.3 447.1,348.3 447.8,348.3 448.6,348.3 449.3,348.3 450,348.3 450.7,348.3 451.5,348.3 452.2,348.3 452.9,348.3 453.6,348.3 454.3,348.3 455.1,348.3 455.8,348.3 456.5,348.3 457.2,348.3 457.9,348.3 458.7,348.3 459.4,348.3 460.1,348.3 460.8,348.3 461.5,348.3 462.3,348.3 463,348.3 463.7,348.3 464.4,348.3 465.2,348.3 465.9,348.3 466.6,348.3 467.3,348.3 468,348.3 468.8,348.3 469.5,348.3 470.2,348.3 470.9,348.3 471.6,348.3 472.4,348.3 473.1,348.3 473.8,348.3 474.5,348.3 475.3,348.3 476,348.3 476.7,348.3 477.4,348.3 478.1,348.3 478.9,348.3 479.6,348.3 480.3,348.3 480.3,348.3 479.6,348.3 478.9,348.3 478.1,348.3 477.4,348.3 476.7,348.3 476,348.3 475.3,348.3 474.5,348.3 473.8,348.3 473.1,348.3 472.4,348.3 471.6,348.3 470.9,348.3 470.2,348.3 469.5,348.3 468.8,348.3 468,348.3 467.3,348.3 466.6,348.3 465.9,348.3 465.2,348.3 464.4,348.3 463.7,348.3 463,348.3 462.3,348.3 461.5,348.3 460.8,348.3 460.1,348.3 459.4,348.3 458.7,348.3 457.9,348.3 457.2,348.3 456.5,348.3 455.8,348.3 455.1,348.3 454.3,348.3 453.6,348.3 452.9,348.3 452.2,348.3 451.5,348.3 450.7,348.3 450,348.3 449.3,348.3 448.6,348.3 447.8,348.3 447.1,348.3 446.4,348.3 445.7,348.3 445,348.3 444.2,348.3 443.5,348.3 442.8,348.3 442.1,348.3 441.4,348.3 440.6,348.3 439.9,348.3 439.2,348.3 438.5,348.3 437.8,348.3 437,348.3 436.3,348.3 435.6,348.3 434.9,348.3 434.1,348.3 433.4,348.3 432.7,348.3 432,348.3 431.3,348.3 430.5,348.3 429.8,348.3 429.1,348.3 428.4,348.3 427.7,348.3 426.9,348.3 426.2,348.3 425.5,348.3 424.8,348.3 424.1,348.3 423.3,348.3 422.6,348.3 421.9,348.3 421.2,348.3 420.4,348.3 419.7,348.3 419,348.3 418.3,348.3 417.6,348.3 416.8,348.3 416.1,348.3 415.4,348.3 414.7,348.3 414,348.3 413.2,348.3 412.5,348.3 411.8,348.3 411.1,348.3 410.3,348.3 409.6,348.3 408.9,348.3 408.2,348.3 407.5,348.3 406.7,348.3 406,348.3 405.3,348.3 404.6,348.3 403.9,348.3 403.1,348.3 402.4,348.3 401.7,348.3 401,348.3 400.3,348.3 399.5,348.3 398.8,348.3 398.1,348.3 397.4,348.3 396.6,348.3 395.9,348.3 395.2,348.3 394.5,348.3 393.8,348.3 393,348.3 392.3,348.3 391.6,348.3 390.9,348.3 390.2,348.3 389.4,348.3 388.7,348.3 388,348.3 387.3,348.3 386.6,348.3 385.8,348.3 385.1,348.3 384.4,348.3 383.7,348.3 382.9,348.3 382.2,348.3 381.5,348.3 380.8,348.3 380.1,348.3 379.3,348.3 378.6,348.3 377.9,348.3 377.2,348.3 376.5,348.3 375.7,348.4 375,348.4 374.3,348.4 373.6,348.4 372.8,348.4 372.1,348.4 371.4,348.4 370.7,348.4 370,348.4 369.2,348.5 368.5,348.5 367.8,348.5 367.1,348.5 366.4,348.5 365.6,348.6 364.9,348.6 364.2,348.7 363.5,348.7 362.8,348.7 362,348.8 361.3,348.9 360.6,348.9 359.9,349 359.1,349.1 358.4,349.2 357.7,349.3 357,349.4 356.3,349.5 355.5,349.6 354.8,349.8 354.1,349.9 353.4,350.1 352.7,350.3 351.9,350.5 351.2,350.7 350.5,350.9 349.8,351.1 349,351.3 348.3,351.6 347.6,351.8 346.9,352.1 346.2,352.4 345.4,352.6 344.7,352.9 344,353.2 343.3,353.4 342.6,353.7 341.8,354 341.1,354.2 340.4,354.4 339.7,354.7 339,354.9 338.2,355.1 337.5,355.3 336.8,355.5 336.1,355.6 335.3,355.8 334.6,355.9 333.9,356.1 333.2,356.2 332.5,356.3 331.7,356.4 331,356.5 330.3,356.6 329.6,356.7 328.9,356.7 328.1,356.8 327.4,356.8 326.7,356.9 326,356.9 325.3,357 324.5,357 323.8,357 323.1,357.1 322.4,357.1 321.6,357.1 320.9,357.1 320.2,357.2 319.5,357.2 318.8,357.2 318,357.2 317.3,357.2 316.6,357.2 315.9,357.2 315.2,357.2 314.4,357.2 313.7,357.3 313,357.3 312.3,357.3 311.6,357.3 310.8,357.3 310.1,357.3 309.4,357.3 308.7,357.3 307.9,357.3 307.2,357.3 306.5,357.3 305.8,357.3 305.1,357.3 304.3,357.3 303.6,357.3 302.9,357.3 302.2,357.3 301.5,357.3 300.7,357.3 300,357.3 299.3,357.3 298.6,357.3 297.8,357.3 297.1,357.3 296.4,357.3 295.7,357.3 295,357.3 294.2,357.3 293.5,357.3 292.8,357.3" fill="#f0ec94" />
<polygon points="292.8,357.3 293.5,357.3 294.2,357.3 295,357.3 295.7,357.3 296.4,357.3 297.1,357.3 297.8,357.3 298.6,357.3 299.3,357.3 300,357.3 300.7,357.3 301.5,357.3 302.2,357.3 302.9,357.3 303.6,357.3 304.3,357.3 305.1,357.3 305.8,357.3 306.5,357.3 307.2,357.3 307.9,357.3 308.7,357.3 309.4,357.3 310.1,357.3 310.8,357.3 311.6,357.3 312.3,357.3 313,357.3 313.7,357.2 314.4,357.2 315.2,357.2 315.9,357.2 316.6,357.2 317.3,357.2 318,357.2 318.8,357.2 319.5,357.2 320.2,357.2 320.9,357.1 321.6,357.1 322.4,357.1 323.1,357.1 323.8,357 324.5,357 325.3,357 326,356.9 326.7,356.9 327.4,356.8 328.1,356.8 328.9,356.7 329.6,356.6 330.3,356.6 331,356.5 331.7,356.4 332.5,356.3 333.2,356.1 333.9,356 334.6,355.9 335.3,355.7 336.1,355.6 336.8,355.4 337.5,355.2 338.2,355 339,354.8 339.7,354.5 340.4,354.3 341.1,354 341.8,353.8 342.6,353.5 343.3,353.2 344,352.9 344.7,352.6 345.4,352.4 346.2,352.1 346.9,351.8 347.6,351.5 348.3,351.2 349,350.9 349.8,350.6 350.5,350.4 351.2,350.1 351.9,349.9 352.7,349.6 353.4,349.4 354.1,349.2 354.8,349 355.5,348.8 356.3,348.6 357,348.4 357.7,348.2 358.4,348 359.1,347.9 359.9,347.7 360.6,347.5 361.3,347.4 362,347.2 362.8,347.1 363.5,346.9 364.2,346.8 364.9,346.6 365.6,346.5 366.4,346.3 367.1,346.2 367.8,346 368.5,345.8 369.2,345.7 370,345.5 370.7,345.4 371.4,345.2 372.1,345 372.8,344.8 373.6,344.7 374.3,344.5 375,344.3 375.7,344.1 376.5,344 377.2,343.8 377.9,343.6 378.6,343.4 379.3,343.2 380.1,343 380.8,342.9 381.5,342.7 382.2,342.5 382.9,342.3 383.7,342.1 384.4,342 385.1,341.8 385.8,341.6 386.6,341.4 387.3,341.3 388,341.1 388.7,340.9 389.4,340.8 390.2,340.6 390.9,340.5 391.6,340.4 392.3,340.2 393,340.1 393.8,340 394.5,339.9 395.2,339.8 395.9,339.7 396.6,339.6 397.4,339.5 398.1,339.5 398.8,339.4 399.5,339.4 400.3,339.3 401,339.3 401.7,339.3 402.4,339.3 403.1,339.3 403.9,339.3 404.6,339.3 405.3,339.3 406,339.4 406.7,339.4 407.5,339.4 408.2,339.4 408.9,339.5 409.6,339.5 410.3,339.6 411.1,339.6 411.8,339.7 412.5,339.7 413.2,339.8 414,339.9 414.7,339.9 415.4,340 416.1,340.1 416.8,340.2 417.6,340.3 418.3,340.4 419,340.4 419.7,340.5 420.4,340.6 421.2,340.7 421.9,340.8 422.6,340.9 423.3,341.1 424.1,341.2 424.8,341.3 425.5,341.4 426.2,341.5 426.9,341.6 427.7,341.7 428.4,341.9 429.1,342 429.8,342.1 430.5,342.2 431.3,342.3 432,342.5 432.7,342.6 433.4,342.7 434.1,342.8 434.9,343 435.6,343.1 436.3,343.2 437,343.3 437.8,343.5 438.5,343.6 439.2,343.7 439.9,343.8 440.6,343.9 441.4,344.1 442.1,344.2 442.8,344.3 443.5,344.4 444.2,344.5 445,344.6 445.7,344.7 446.4,344.9 447.1,345 447.8,345.1 448.6,345.2 449.3,345.3 450,345.4 450.7,345.5 451.5,345.6 452.2,345.7 452.9,345.8 453.6,345.9 454.3,345.9 455.1,346 455.8,346.1 456.5,346.2 457.2,346.3 457.9,346.4 458.7,346.4 459.4,346.5 460.1,346.6 460.8,346.6 461.5,346.7 462.3,346.8 463,346.8 463.7,346.9 464.4,347 465.2,347 465.9,347.1 466.6,347.1 467.3,347.2 468,347.2 468.8,347.3 469.5,347.3 470.2,347.4 470.9,347.4 471.6,347.5 472.4,347.5 473.1,347.5 473.8,347.6 474.5,347.6 475.3,347.7 476,347.7 476.7,347.7 477.4,347.7 478.1,347.8 478.9,347.8 479.6,347.8 480.3,347.9 480.3,348.3 479.6,348.3 478.9,348.3 478.1,348.3 477.4,348.3 476.7,348.3 476,348.3 475.3,348.3 474.5,348.3 473.8,348.3 473.1,348.3 472.4,348.3 471.6,348.3 470.9,348.3 470.2,348.3 469.5,348.3 468.8,348.3 468,348.3 467.3,348.3 466.6,348.3 465.9,348.3 465.2,348.3 464.4,348.3 463.7,348.3 463,348.3 462.3,348.3 461.5,348.3 460.8,348.3 460.1,348.3 459.4,348.3 458.7,348.3 457.9,348.3 457.2,348.3 456.5,348.3 455.8,348.3 455.1,348.3 454.3,348.3 453.6,348.3 452.9,348.3 452.2,348.3 451.5,348.3 450.7,348.3 450,348.3 449.3,348.3 448.6,348.3 447.8,348.3 447.1,348.3 446.4,348.3 445.7,348.3 445,348.3 444.2,348.3 443.5,348.3 442.8,348.3 442.1,348.3 441.4,348.3 440.6,348.3 439.9,348.3 439.2,348.3 438.5,348.3 437.8,348.3 437,348.3 436.3,348.3 435.6,348.3 434.9,348.3 434.1,348.3 433.4,348.3 432.7,348.3 432,348.3 431.3,348.3 430.5,348.3 429.8,348.3 429.1,348.3 428.4,348.3 427.7,348.3 426.9,348.3 426.2,348.3 425.5,348.3 424.8,348.3 424.1,348.3 423.3,348.3 422.6,348.3 421.9,348.3 421.2,348.3 420.4,348.3 419.7,348.3 419,348.3 418.3,348.3 417.6,348.3 416.8,348.3 416.1,348.3 415.4,348.3 414.7,348.3 414,348.3 413.2,348.3 412.5,348.3 411.8,348.3 411.1,348.3 410.3,348.3 409.6,348.3 408.9,348.3 408.2,348.3 407.5,348.3 406.7,348.3 406,348.3 405.3,348.3 404.6,348.3 403.9,348.3 403.1,348.3 402.4,348.3 401.7,348.3 401,348.3 400.3,348.3 399.5,348.3 398.8,348.3 398.1,348.3 397.4,348.3 396.6,348.3 395.9,348.3 395.2,348.3 394.5,348.3 393.8,348.3 393,348.3 392.3,348.3 391.6,348.3 390.9,348.3 390.2,348.3 389.4,348.3 388.7,348.3 388,348.3 387.3,348.3 386.6,348.3 385.8,348.3 385.1,348.3 384.4,348.3 383.7,348.3 382.9,348.3 382.2,348.3 381.5,348.3 380.8,348.3 380.1,348.3 379.3,348.3 378.6,348.3 377.9,348.3 377.2,348.3 376.5,348.3 375.7,348.4 375,348.4 374.3,348.4 373.6,348.4 372.8,348.4 372.1,348.4 371.4,348.4 370.7,348.4 370,348.4 369.2,348.5 368.5,348.5 367.8,348.5 367.1,348.5 366.4,348.5 365.6,348.6 364.9,348.6 364.2,348.7 363.5,348.7 362.8,348.7 362,348.8 361.3,348.9 360.6,348.9 359.9,349 359.1,349.1 358.4,349.2 357.7,349.3 357,349.4 356.3,349.5 355.5,349.6 354.8,349.8 354.1,349.9 353.4,350.1 352.7,350.3 351.9,350.5 351.2,350.7 350.5,350.9 349.8,351.1 349,351.3 348.3,351.6 347.6,351.8 346.9,352.1 346.2,352.4 345.4,352.6 344.7,352.9 344,353.2 343.3,353.4 342.6,353.7 341.8,354 341.1,354.2 340.4,354.4 339.7,354.7 339,354.9 338.2,355.1 337.5,355.3 336.8,355.5 336.1,355.6 335.3,355.8 334.6,355.9 333.9,356.1 333.2,356.2 332.5,356.3 331.7,356.4 331,356.5 330.3,356.6 329.6,356.7 328.9,356.7 328.1,356.8 327.4,356.8 326.7,356.9 326,356.9 325.3,357 324.5,357 323.8,357 323.1,357.1 322.4,357.1 321.6,357.1 320.9,357.1 320.2,357.2 319.5,357.2 318.8,357.2 318,357.2 317.3,357.2 316.6,357.2 315.9,357.2 315.2,357.2 314.4,357.2 313.7,357.3 313,357.3 312.3,357.3 311.6,357.3 310.8,357.3 310.1,357.3 309.4,357.3 308.7,357.3 307.9,357.3 307.2,357.3 306.5,357.3 305.8,357.3 305.1,357.3 304.3,357.3 303.6,357.3 302.9,357.3 302.2,357.3 301.5,357.3 300.7,357.3 300,357.3 299.3,357.3 298.6,357.3 297.8,357.3 297.1,357.3 296.4,357.3 295.7,357.3 295,357.3 294.2,357.3 293.5,357.3 292.8,357.3" fill="#aef2f4" />
<polyline points="292.8,357.3 293.5,357.3 294.2,357.3 295,357.3 295.7,357.3 296.4,357.3 297.1,357.3 297.8,357.3 298.6,357.3 299.3,357.3 300,357.3 300.7,357.3 301.5,357.3 302.2,357.3 302.9,357.3 303.6,357.3 304.3,357.3 305.1,357.3 305.8,357.3 306.5,357.3 307.2,357.3 307.9,357.3 308.7,357.3 309.4,357.3 310.1,357.3 310.8,357.3 311.6,357.3 312.3,357.3 313,357.3 313.7,357.3 314.4,357.2 315.2,357.2 315.9,357.2 316.6,357.2 317.3,357.2 318,357.2 318.8,357.2 319.5,357.2 320.2,357.2 320.9,357.1 321.6,357.1 322.4,357.1 323.1,357.1 323.8,357 324.5,357 325.3,357 326,356.9 326.7,356.9 327.4,356.8 328.1,356.8 328.9,356.7 329.6,356.7 330.3,356.6 331,356.5 331.7,356.4 332.5,356.3 333.2,356.2 333.9,356.1 334.6,355.9 335.3,355.8 336.1,355.6 336.8,355.5 337.5,355.3 338.2,355.1 339,354.9 339.7,354.7 340.4,354.4 341.1,354.2 341.8,354 342.6,353.7 343.3,353.4 344,353.2 344.7,352.9 345.4,352.6 346.2,352.4 346.9,352.1 347.6,351.8 348.3,351.6 349,351.3 349.8,351.1 350.5,350.9 351.2,350.7 351.9,350.5 352.7,350.3 353.4,350.1 354.1,349.9 354.8,349.8 355.5,349.6 356.3,349.5 357,349.4 357.7,349.3 358.4,349.2 359.1,349.1 359.9,349 360.6,348.9 361.3,348.9 362,348.8 362.8,348.7 363.5,348.7 364.2,348.7 364.9,348.6 365.6,348.6 366.4,348.5 367.1,348.5 367.8,348.5 368.5,348.5 369.2,348.5 370,348.4 370.7,348.4 371.4,348.4 372.1,348.4 372.8,348.4 373.6,348.4 374.3,348.4 375,348.4 375.7,348.4 376.5,348.3 377.2,348.3 377.9,348.3 378.6,348.3 379.3,348.3 380.1,348.3 380.8,348.3 381.5,348.3 382.2,348.3 382.9,348.3 383.7,348.3 384.4,348.3 385.1,348.3 385.8,348.3 386.6,348.3 387.3,348.3 388,348.3 388.7,348.3 389.4,348.3 390.2,348.3 390.9,348.3 391.6,348.3 392.3,348.3 393,348.3 393.8,348.3 394.5,348.3 395.2,348.3 395.9,348.3 396.6,348.3 397.4,348.3 398.1,348.3 398.8,348.3 399.5,348.3 400.3,348.3 401,348.3 401.7,348.3 402.4,348.3 403.1,348.3 403.9,348.3 404.6,348.3 405.3,348.3 406,348.3 406.7,348.3 407.5,348.3 408.2,348.3 408.9,348.3 409.6,348.3 410.3,348.3 411.1,348.3 411.8,348.3 412.5,348.3 413.2,348.3 414,348.3 414.7,348.3 415.4,348.3 416.1,348.3 416.8,348.3 417.6,348.3 418.3,348.3 419,348.3 419.7,348.3 420.4,348.3 421.2,348.3 421.9,348.3 422.6,348.3 423.3,348.3 424.1,348.3 424.8,348.3 425.5,348.3 426.2,348.3 426.9,348.3 427.7,348.3 428.4,348.3 429.1,348.3 429.8,348.3 430.5,348.3 431.3,348.3 432,348.3 432.7,348.3 433.4,348.3 434.1,348.3 434.9,348.3 435.6,348.3 436.3,348.3 437,348.3 437.8,348.3 438.5,348.3 439.2,348.3 439.9,348.3 440.6,348.3 441.4,348.3 442.1,348.3 442.8,348.3 443.5,348.3 444.2,348.3 445,348.3 445.7,348.3 446.4,348.3 447.1,348.3 447.8,348.3 448.6,348.3 449.3,348.3 450,348.3 450.7,348.3 451.5,348.3 452.2,348.3 452.9,348.3 453.6,348.3 454.3,348.3 455.1,348.3 455.8,348.3 456.5,348.3 457.2,348.3 457.9,348.3 458.7,348.3 459.4,348.3 460.1,348.3 460.8,348.3 461.5,348.3 462.3,348.3 463,348.3 463.7,348.3 464.4,348.3 465.2,348.3 465.9,348.3 466.6,348.3 467.3,348.3 468,348.3 468.8,348.3 469.5,348.3 470.2,348.3 470.9,348.3 471.6,348.3 472.4,348.3 473.1,348.3 473.8,348.3 474.5,348.3 475.3,348.3 476,348.3 476.7,348.3 477.4,348.3 478.1,348.3 478.9,348.3 479.6,348.3 480.3,348.3" fill="none" stroke="#8a8a8a" stroke-width="1" stroke-linejoin="round" />
<g fill="none" stroke="#444" stroke-width="0.85"><circle cx="292.8" cy="356.2" r="1.9"/><circle cx="294.2" cy="356.6" r="1.9"/><circle cx="295.7" cy="356.1" r="1.9"/><circle cx="297.1" cy="356" r="1.9"/><circle cx="298.6" cy="355.5" r="1.9"/><circle cx="300" cy="355.9" r="1.9"/><circle cx="301.5" cy="356.6" r="1.9"/><circle cx="302.9" cy="356.1" r="1.9"/><circle cx="304.3" cy="356.3" r="1.9"/><circle cx="305.8" cy="355.7" r="1.9"/><circle cx="307.2" cy="355.7" r="1.9"/><circle cx="308.7" cy="355.4" r="1.9"/><circle cx="310.1" cy="354" r="1.9"/><circle cx="311.6" cy="355.3" r="1.9"/><circle cx="313" cy="354.8" r="1.9"/><circle cx="314.4" cy="354.5" r="1.9"/><circle cx="315.9" cy="352.8" r="1.9"/><circle cx="317.3" cy="352.2" r="1.9"/><circle cx="318.8" cy="352.1" r="1.9"/><circle cx="320.2" cy="351.6" r="1.9"/><circle cx="321.6" cy="351.1" r="1.9"/><circle cx="323.1" cy="349.6" r="1.9"/><circle cx="324.5" cy="348.2" r="1.9"/><circle cx="326" cy="345.1" r="1.9"/><circle cx="327.4" cy="342.5" r="1.9"/><circle cx="328.9" cy="338.1" r="1.9"/><circle cx="330.3" cy="331.6" r="1.9"/><circle cx="331.7" cy="325.5" r="1.9"/><circle cx="333.2" cy="315.3" r="1.9"/><circle cx="334.6" cy="304.2" r="1.9"/><circle cx="336.1" cy="290" r="1.9"/><circle cx="337.5" cy="275.7" r="1.9"/><circle cx="339" cy="261.5" r="1.9"/><circle cx="340.4" cy="248.6" r="1.9"/><circle cx="341.8" cy="239" r="1.9"/><circle cx="343.3" cy="233.5" r="1.9"/><circle cx="344.7" cy="232.7" r="1.9"/><circle cx="346.2" cy="236.2" r="1.9"/><circle cx="347.6" cy="243.5" r="1.9"/><circle cx="349" cy="253.6" r="1.9"/><circle cx="350.5" cy="262.6" r="1.9"/><circle cx="351.9" cy="273.4" r="1.9"/><circle cx="353.4" cy="283" r="1.9"/><circle cx="354.8" cy="290.1" r="1.9"/><circle cx="356.3" cy="298" r="1.9"/><circle cx="357.7" cy="304.3" r="1.9"/><circle cx="359.1" cy="306.7" r="1.9"/><circle cx="360.6" cy="311.2" r="1.9"/><circle cx="362" cy="314.3" r="1.9"/><circle cx="363.5" cy="316.4" r="1.9"/><circle cx="364.9" cy="319.6" r="1.9"/><circle cx="366.4" cy="321.5" r="1.9"/><circle cx="367.8" cy="322.9" r="1.9"/><circle cx="369.2" cy="326.4" r="1.9"/><circle cx="370.7" cy="328.3" r="1.9"/><circle cx="372.1" cy="330.4" r="1.9"/><circle cx="373.6" cy="332.5" r="1.9"/><circle cx="375" cy="333.5" r="1.9"/><circle cx="376.5" cy="334.8" r="1.9"/><circle cx="377.9" cy="335.2" r="1.9"/><circle cx="379.3" cy="337.3" r="1.9"/><circle cx="380.8" cy="337.4" r="1.9"/><circle cx="382.2" cy="338.1" r="1.9"/><circle cx="383.7" cy="338.1" r="1.9"/><circle cx="385.1" cy="338.6" r="1.9"/><circle cx="386.6" cy="339.1" r="1.9"/><circle cx="388" cy="340.3" r="1.9"/><circle cx="389.4" cy="338.3" r="1.9"/><circle cx="390.9" cy="338.6" r="1.9"/><circle cx="392.3" cy="339.6" r="1.9"/><circle cx="393.8" cy="340.2" r="1.9"/><circle cx="395.2" cy="339.6" r="1.9"/><circle cx="396.6" cy="338" r="1.9"/><circle cx="398.1" cy="337.5" r="1.9"/><circle cx="399.5" cy="339.2" r="1.9"/><circle cx="401" cy="338.5" r="1.9"/><circle cx="402.4" cy="338.3" r="1.9"/><circle cx="403.9" cy="339.6" r="1.9"/><circle cx="405.3" cy="339.7" r="1.9"/><circle cx="406.7" cy="339.2" r="1.9"/><circle cx="408.2" cy="339.3" r="1.9"/><circle cx="409.6" cy="339.6" r="1.9"/><circle cx="411.1" cy="340.4" r="1.9"/><circle cx="412.5" cy="339.9" r="1.9"/><circle cx="414" cy="340" r="1.9"/><circle cx="415.4" cy="340.2" r="1.9"/><circle cx="416.8" cy="339.1" r="1.9"/><circle cx="418.3" cy="340.9" r="1.9"/><circle cx="419.7" cy="340.9" r="1.9"/><circle cx="421.2" cy="340.9" r="1.9"/><circle cx="422.6" cy="339.6" r="1.9"/><circle cx="424.1" cy="340.6" r="1.9"/><circle cx="425.5" cy="341.7" r="1.9"/><circle cx="426.9" cy="340.4" r="1.9"/><circle cx="428.4" cy="341.6" r="1.9"/><circle cx="429.8" cy="342.6" r="1.9"/><circle cx="431.3" cy="341.4" r="1.9"/><circle cx="432.7" cy="343.4" r="1.9"/><circle cx="434.1" cy="343" r="1.9"/><circle cx="435.6" cy="342.9" r="1.9"/><circle cx="437" cy="343.4" r="1.9"/><circle cx="438.5" cy="343.9" r="1.9"/><circle cx="439.9" cy="343.8" r="1.9"/><circle cx="441.4" cy="344.6" r="1.9"/><circle cx="442.8" cy="343.8" r="1.9"/><circle cx="444.2" cy="344.2" r="1.9"/><circle cx="445.7" cy="345.3" r="1.9"/><circle cx="447.1" cy="344.9" r="1.9"/><circle cx="448.6" cy="344.6" r="1.9"/><circle cx="450" cy="345.9" r="1.9"/><circle cx="451.5" cy="346.4" r="1.9"/><circle cx="452.9" cy="345.4" r="1.9"/><circle cx="454.3" cy="345" r="1.9"/><circle cx="455.8" cy="345.9" r="1.9"/><circle cx="457.2" cy="346.1" r="1.9"/><circle cx="458.7" cy="346.2" r="1.9"/><circle cx="460.1" cy="347.3" r="1.9"/><circle cx="461.5" cy="346" r="1.9"/><circle cx="463" cy="347.5" r="1.9"/><circle cx="464.4" cy="346.1" r="1.9"/><circle cx="465.9" cy="346.5" r="1.9"/><circle cx="467.3" cy="347.5" r="1.9"/><circle cx="468.8" cy="347.9" r="1.9"/><circle cx="470.2" cy="347.8" r="1.9"/><circle cx="471.6" cy="347.6" r="1.9"/><circle cx="473.1" cy="347.6" r="1.9"/><circle cx="474.5" cy="347.7" r="1.9"/><circle cx="476" cy="348" r="1.9"/><circle cx="477.4" cy="347.6" r="1.9"/><circle cx="478.9" cy="347.9" r="1.9"/><circle cx="480.3" cy="348.1" r="1.9"/><circle cx="343.8" cy="228.8" r="1.9"/><circle cx="345.2" cy="229.2" r="1.9"/></g>
<polyline points="292.8,356.4 293.5,356.3 294.2,356.3 295,356.3 295.7,356.2 296.4,356.2 297.1,356.2 297.8,356.1 298.6,356.1 299.3,356.1 300,356 300.7,356 301.5,355.9 302.2,355.9 302.9,355.8 303.6,355.8 304.3,355.7 305.1,355.6 305.8,355.6 306.5,355.5 307.2,355.4 307.9,355.3 308.7,355.2 309.4,355.1 310.1,355 310.8,354.9 311.6,354.8 312.3,354.7 313,354.5 313.7,354.3 314.4,354.2 315.2,354 315.9,353.8 316.6,353.5 317.3,353.3 318,353 318.8,352.7 319.5,352.3 320.2,351.9 320.9,351.4 321.6,350.9 322.4,350.3 323.1,349.6 323.8,348.8 324.5,347.9 325.3,346.8 326,345.5 326.7,344 327.4,342.3 328.1,340.2 328.9,337.9 329.6,335.2 330.3,332 331,328.5 331.7,324.5 332.5,320 333.2,315 333.9,309.5 334.6,303.5 335.3,297.1 336.1,290.4 336.8,283.3 337.5,276.1 338.2,268.9 339,261.7 339.7,254.9 340.4,248.6 341.1,243.1 341.8,238.6 342.6,235.3 343.3,233.4 344,232.6 344.7,233 345.4,234.4 346.2,236.8 346.9,239.9 347.6,243.8 348.3,248.1 349,252.9 349.8,257.9 350.5,263.1 351.2,268.2 351.9,273.2 352.7,278.1 353.4,282.7 354.1,287 354.8,291 355.5,294.7 356.3,298 357,300.9 357.7,303.6 358.4,305.9 359.1,307.9 359.9,309.8 360.6,311.4 361.3,313 362,314.4 362.8,315.7 363.5,316.9 364.2,318.1 364.9,319.3 365.6,320.4 366.4,321.6 367.1,322.7 367.8,323.8 368.5,324.8 369.2,325.9 370,326.9 370.7,327.9 371.4,328.9 372.1,329.9 372.8,330.8 373.6,331.7 374.3,332.5 375,333.3 375.7,334 376.5,334.7 377.2,335.3 377.9,335.9 378.6,336.5 379.3,337 380.1,337.4 380.8,337.8 381.5,338.1 382.2,338.4 382.9,338.7 383.7,338.9 384.4,339.1 385.1,339.2 385.8,339.3 386.6,339.4 387.3,339.5 388,339.5 388.7,339.5 389.4,339.5 390.2,339.5 390.9,339.5 391.6,339.4 392.3,339.4 393,339.4 393.8,339.3 394.5,339.3 395.2,339.2 395.9,339.2 396.6,339.1 397.4,339.1 398.1,339.1 398.8,339 399.5,339 400.3,339 401,339 401.7,339 402.4,339 403.1,339 403.9,339 404.6,339 405.3,339.1 406,339.1 406.7,339.1 407.5,339.2 408.2,339.2 408.9,339.2 409.6,339.3 410.3,339.3 411.1,339.4 411.8,339.5 412.5,339.5 413.2,339.6 414,339.7 414.7,339.7 415.4,339.8 416.1,339.9 416.8,340 417.6,340.1 418.3,340.2 419,340.3 419.7,340.4 420.4,340.5 421.2,340.6 421.9,340.7 422.6,340.8 423.3,340.9 424.1,341 424.8,341.1 425.5,341.2 426.2,341.4 426.9,341.5 427.7,341.6 428.4,341.7 429.1,341.8 429.8,342 430.5,342.1 431.3,342.2 432,342.3 432.7,342.5 433.4,342.6 434.1,342.7 434.9,342.8 435.6,343 436.3,343.1 437,343.2 437.8,343.3 438.5,343.5 439.2,343.6 439.9,343.7 440.6,343.8 441.4,344 442.1,344.1 442.8,344.2 443.5,344.3 444.2,344.4 445,344.5 445.7,344.6 446.4,344.8 447.1,344.9 447.8,345 448.6,345.1 449.3,345.2 450,345.3 450.7,345.4 451.5,345.5 452.2,345.6 452.9,345.7 453.6,345.8 454.3,345.9 455.1,345.9 455.8,346 456.5,346.1 457.2,346.2 457.9,346.3 458.7,346.4 459.4,346.4 460.1,346.5 460.8,346.6 461.5,346.6 462.3,346.7 463,346.8 463.7,346.8 464.4,346.9 465.2,347 465.9,347 466.6,347.1 467.3,347.1 468,347.2 468.8,347.2 469.5,347.3 470.2,347.3 470.9,347.4 471.6,347.4 472.4,347.4 473.1,347.5 473.8,347.5 474.5,347.6 475.3,347.6 476,347.6 476.7,347.7 477.4,347.7 478.1,347.7 478.9,347.7 479.6,347.8 480.3,347.8" fill="none" stroke="#f02828" stroke-width="1.6" stroke-linejoin="round" />
<polyline points="292.8,356.4 293.5,356.3 294.2,356.3 295,356.3 295.7,356.2 296.4,356.2 297.1,356.2 297.8,356.1 298.6,356.1 299.3,356.1 300,356 300.7,356 301.5,355.9 302.2,355.9 302.9,355.8 303.6,355.8 304.3,355.7 305.1,355.7 305.8,355.6 306.5,355.6 307.2,355.5 307.9,355.4 308.7,355.3 309.4,355.3 310.1,355.2 310.8,355.1 311.6,355 312.3,354.9 313,354.8 313.7,354.6 314.4,354.5 315.2,354.4 315.9,354.2 316.6,354 317.3,353.9 318,353.7 318.8,353.4 319.5,353.2 320.2,352.9 320.9,352.6 321.6,352.2 322.4,351.8 323.1,351.3 323.8,350.7 324.5,350 325.3,349.2 326,348.2 326.7,347 327.4,345.6 328.1,343.9 328.9,342 329.6,339.7 330.3,337.1 331,334.1 331.7,330.6 332.5,326.7 333.2,322.4 333.9,317.6 334.6,312.4 335.3,306.7 336.1,300.8 336.8,294.6 337.5,288.3 338.2,282 339,275.8 339.7,269.9 340.4,264.7 341.1,260.2 341.8,256.7 342.6,254.4 343.3,253.4 344,253.7 344.7,255.1 345.4,257.5 346.2,260.8 346.9,264.8 347.6,269.6 348.3,274.8 349,280.3 349.8,286 350.5,291.8 351.2,297.5 351.9,303.1 352.7,308.4 353.4,313.4 354.1,318 354.8,322.2 355.5,326 356.3,329.4 357,332.4 357.7,334.9 358.4,337.1 359.1,339 359.9,340.6 360.6,341.9 361.3,342.9 362,343.8 362.8,344.5 363.5,345.1 364.2,345.5 364.9,345.9 365.6,346.2 366.4,346.4 367.1,346.6 367.8,346.7 368.5,346.9 369.2,347 370,347 370.7,347.1 371.4,347.2 372.1,347.2 372.8,347.3 373.6,347.3 374.3,347.4 375,347.4 375.7,347.4 376.5,347.5 377.2,347.5 377.9,347.5 378.6,347.5 379.3,347.6 380.1,347.6 380.8,347.6 381.5,347.6 382.2,347.7 382.9,347.7 383.7,347.7 384.4,347.7 385.1,347.7 385.8,347.8 386.6,347.8 387.3,347.8 388,347.8 388.7,347.8 389.4,347.8 390.2,347.8 390.9,347.9 391.6,347.9 392.3,347.9 393,347.9 393.8,347.9 394.5,347.9 395.2,347.9 395.9,347.9 396.6,347.9 397.4,348 398.1,348 398.8,348 399.5,348 400.3,348 401,348 401.7,348 402.4,348 403.1,348 403.9,348 404.6,348 405.3,348 406,348 406.7,348 407.5,348.1 408.2,348.1 408.9,348.1 409.6,348.1 410.3,348.1 411.1,348.1 411.8,348.1 412.5,348.1 413.2,348.1 414,348.1 414.7,348.1 415.4,348.1 416.1,348.1 416.8,348.1 417.6,348.1 418.3,348.1 419,348.1 419.7,348.1 420.4,348.1 421.2,348.1 421.9,348.1 422.6,348.1 423.3,348.1 424.1,348.1 424.8,348.1 425.5,348.1 426.2,348.2 426.9,348.2 427.7,348.2 428.4,348.2 429.1,348.2 429.8,348.2 430.5,348.2 431.3,348.2 432,348.2 432.7,348.2 433.4,348.2 434.1,348.2 434.9,348.2 435.6,348.2 436.3,348.2 437,348.2 437.8,348.2 438.5,348.2 439.2,348.2 439.9,348.2 440.6,348.2 441.4,348.2 442.1,348.2 442.8,348.2 443.5,348.2 444.2,348.2 445,348.2 445.7,348.2 446.4,348.2 447.1,348.2 447.8,348.2 448.6,348.2 449.3,348.2 450,348.2 450.7,348.2 451.5,348.2 452.2,348.2 452.9,348.2 453.6,348.2 454.3,348.2 455.1,348.2 455.8,348.2 456.5,348.2 457.2,348.2 457.9,348.2 458.7,348.2 459.4,348.2 460.1,348.2 460.8,348.2 461.5,348.2 462.3,348.2 463,348.2 463.7,348.2 464.4,348.2 465.2,348.2 465.9,348.2 466.6,348.2 467.3,348.2 468,348.2 468.8,348.2 469.5,348.2 470.2,348.2 470.9,348.2 471.6,348.2 472.4,348.2 473.1,348.2 473.8,348.2 474.5,348.2 475.3,348.2 476,348.2 476.7,348.2 477.4,348.2 478.1,348.2 478.9,348.2 479.6,348.2 480.3,348.2" fill="none" stroke="#1a1aff" stroke-width="1.2" stroke-linejoin="round" />
<polyline points="292.8,357.3 293.5,357.3 294.2,357.3 295,357.3 295.7,357.3 296.4,357.3 297.1,357.3 297.8,357.3 298.6,357.3 299.3,357.3 300,357.3 300.7,357.3 301.5,357.3 302.2,357.3 302.9,357.3 303.6,357.3 304.3,357.3 305.1,357.3 305.8,357.3 306.5,357.3 307.2,357.3 307.9,357.3 308.7,357.3 309.4,357.3 310.1,357.3 310.8,357.3 311.6,357.3 312.3,357.3 313,357.2 313.7,357.2 314.4,357.2 315.2,357.2 315.9,357.2 316.6,357.2 317.3,357.2 318,357.2 318.8,357.1 319.5,357.1 320.2,357.1 320.9,357 321.6,357 322.4,357 323.1,356.9 323.8,356.8 324.5,356.8 325.3,356.7 326,356.6 326.7,356.5 327.4,356.3 328.1,356.2 328.9,356 329.6,355.8 330.3,355.6 331,355.4 331.7,355.2 332.5,354.9 333.2,354.6 333.9,354.3 334.6,353.9 335.3,353.5 336.1,353.1 336.8,352.7 337.5,352.2 338.2,351.8 339,351.2 339.7,350.7 340.4,350.2 341.1,349.7 341.8,349.1 342.6,348.6 343.3,348 344,347.5 344.7,347 345.4,346.5 346.2,346 346.9,345.5 347.6,345.1 348.3,344.7 349,344.4 349.8,344.1 350.5,343.9 351.2,343.7 351.9,343.5 352.7,343.4 353.4,343.4 354.1,343.4 354.8,343.4 355.5,343.4 356.3,343.5 357,343.7 357.7,343.8 358.4,344 359.1,344.2 359.9,344.4 360.6,344.7 361.3,344.9 362,345.2 362.8,345.4 363.5,345.6 364.2,345.9 364.9,346.1 365.6,346.3 366.4,346.5 367.1,346.7 367.8,346.9 368.5,347.1 369.2,347.2 370,347.3 370.7,347.5 371.4,347.6 372.1,347.7 372.8,347.8 373.6,347.9 374.3,347.9 375,348 375.7,348 376.5,348.1 377.2,348.1 377.9,348.2 378.6,348.2 379.3,348.2 380.1,348.2 380.8,348.2 381.5,348.3 382.2,348.3 382.9,348.3 383.7,348.3 384.4,348.3 385.1,348.3 385.8,348.3 386.6,348.3 387.3,348.3 388,348.3 388.7,348.3 389.4,348.3 390.2,348.3 390.9,348.3 391.6,348.3 392.3,348.3 393,348.3 393.8,348.3 394.5,348.3 395.2,348.3 395.9,348.3 396.6,348.3 397.4,348.3 398.1,348.3 398.8,348.3 399.5,348.3 400.3,348.3 401,348.3 401.7,348.3 402.4,348.3 403.1,348.3 403.9,348.3 404.6,348.3 405.3,348.3 406,348.3 406.7,348.3 407.5,348.3 408.2,348.3 408.9,348.3 409.6,348.3 410.3,348.3 411.1,348.3 411.8,348.3 412.5,348.3 413.2,348.3 414,348.3 414.7,348.3 415.4,348.3 416.1,348.3 416.8,348.3 417.6,348.3 418.3,348.3 419,348.3 419.7,348.3 420.4,348.3 421.2,348.3 421.9,348.3 422.6,348.3 423.3,348.3 424.1,348.3 424.8,348.3 425.5,348.3 426.2,348.3 426.9,348.3 427.7,348.3 428.4,348.3 429.1,348.3 429.8,348.3 430.5,348.3 431.3,348.3 432,348.3 432.7,348.3 433.4,348.3 434.1,348.3 434.9,348.3 435.6,348.3 436.3,348.3 437,348.3 437.8,348.3 438.5,348.3 439.2,348.3 439.9,348.3 440.6,348.3 441.4,348.3 442.1,348.3 442.8,348.3 443.5,348.3 444.2,348.3 445,348.3 445.7,348.3 446.4,348.3 447.1,348.3 447.8,348.3 448.6,348.3 449.3,348.3 450,348.3 450.7,348.3 451.5,348.3 452.2,348.3 452.9,348.3 453.6,348.3 454.3,348.3 455.1,348.3 455.8,348.3 456.5,348.3 457.2,348.3 457.9,348.3 458.7,348.3 459.4,348.3 460.1,348.3 460.8,348.3 461.5,348.3 462.3,348.3 463,348.3 463.7,348.3 464.4,348.3 465.2,348.3 465.9,348.3 466.6,348.3 467.3,348.3 468,348.3 468.8,348.3 469.5,348.3 470.2,348.3 470.9,348.3 471.6,348.3 472.4,348.3 473.1,348.3 473.8,348.3 474.5,348.3 475.3,348.3 476,348.3 476.7,348.3 477.4,348.3 478.1,348.3 478.9,348.3 479.6,348.3 480.3,348.3" fill="none" stroke="#8a2be2" stroke-width="1.2" stroke-linejoin="round" />
<polyline points="292.8,357.3 293.5,357.3 294.2,357.3 295,357.3 295.7,357.3 296.4,357.3 297.1,357.3 297.8,357.3 298.6,357.3 299.3,357.3 300,357.3 300.7,357.3 301.5,357.3 302.2,357.3 302.9,357.3 303.6,357.3 304.3,357.3 305.1,357.2 305.8,357.2 306.5,357.2 307.2,357.2 307.9,357.2 308.7,357.2 309.4,357.2 310.1,357.1 310.8,357.1 311.6,357.1 312.3,357.1 313,357 313.7,357 314.4,356.9 315.2,356.9 315.9,356.8 316.6,356.7 317.3,356.7 318,356.6 318.8,356.5 319.5,356.4 320.2,356.2 320.9,356.1 321.6,356 322.4,355.8 323.1,355.6 323.8,355.4 324.5,355.2 325.3,354.9 326,354.7 326.7,354.4 327.4,354.1 328.1,353.7 328.9,353.3 329.6,352.9 330.3,352.5 331,352 331.7,351.5 332.5,351 333.2,350.4 333.9,349.8 334.6,349.2 335.3,348.5 336.1,347.8 336.8,347.1 337.5,346.3 338.2,345.5 339,344.6 339.7,343.7 340.4,342.8 341.1,341.9 341.8,340.9 342.6,340 343.3,339 344,338 344.7,337 345.4,336 346.2,335.1 346.9,334.1 347.6,333.1 348.3,332.2 349,331.3 349.8,330.5 350.5,329.6 351.2,328.9 351.9,328.1 352.7,327.5 353.4,326.8 354.1,326.3 354.8,325.8 355.5,325.3 356.3,324.9 357,324.6 357.7,324.4 358.4,324.2 359.1,324.1 359.9,324 360.6,324.1 361.3,324.3 362,324.6 362.8,324.9 363.5,325.4 364.2,325.9 364.9,326.6 365.6,327.2 366.4,328 367.1,328.8 367.8,329.6 368.5,330.5 369.2,331.4 370,332.3 370.7,333.3 371.4,334.2 372.1,335.1 372.8,336 373.6,336.9 374.3,337.8 375,338.6 375.7,339.5 376.5,340.2 377.2,341 377.9,341.7 378.6,342.3 379.3,342.9 380.1,343.5 380.8,344 381.5,344.5 382.2,344.9 382.9,345.3 383.7,345.7 384.4,346 385.1,346.3 385.8,346.6 386.6,346.8 387.3,347 388,347.2 388.7,347.4 389.4,347.5 390.2,347.6 390.9,347.7 391.6,347.8 392.3,347.9 393,348 393.8,348 394.5,348.1 395.2,348.1 395.9,348.1 396.6,348.2 397.4,348.2 398.1,348.2 398.8,348.2 399.5,348.2 400.3,348.3 401,348.3 401.7,348.3 402.4,348.3 403.1,348.3 403.9,348.3 404.6,348.3 405.3,348.3 406,348.3 406.7,348.3 407.5,348.3 408.2,348.3 408.9,348.3 409.6,348.3 410.3,348.3 411.1,348.3 411.8,348.3 412.5,348.3 413.2,348.3 414,348.3 414.7,348.3 415.4,348.3 416.1,348.3 416.8,348.3 417.6,348.3 418.3,348.3 419,348.3 419.7,348.3 420.4,348.3 421.2,348.3 421.9,348.3 422.6,348.3 423.3,348.3 424.1,348.3 424.8,348.3 425.5,348.3 426.2,348.3 426.9,348.3 427.7,348.3 428.4,348.3 429.1,348.3 429.8,348.3 430.5,348.3 431.3,348.3 432,348.3 432.7,348.3 433.4,348.3 434.1,348.3 434.9,348.3 435.6,348.3 436.3,348.3 437,348.3 437.8,348.3 438.5,348.3 439.2,348.3 439.9,348.3 440.6,348.3 441.4,348.3 442.1,348.3 442.8,348.3 443.5,348.3 444.2,348.3 445,348.3 445.7,348.3 446.4,348.3 447.1,348.3 447.8,348.3 448.6,348.3 449.3,348.3 450,348.3 450.7,348.3 451.5,348.3 452.2,348.3 452.9,348.3 453.6,348.3 454.3,348.3 455.1,348.3 455.8,348.3 456.5,348.3 457.2,348.3 457.9,348.3 458.7,348.3 459.4,348.3 460.1,348.3 460.8,348.3 461.5,348.3 462.3,348.3 463,348.3 463.7,348.3 464.4,348.3 465.2,348.3 465.9,348.3 466.6,348.3 467.3,348.3 468,348.3 468.8,348.3 469.5,348.3 470.2,348.3 470.9,348.3 471.6,348.3 472.4,348.3 473.1,348.3 473.8,348.3 474.5,348.3 475.3,348.3 476,348.3 476.7,348.3 477.4,348.3 478.1,348.3 478.9,348.3 479.6,348.3 480.3,348.3" fill="none" stroke="#8a8a00" stroke-width="1.2" stroke-linejoin="round" />
<polyline points="292.8,357.3 293.5,357.3 294.2,357.3 295,357.3 295.7,357.3 296.4,357.3 297.1,357.3 297.8,357.3 298.6,357.3 299.3,357.3 300,357.3 300.7,357.3 301.5,357.3 302.2,357.3 302.9,357.3 303.6,357.3 304.3,357.3 305.1,357.3 305.8,357.3 306.5,357.3 307.2,357.3 307.9,357.3 308.7,357.3 309.4,357.3 310.1,357.3 310.8,357.3 311.6,357.3 312.3,357.3 313,357.3 313.7,357.2 314.4,357.2 315.2,357.2 315.9,357.2 316.6,357.2 317.3,357.2 318,357.2 318.8,357.2 319.5,357.2 320.2,357.2 320.9,357.1 321.6,357.1 322.4,357.1 323.1,357.1 323.8,357 324.5,357 325.3,357 326,356.9 326.7,356.9 327.4,356.8 328.1,356.8 328.9,356.7 329.6,356.6 330.3,356.6 331,356.5 331.7,356.4 332.5,356.3 333.2,356.1 333.9,356 334.6,355.9 335.3,355.7 336.1,355.6 336.8,355.4 337.5,355.2 338.2,355 339,354.8 339.7,354.5 340.4,354.3 341.1,354 341.8,353.8 342.6,353.5 343.3,353.2 344,352.9 344.7,352.6 345.4,352.4 346.2,352.1 346.9,351.8 347.6,351.5 348.3,351.2 349,350.9 349.8,350.6 350.5,350.4 351.2,350.1 351.9,349.9 352.7,349.6 353.4,349.4 354.1,349.2 354.8,349 355.5,348.8 356.3,348.6 357,348.4 357.7,348.2 358.4,348 359.1,347.9 359.9,347.7 360.6,347.5 361.3,347.4 362,347.2 362.8,347.1 363.5,346.9 364.2,346.8 364.9,346.6 365.6,346.5 366.4,346.3 367.1,346.2 367.8,346 368.5,345.8 369.2,345.7 370,345.5 370.7,345.4 371.4,345.2 372.1,345 372.8,344.8 373.6,344.7 374.3,344.5 375,344.3 375.7,344.1 376.5,344 377.2,343.8 377.9,343.6 378.6,343.4 379.3,343.2 380.1,343 380.8,342.9 381.5,342.7 382.2,342.5 382.9,342.3 383.7,342.1 384.4,342 385.1,341.8 385.8,341.6 386.6,341.4 387.3,341.3 388,341.1 388.7,340.9 389.4,340.8 390.2,340.6 390.9,340.5 391.6,340.4 392.3,340.2 393,340.1 393.8,340 394.5,339.9 395.2,339.8 395.9,339.7 396.6,339.6 397.4,339.5 398.1,339.5 398.8,339.4 399.5,339.4 400.3,339.3 401,339.3 401.7,339.3 402.4,339.3 403.1,339.3 403.9,339.3 404.6,339.3 405.3,339.3 406,339.4 406.7,339.4 407.5,339.4 408.2,339.4 408.9,339.5 409.6,339.5 410.3,339.6 411.1,339.6 411.8,339.7 412.5,339.7 413.2,339.8 414,339.9 414.7,339.9 415.4,340 416.1,340.1 416.8,340.2 417.6,340.3 418.3,340.4 419,340.4 419.7,340.5 420.4,340.6 421.2,340.7 421.9,340.8 422.6,340.9 423.3,341.1 424.1,341.2 424.8,341.3 425.5,341.4 426.2,341.5 426.9,341.6 427.7,341.7 428.4,341.9 429.1,342 429.8,342.1 430.5,342.2 431.3,342.3 432,342.5 432.7,342.6 433.4,342.7 434.1,342.8 434.9,343 435.6,343.1 436.3,343.2 437,343.3 437.8,343.5 438.5,343.6 439.2,343.7 439.9,343.8 440.6,343.9 441.4,344.1 442.1,344.2 442.8,344.3 443.5,344.4 444.2,344.5 445,344.6 445.7,344.7 446.4,344.9 447.1,345 447.8,345.1 448.6,345.2 449.3,345.3 450,345.4 450.7,345.5 451.5,345.6 452.2,345.7 452.9,345.8 453.6,345.9 454.3,345.9 455.1,346 455.8,346.1 456.5,346.2 457.2,346.3 457.9,346.4 458.7,346.4 459.4,346.5 460.1,346.6 460.8,346.6 461.5,346.7 462.3,346.8 463,346.8 463.7,346.9 464.4,347 465.2,347 465.9,347.1 466.6,347.1 467.3,347.2 468,347.2 468.8,347.3 469.5,347.3 470.2,347.4 470.9,347.4 471.6,347.5 472.4,347.5 473.1,347.5 473.8,347.6 474.5,347.6 475.3,347.7 476,347.7 476.7,347.7 477.4,347.7 478.1,347.8 478.9,347.8 479.6,347.8 480.3,347.9" fill="none" stroke="#00e6f2" stroke-width="1.2" stroke-linejoin="round" />
<rect x="292.8" y="210.6" width="187.5" height="150.4" fill="none" stroke="#151515" stroke-width="1.2"/>
<line x1="307.2" y1="361" x2="307.2" y2="364" stroke="#151515" stroke-width="1.1" />
<text x="307.2" y="372.6" font-family="Liberation Serif" font-weight="bold" font-size="7.6" text-anchor="middle" >282</text>
<line x1="336.1" y1="361" x2="336.1" y2="364" stroke="#151515" stroke-width="1.1" />
<text x="336.1" y="372.6" font-family="Liberation Serif" font-weight="bold" font-size="7.6" text-anchor="middle" >284</text>
<line x1="364.9" y1="361" x2="364.9" y2="364" stroke="#151515" stroke-width="1.1" />
<text x="364.9" y="372.6" font-family="Liberation Serif" font-weight="bold" font-size="7.6" text-anchor="middle" >286</text>
<line x1="393.8" y1="361" x2="393.8" y2="364" stroke="#151515" stroke-width="1.1" />
<text x="393.8" y="372.6" font-family="Liberation Serif" font-weight="bold" font-size="7.6" text-anchor="middle" >288</text>
<line x1="422.6" y1="361" x2="422.6" y2="364" stroke="#151515" stroke-width="1.1" />
<text x="422.6" y="372.6" font-family="Liberation Serif" font-weight="bold" font-size="7.6" text-anchor="middle" >290</text>
<line x1="451.5" y1="361" x2="451.5" y2="364" stroke="#151515" stroke-width="1.1" />
<text x="451.5" y="372.6" font-family="Liberation Serif" font-weight="bold" font-size="7.6" text-anchor="middle" >292</text>
<line x1="480.3" y1="361" x2="480.3" y2="364" stroke="#151515" stroke-width="1.1" />
<text x="480.3" y="372.6" font-family="Liberation Serif" font-weight="bold" font-size="7.6" text-anchor="middle" >294</text>
<line x1="321.6" y1="361" x2="321.6" y2="363" stroke="#151515" stroke-width="1" />
<line x1="350.5" y1="361" x2="350.5" y2="363" stroke="#151515" stroke-width="1" />
<line x1="379.3" y1="361" x2="379.3" y2="363" stroke="#151515" stroke-width="1" />
<line x1="408.2" y1="361" x2="408.2" y2="363" stroke="#151515" stroke-width="1" />
<line x1="437" y1="361" x2="437" y2="363" stroke="#151515" stroke-width="1" />
<line x1="465.9" y1="361" x2="465.9" y2="363" stroke="#151515" stroke-width="1" />
<line x1="292.8" y1="358.5" x2="289.6" y2="358.5" stroke="#151515" stroke-width="1.1" />
<text x="287.9" y="361.5" font-family="Liberation Serif" font-weight="bold" font-size="7.6" text-anchor="end" >0</text>
<line x1="292.8" y1="325.5" x2="289.6" y2="325.5" stroke="#151515" stroke-width="1.1" />
<text x="287.9" y="328.5" font-family="Liberation Serif" font-weight="bold" font-size="7.6" text-anchor="end" >50000</text>
<line x1="292.8" y1="292.5" x2="289.6" y2="292.5" stroke="#151515" stroke-width="1.1" />
<text x="287.9" y="295.5" font-family="Liberation Serif" font-weight="bold" font-size="7.6" text-anchor="end" >100000</text>
<line x1="292.8" y1="259.5" x2="289.6" y2="259.5" stroke="#151515" stroke-width="1.1" />
<text x="287.9" y="262.5" font-family="Liberation Serif" font-weight="bold" font-size="7.6" text-anchor="end" >150000</text>
<line x1="292.8" y1="226.5" x2="289.6" y2="226.5" stroke="#151515" stroke-width="1.1" />
<text x="287.9" y="229.5" font-family="Liberation Serif" font-weight="bold" font-size="7.6" text-anchor="end" >200000</text>
<line x1="292.8" y1="342" x2="290.8" y2="342" stroke="#151515" stroke-width="1" />
<line x1="292.8" y1="309" x2="290.8" y2="309" stroke="#151515" stroke-width="1" />
<line x1="292.8" y1="276" x2="290.8" y2="276" stroke="#151515" stroke-width="1" />
<line x1="292.8" y1="243" x2="290.8" y2="243" stroke="#151515" stroke-width="1" />
<rect x="394.2" y="223" width="73.4" height="61.9" rx="1" fill="#fff" stroke="#777" stroke-width="0.9"/>
<circle cx="402.7" cy="227.2" r="2.1" fill="none" stroke="#333" stroke-width="0.8"/>
<text x="412.3" y="229.7" font-family="Liberation Serif" font-size="7.4" fill="#111" stroke="#111" stroke-width="0.15" textLength="42.6" lengthAdjust="spacingAndGlyphs">Raw Intensity</text>
<line x1="394.2" y1="236.4" x2="411.1" y2="236.4" stroke="#f02a2a" stroke-width="2" />
<text x="412.3" y="238.9" font-family="Liberation Serif" font-size="7.4" fill="#111" stroke="#111" stroke-width="0.15" textLength="30.5" lengthAdjust="spacingAndGlyphs">Peak Sum</text>
<line x1="394.2" y1="245.1" x2="411.1" y2="245.1" stroke="#8a8a8a" stroke-width="1.6" />
<text x="412.3" y="247.6" font-family="Liberation Serif" font-size="7.4" fill="#111" stroke="#111" stroke-width="0.15" textLength="36.9" lengthAdjust="spacingAndGlyphs">Background</text>
<line x1="394.2" y1="254" x2="411.1" y2="254" stroke="#1a1aff" stroke-width="1.6" />
<text x="412.3" y="256.5" font-family="Liberation Serif" font-size="7.4" fill="#111" stroke="#111" stroke-width="0.15" textLength="47.1" lengthAdjust="spacingAndGlyphs">C=C (284.5 <tspan font-style="italic">eV</tspan>)</text>
<line x1="394.2" y1="262.9" x2="411.1" y2="262.9" stroke="#8a2be2" stroke-width="1.6" />
<text x="412.3" y="265.4" font-family="Liberation Serif" font-size="7.4" fill="#111" stroke="#111" stroke-width="0.15" textLength="39.9" lengthAdjust="spacingAndGlyphs">C-N (285 <tspan font-style="italic">eV</tspan>)</text>
<line x1="394.2" y1="271.8" x2="411.1" y2="271.8" stroke="#8a8a00" stroke-width="1.6" />
<text x="412.3" y="274.3" font-family="Liberation Serif" font-size="7.4" fill="#111" stroke="#111" stroke-width="0.15" textLength="46.2" lengthAdjust="spacingAndGlyphs">C-O (285.5 <tspan font-style="italic">eV</tspan>)</text>
<line x1="394.2" y1="280.6" x2="411.1" y2="280.6" stroke="#00e6f2" stroke-width="1.6" />
<text x="412.3" y="283.1" font-family="Liberation Serif" font-size="7.4" fill="#111" stroke="#111" stroke-width="0.15" textLength="55.9" lengthAdjust="spacingAndGlyphs">O-C=O (288.6 <tspan font-style="italic">eV</tspan>)</text>
<text x="250.5" y="201" font-family="Liberation Serif" font-weight="bold" font-size="21.3" text-anchor="start" textLength="24.1" lengthAdjust="spacingAndGlyphs">(e)</text>
<text x="300.9" y="240.5" font-family="Liberation Serif" font-weight="bold" font-size="15.6" text-anchor="start" textLength="30.2" lengthAdjust="spacingAndGlyphs">C 1s</text>
<text x="387.9" y="298.2" font-family="Liberation Serif" font-weight="bold" font-size="9.7" text-anchor="start" textLength="81" lengthAdjust="spacingAndGlyphs">3D-PANI/CNTs/CC</text>
<text x="330.2" y="390.6" font-family="Liberation Serif" font-weight="bold" font-size="12.8" text-anchor="start" textLength="113" lengthAdjust="spacingAndGlyphs">Binding Energy (eV)</text>
<text transform="translate(258.7,289.6) rotate(-90)" font-family="Liberation Serif" font-weight="bold" font-size="12.7" text-anchor="middle" textLength="83" lengthAdjust="spacingAndGlyphs">Intensity (a. u.)</text>
<polygon points="530.2,356.3 530.9,356.3 531.6,356.3 532.4,356.3 533.1,356.3 533.8,356.3 534.5,356.2 535.3,356.2 536,356.2 536.7,356.2 537.4,356.2 538.2,356.2 538.9,356.2 539.6,356.2 540.3,356.2 541,356.2 541.8,356.2 542.5,356.2 543.2,356.2 543.9,356.2 544.7,356.2 545.4,356.1 546.1,356.1 546.8,356.1 547.6,356.1 548.3,356.1 549,356.1 549.7,356.1 550.4,356.1 551.2,356.1 551.9,356 552.6,356 553.3,356 554.1,356 554.8,356 555.5,356 556.2,356 557,355.9 557.7,355.9 558.4,355.9 559.1,355.9 559.8,355.8 560.6,355.8 561.3,355.8 562,355.7 562.7,355.7 563.5,355.6 564.2,355.6 564.9,355.5 565.6,355.5 566.4,355.4 567.1,355.3 567.8,355.2 568.5,355.1 569.2,355 570,354.8 570.7,354.7 571.4,354.5 572.1,354.3 572.9,354.1 573.6,353.8 574.3,353.5 575,353.2 575.8,352.8 576.5,352.5 577.2,352 577.9,351.5 578.6,351 579.4,350.5 580.1,349.8 580.8,349.2 581.5,348.4 582.3,347.7 583,346.8 583.7,346 584.4,345 585.2,344.1 585.9,343 586.6,342 587.3,340.9 588,339.7 588.8,338.6 589.5,337.4 590.2,336.2 590.9,335 591.7,333.8 592.4,332.6 593.1,331.5 593.8,330.3 594.6,329.3 595.3,328.3 596,327.3 596.7,326.5 597.4,325.7 598.2,325.1 598.9,324.6 599.6,324.1 600.3,323.9 601.1,323.7 601.8,323.7 602.5,323.8 603.2,324 604,324.4 604.7,324.8 605.4,325.4 606.1,326 606.8,326.8 607.6,327.6 608.3,328.5 609,329.5 609.7,330.5 610.5,331.5 611.2,332.6 611.9,333.7 612.6,334.8 613.4,335.9 614.1,336.9 614.8,338 615.5,339 616.2,340 617,340.9 617.7,341.8 618.4,342.6 619.1,343.4 619.9,344.1 620.6,344.8 621.3,345.4 622,345.9 622.8,346.4 623.5,346.8 624.2,347.2 624.9,347.5 625.6,347.8 626.4,348.1 627.1,348.3 627.8,348.4 628.5,348.6 629.3,348.7 630,348.7 630.7,348.8 631.4,348.8 632.2,348.8 632.9,348.9 633.6,348.8 634.3,348.8 635,348.8 635.8,348.8 636.5,348.7 637.2,348.7 637.9,348.6 638.7,348.6 639.4,348.6 640.1,348.5 640.8,348.5 641.6,348.4 642.3,348.4 643,348.3 643.7,348.3 644.4,348.3 645.2,348.2 645.9,348.2 646.6,348.2 647.3,348.1 648.1,348.1 648.8,348.1 649.5,348.1 650.2,348 651,348 651.7,348 652.4,348 653.1,348 653.8,348 654.6,347.9 655.3,347.9 656,347.9 656.7,347.9 657.5,347.9 658.2,347.9 658.9,347.9 659.6,347.9 660.4,347.9 661.1,347.9 661.8,347.9 662.5,347.9 663.2,347.8 664,347.8 664.7,347.8 665.4,347.8 666.1,347.8 666.9,347.8 667.6,347.8 668.3,347.8 669,347.8 669.8,347.8 670.5,347.8 671.2,347.8 671.9,347.8 672.6,347.8 673.4,347.8 674.1,347.8 674.8,347.8 675.5,347.8 676.3,347.8 677,347.8 677.7,347.8 678.4,347.8 679.2,347.8 679.9,347.8 680.6,347.8 681.3,347.8 682,347.8 682.8,347.8 683.5,347.8 684.2,347.8 684.9,347.8 685.7,347.8 686.4,347.8 687.1,347.8 687.8,347.8 688.6,347.8 689.3,347.8 690,347.8 690.7,347.8 691.4,347.8 692.2,347.8 692.9,347.8 693.6,347.8 694.3,347.8 695.1,347.8 695.8,347.8 696.5,347.8 697.2,347.8 698,347.8 698.7,347.8 699.4,347.8 700.1,347.8 700.8,347.8 701.6,347.8 702.3,347.8 703,347.8 703.7,347.8 704.5,347.8 705.2,347.8 705.9,347.8 706.6,347.8 707.4,347.8 708.1,347.8 708.8,347.8 709.5,347.8 710.2,347.8 711,347.8 711.7,347.8 712.4,347.8 713.1,347.8 713.9,347.8 714.6,347.8 715.3,347.8 716,347.8 716.8,347.8 717.5,347.8 718.2,347.8 718.2,347.8 717.5,347.8 716.8,347.8 716,347.8 715.3,347.8 714.6,347.8 713.9,347.8 713.1,347.8 712.4,347.8 711.7,347.8 711,347.8 710.2,347.8 709.5,347.8 708.8,347.8 708.1,347.8 707.4,347.8 706.6,347.8 705.9,347.8 705.2,347.8 704.5,347.8 703.7,347.8 703,347.8 702.3,347.8 701.6,347.8 700.8,347.8 700.1,347.8 699.4,347.8 698.7,347.8 698,347.8 697.2,347.8 696.5,347.8 695.8,347.8 695.1,347.8 694.3,347.8 693.6,347.8 692.9,347.8 692.2,347.8 691.4,347.8 690.7,347.8 690,347.8 689.3,347.8 688.6,347.8 687.8,347.8 687.1,347.8 686.4,347.8 685.7,347.8 684.9,347.8 684.2,347.8 683.5,347.8 682.8,347.8 682,347.8 681.3,347.8 680.6,347.8 679.9,347.8 679.2,347.8 678.4,347.8 677.7,347.8 677,347.8 676.3,347.8 675.5,347.8 674.8,347.8 674.1,347.8 673.4,347.8 672.6,347.8 671.9,347.8 671.2,347.8 670.5,347.8 669.8,347.8 669,347.8 668.3,347.8 667.6,347.8 666.9,347.8 666.1,347.8 665.4,347.8 664.7,347.8 664,347.8 663.2,347.8 662.5,347.9 661.8,347.9 661.1,347.9 660.4,347.9 659.6,347.9 658.9,347.9 658.2,347.9 657.5,347.9 656.7,347.9 656,347.9 655.3,347.9 654.6,347.9 653.8,348 653.1,348 652.4,348 651.7,348 651,348 650.2,348 649.5,348.1 648.8,348.1 648.1,348.1 647.3,348.2 646.6,348.2 645.9,348.2 645.2,348.3 644.4,348.3 643.7,348.3 643,348.4 642.3,348.4 641.6,348.5 640.8,348.6 640.1,348.6 639.4,348.7 638.7,348.8 637.9,348.8 637.2,348.9 636.5,349 635.8,349.1 635,349.2 634.3,349.3 633.6,349.5 632.9,349.6 632.2,349.7 631.4,349.8 630.7,350 630,350.1 629.3,350.3 628.5,350.5 627.8,350.6 627.1,350.8 626.4,351 625.6,351.2 624.9,351.4 624.2,351.6 623.5,351.7 622.8,351.9 622,352.1 621.3,352.3 620.6,352.5 619.9,352.7 619.1,352.9 618.4,353.1 617.7,353.3 617,353.5 616.2,353.7 615.5,353.8 614.8,354 614.1,354.1 613.4,354.3 612.6,354.4 611.9,354.6 611.2,354.7 610.5,354.8 609.7,355 609,355.1 608.3,355.2 607.6,355.3 606.8,355.4 606.1,355.4 605.4,355.5 604.7,355.6 604,355.7 603.2,355.7 602.5,355.8 601.8,355.9 601.1,355.9 600.3,356 599.6,356 598.9,356 598.2,356.1 597.4,356.1 596.7,356.1 596,356.2 595.3,356.2 594.6,356.2 593.8,356.3 593.1,356.3 592.4,356.3 591.7,356.3 590.9,356.3 590.2,356.3 589.5,356.4 588.8,356.4 588,356.4 587.3,356.4 586.6,356.4 585.9,356.4 585.2,356.4 584.4,356.4 583.7,356.4 583,356.4 582.3,356.4 581.5,356.4 580.8,356.4 580.1,356.5 579.4,356.5 578.6,356.5 577.9,356.5 577.2,356.5 576.5,356.5 575.8,356.5 575,356.5 574.3,356.5 573.6,356.5 572.9,356.5 572.1,356.5 571.4,356.5 570.7,356.5 570,356.5 569.2,356.5 568.5,356.5 567.8,356.5 567.1,356.5 566.4,356.5 565.6,356.5 564.9,356.5 564.2,356.5 563.5,356.5 562.7,356.5 562,356.5 561.3,356.5 560.6,356.5 559.8,356.5 559.1,356.5 558.4,356.5 557.7,356.5 557,356.5 556.2,356.5 555.5,356.5 554.8,356.5 554.1,356.5 553.3,356.5 552.6,356.5 551.9,356.5 551.2,356.5 550.4,356.5 549.7,356.5 549,356.5 548.3,356.5 547.6,356.5 546.8,356.5 546.1,356.5 545.4,356.5 544.7,356.5 543.9,356.5 543.2,356.5 542.5,356.5 541.8,356.5 541,356.5 540.3,356.5 539.6,356.5 538.9,356.5 538.2,356.5 537.4,356.5 536.7,356.5 536,356.5 535.3,356.5 534.5,356.5 533.8,356.5 533.1,356.5 532.4,356.5 531.6,356.5 530.9,356.5 530.2,356.5" fill="#bbc3fc" />
<polygon points="530.2,356 530.9,356 531.6,356 532.4,356 533.1,355.9 533.8,355.9 534.5,355.9 535.3,355.9 536,355.9 536.7,355.9 537.4,355.9 538.2,355.9 538.9,355.9 539.6,355.9 540.3,355.9 541,355.8 541.8,355.8 542.5,355.8 543.2,355.8 543.9,355.8 544.7,355.8 545.4,355.8 546.1,355.8 546.8,355.7 547.6,355.7 548.3,355.7 549,355.7 549.7,355.7 550.4,355.7 551.2,355.7 551.9,355.6 552.6,355.6 553.3,355.6 554.1,355.6 554.8,355.6 555.5,355.5 556.2,355.5 557,355.5 557.7,355.5 558.4,355.5 559.1,355.4 559.8,355.4 560.6,355.4 561.3,355.4 562,355.3 562.7,355.3 563.5,355.3 564.2,355.3 564.9,355.2 565.6,355.2 566.4,355.2 567.1,355.1 567.8,355.1 568.5,355.1 569.2,355 570,355 570.7,355 571.4,354.9 572.1,354.9 572.9,354.8 573.6,354.8 574.3,354.7 575,354.7 575.8,354.6 576.5,354.6 577.2,354.5 577.9,354.5 578.6,354.4 579.4,354.3 580.1,354.2 580.8,354.2 581.5,354.1 582.3,354 583,353.9 583.7,353.8 584.4,353.6 585.2,353.5 585.9,353.3 586.6,353.2 587.3,353 588,352.8 588.8,352.6 589.5,352.3 590.2,352 590.9,351.7 591.7,351.3 592.4,350.9 593.1,350.5 593.8,350 594.6,349.4 595.3,348.7 596,348 596.7,347.2 597.4,346.3 598.2,345.3 598.9,344.2 599.6,342.9 600.3,341.6 601.1,340.1 601.8,338.4 602.5,336.7 603.2,334.7 604,332.6 604.7,330.4 605.4,327.9 606.1,325.3 606.8,322.6 607.6,319.6 608.3,316.5 609,313.3 609.7,309.9 610.5,306.4 611.2,302.7 611.9,299 612.6,295.2 613.4,291.3 614.1,287.4 614.8,283.5 615.5,279.6 616.2,275.8 617,272.1 617.7,268.5 618.4,265.1 619.1,261.9 619.9,258.9 620.6,256.3 621.3,253.9 622,252 622.8,250.4 623.5,249.3 624.2,248.6 624.9,248.4 625.6,248.6 626.4,249.3 627.1,250.5 627.8,252 628.5,254 629.3,256.3 630,258.9 630.7,261.9 631.4,265 632.2,268.5 632.9,272 633.6,275.8 634.3,279.6 635,283.5 635.8,287.4 636.5,291.2 637.2,295.1 637.9,298.9 638.7,302.5 639.4,306.1 640.1,309.5 640.8,312.8 641.6,315.9 642.3,318.8 643,321.6 643.7,324.2 644.4,326.5 645.2,328.7 645.9,330.8 646.6,332.6 647.3,334.3 648.1,335.8 648.8,337.2 649.5,338.4 650.2,339.5 651,340.5 651.7,341.4 652.4,342.2 653.1,342.8 653.8,343.4 654.6,343.9 655.3,344.4 656,344.7 656.7,345.1 657.5,345.4 658.2,345.6 658.9,345.8 659.6,346 660.4,346.2 661.1,346.3 661.8,346.4 662.5,346.5 663.2,346.6 664,346.7 664.7,346.7 665.4,346.8 666.1,346.8 666.9,346.9 667.6,346.9 668.3,346.9 669,347 669.8,347 670.5,347 671.2,347.1 671.9,347.1 672.6,347.1 673.4,347.1 674.1,347.1 674.8,347.2 675.5,347.2 676.3,347.2 677,347.2 677.7,347.2 678.4,347.2 679.2,347.2 679.9,347.3 680.6,347.3 681.3,347.3 682,347.3 682.8,347.3 683.5,347.3 684.2,347.3 684.9,347.3 685.7,347.4 686.4,347.4 687.1,347.4 687.8,347.4 688.6,347.4 689.3,347.4 690,347.4 690.7,347.4 691.4,347.4 692.2,347.4 692.9,347.4 693.6,347.4 694.3,347.5 695.1,347.5 695.8,347.5 696.5,347.5 697.2,347.5 698,347.5 698.7,347.5 699.4,347.5 700.1,347.5 700.8,347.5 701.6,347.5 702.3,347.5 703,347.5 703.7,347.5 704.5,347.5 705.2,347.5 705.9,347.5 706.6,347.5 707.4,347.6 708.1,347.6 708.8,347.6 709.5,347.6 710.2,347.6 711,347.6 711.7,347.6 712.4,347.6 713.1,347.6 713.9,347.6 714.6,347.6 715.3,347.6 716,347.6 716.8,347.6 717.5,347.6 718.2,347.6 718.2,347.8 717.5,347.8 716.8,347.8 716,347.8 715.3,347.8 714.6,347.8 713.9,347.8 713.1,347.8 712.4,347.8 711.7,347.8 711,347.8 710.2,347.8 709.5,347.8 708.8,347.8 708.1,347.8 707.4,347.8 706.6,347.8 705.9,347.8 705.2,347.8 704.5,347.8 703.7,347.8 703,347.8 702.3,347.8 701.6,347.8 700.8,347.8 700.1,347.8 699.4,347.8 698.7,347.8 698,347.8 697.2,347.8 696.5,347.8 695.8,347.8 695.1,347.8 694.3,347.8 693.6,347.8 692.9,347.8 692.2,347.8 691.4,347.8 690.7,347.8 690,347.8 689.3,347.8 688.6,347.8 687.8,347.8 687.1,347.8 686.4,347.8 685.7,347.8 684.9,347.8 684.2,347.8 683.5,347.8 682.8,347.8 682,347.8 681.3,347.8 680.6,347.8 679.9,347.8 679.2,347.8 678.4,347.8 677.7,347.8 677,347.8 676.3,347.8 675.5,347.8 674.8,347.8 674.1,347.8 673.4,347.8 672.6,347.8 671.9,347.8 671.2,347.8 670.5,347.8 669.8,347.8 669,347.8 668.3,347.8 667.6,347.8 666.9,347.8 666.1,347.8 665.4,347.8 664.7,347.8 664,347.8 663.2,347.8 662.5,347.9 661.8,347.9 661.1,347.9 660.4,347.9 659.6,347.9 658.9,347.9 658.2,347.9 657.5,347.9 656.7,347.9 656,347.9 655.3,347.9 654.6,347.9 653.8,348 653.1,348 652.4,348 651.7,348 651,348 650.2,348 649.5,348.1 648.8,348.1 648.1,348.1 647.3,348.2 646.6,348.2 645.9,348.2 645.2,348.3 644.4,348.3 643.7,348.3 643,348.4 642.3,348.4 641.6,348.5 640.8,348.6 640.1,348.6 639.4,348.7 638.7,348.8 637.9,348.8 637.2,348.9 636.5,349 635.8,349.1 635,349.2 634.3,349.3 633.6,349.5 632.9,349.6 632.2,349.7 631.4,349.8 630.7,350 630,350.1 629.3,350.3 628.5,350.5 627.8,350.6 627.1,350.8 626.4,351 625.6,351.2 624.9,351.4 624.2,351.6 623.5,351.7 622.8,351.9 622,352.1 621.3,352.3 620.6,352.5 619.9,352.7 619.1,352.9 618.4,353.1 617.7,353.3 617,353.5 616.2,353.7 615.5,353.8 614.8,354 614.1,354.1 613.4,354.3 612.6,354.4 611.9,354.6 611.2,354.7 610.5,354.8 609.7,355 609,355.1 608.3,355.2 607.6,355.3 606.8,355.4 606.1,355.4 605.4,355.5 604.7,355.6 604,355.7 603.2,355.7 602.5,355.8 601.8,355.9 601.1,355.9 600.3,356 599.6,356 598.9,356 598.2,356.1 597.4,356.1 596.7,356.1 596,356.2 595.3,356.2 594.6,356.2 593.8,356.3 593.1,356.3 592.4,356.3 591.7,356.3 590.9,356.3 590.2,356.3 589.5,356.4 588.8,356.4 588,356.4 587.3,356.4 586.6,356.4 585.9,356.4 585.2,356.4 584.4,356.4 583.7,356.4 583,356.4 582.3,356.4 581.5,356.4 580.8,356.4 580.1,356.5 579.4,356.5 578.6,356.5 577.9,356.5 577.2,356.5 576.5,356.5 575.8,356.5 575,356.5 574.3,356.5 573.6,356.5 572.9,356.5 572.1,356.5 571.4,356.5 570.7,356.5 570,356.5 569.2,356.5 568.5,356.5 567.8,356.5 567.1,356.5 566.4,356.5 565.6,356.5 564.9,356.5 564.2,356.5 563.5,356.5 562.7,356.5 562,356.5 561.3,356.5 560.6,356.5 559.8,356.5 559.1,356.5 558.4,356.5 557.7,356.5 557,356.5 556.2,356.5 555.5,356.5 554.8,356.5 554.1,356.5 553.3,356.5 552.6,356.5 551.9,356.5 551.2,356.5 550.4,356.5 549.7,356.5 549,356.5 548.3,356.5 547.6,356.5 546.8,356.5 546.1,356.5 545.4,356.5 544.7,356.5 543.9,356.5 543.2,356.5 542.5,356.5 541.8,356.5 541,356.5 540.3,356.5 539.6,356.5 538.9,356.5 538.2,356.5 537.4,356.5 536.7,356.5 536,356.5 535.3,356.5 534.5,356.5 533.8,356.5 533.1,356.5 532.4,356.5 531.6,356.5 530.9,356.5 530.2,356.5" fill="#f0ec94" />
<polygon points="530.2,356.5 530.9,356.5 531.6,356.5 532.4,356.5 533.1,356.5 533.8,356.5 534.5,356.5 535.3,356.5 536,356.5 536.7,356.5 537.4,356.5 538.2,356.5 538.9,356.5 539.6,356.5 540.3,356.5 541,356.5 541.8,356.5 542.5,356.5 543.2,356.5 543.9,356.5 544.7,356.5 545.4,356.5 546.1,356.5 546.8,356.5 547.6,356.5 548.3,356.5 549,356.5 549.7,356.5 550.4,356.5 551.2,356.5 551.9,356.5 552.6,356.5 553.3,356.5 554.1,356.5 554.8,356.5 555.5,356.5 556.2,356.5 557,356.5 557.7,356.5 558.4,356.5 559.1,356.5 559.8,356.5 560.6,356.5 561.3,356.5 562,356.5 562.7,356.5 563.5,356.5 564.2,356.5 564.9,356.5 565.6,356.4 566.4,356.4 567.1,356.4 567.8,356.4 568.5,356.4 569.2,356.4 570,356.4 570.7,356.4 571.4,356.4 572.1,356.4 572.9,356.4 573.6,356.4 574.3,356.4 575,356.3 575.8,356.3 576.5,356.3 577.2,356.3 577.9,356.3 578.6,356.3 579.4,356.2 580.1,356.2 580.8,356.2 581.5,356.2 582.3,356.1 583,356.1 583.7,356.1 584.4,356.1 585.2,356 585.9,356 586.6,355.9 587.3,355.9 588,355.9 588.8,355.8 589.5,355.8 590.2,355.7 590.9,355.6 591.7,355.6 592.4,355.5 593.1,355.4 593.8,355.4 594.6,355.3 595.3,355.2 596,355.1 596.7,355 597.4,354.9 598.2,354.8 598.9,354.7 599.6,354.6 600.3,354.5 601.1,354.4 601.8,354.2 602.5,354.1 603.2,353.9 604,353.8 604.7,353.6 605.4,353.4 606.1,353.2 606.8,353 607.6,352.8 608.3,352.6 609,352.4 609.7,352.2 610.5,351.9 611.2,351.7 611.9,351.4 612.6,351.1 613.4,350.9 614.1,350.6 614.8,350.3 615.5,350 616.2,349.6 617,349.3 617.7,349 618.4,348.6 619.1,348.3 619.9,347.9 620.6,347.6 621.3,347.2 622,346.9 622.8,346.5 623.5,346.2 624.2,345.8 624.9,345.4 625.6,345.1 626.4,344.7 627.1,344.4 627.8,344 628.5,343.7 629.3,343.4 630,343.1 630.7,342.7 631.4,342.4 632.2,342.2 632.9,341.9 633.6,341.6 634.3,341.3 635,341.1 635.8,340.8 636.5,340.6 637.2,340.4 637.9,340.2 638.7,340 639.4,339.8 640.1,339.6 640.8,339.4 641.6,339.3 642.3,339.1 643,339 643.7,338.9 644.4,338.7 645.2,338.6 645.9,338.5 646.6,338.4 647.3,338.4 648.1,338.3 648.8,338.2 649.5,338.2 650.2,338.2 651,338.1 651.7,338.1 652.4,338.1 653.1,338.1 653.8,338.1 654.6,338.1 655.3,338.1 656,338.1 656.7,338.2 657.5,338.2 658.2,338.3 658.9,338.3 659.6,338.4 660.4,338.4 661.1,338.5 661.8,338.6 662.5,338.7 663.2,338.7 664,338.8 664.7,338.9 665.4,339 666.1,339.1 666.9,339.2 667.6,339.3 668.3,339.5 669,339.6 669.8,339.7 670.5,339.8 671.2,340 671.9,340.1 672.6,340.2 673.4,340.4 674.1,340.5 674.8,340.6 675.5,340.8 676.3,340.9 677,341.1 677.7,341.2 678.4,341.4 679.2,341.5 679.9,341.7 680.6,341.8 681.3,341.9 682,342.1 682.8,342.2 683.5,342.4 684.2,342.5 684.9,342.7 685.7,342.8 686.4,343 687.1,343.1 687.8,343.3 688.6,343.4 689.3,343.5 690,343.7 690.7,343.8 691.4,343.9 692.2,344.1 692.9,344.2 693.6,344.3 694.3,344.4 695.1,344.6 695.8,344.7 696.5,344.8 697.2,344.9 698,345 698.7,345.1 699.4,345.2 700.1,345.3 700.8,345.4 701.6,345.5 702.3,345.6 703,345.7 703.7,345.8 704.5,345.9 705.2,346 705.9,346.1 706.6,346.1 707.4,346.2 708.1,346.3 708.8,346.4 709.5,346.4 710.2,346.5 711,346.6 711.7,346.6 712.4,346.7 713.1,346.7 713.9,346.8 714.6,346.8 715.3,346.9 716,346.9 716.8,347 717.5,347 718.2,347.1 718.2,347.8 717.5,347.8 716.8,347.8 716,347.8 715.3,347.8 714.6,347.8 713.9,347.8 713.1,347.8 712.4,347.8 711.7,347.8 711,347.8 710.2,347.8 709.5,347.8 708.8,347.8 708.1,347.8 707.4,347.8 706.6,347.8 705.9,347.8 705.2,347.8 704.5,347.8 703.7,347.8 703,347.8 702.3,347.8 701.6,347.8 700.8,347.8 700.1,347.8 699.4,347.8 698.7,347.8 698,347.8 697.2,347.8 696.5,347.8 695.8,347.8 695.1,347.8 694.3,347.8 693.6,347.8 692.9,347.8 692.2,347.8 691.4,347.8 690.7,347.8 690,347.8 689.3,347.8 688.6,347.8 687.8,347.8 687.1,347.8 686.4,347.8 685.7,347.8 684.9,347.8 684.2,347.8 683.5,347.8 682.8,347.8 682,347.8 681.3,347.8 680.6,347.8 679.9,347.8 679.2,347.8 678.4,347.8 677.7,347.8 677,347.8 676.3,347.8 675.5,347.8 674.8,347.8 674.1,347.8 673.4,347.8 672.6,347.8 671.9,347.8 671.2,347.8 670.5,347.8 669.8,347.8 669,347.8 668.3,347.8 667.6,347.8 666.9,347.8 666.1,347.8 665.4,347.8 664.7,347.8 664,347.8 663.2,347.8 662.5,347.9 661.8,347.9 661.1,347.9 660.4,347.9 659.6,347.9 658.9,347.9 658.2,347.9 657.5,347.9 656.7,347.9 656,347.9 655.3,347.9 654.6,347.9 653.8,348 653.1,348 652.4,348 651.7,348 651,348 650.2,348 649.5,348.1 648.8,348.1 648.1,348.1 647.3,348.2 646.6,348.2 645.9,348.2 645.2,348.3 644.4,348.3 643.7,348.3 643,348.4 642.3,348.4 641.6,348.5 640.8,348.6 640.1,348.6 639.4,348.7 638.7,348.8 637.9,348.8 637.2,348.9 636.5,349 635.8,349.1 635,349.2 634.3,349.3 633.6,349.5 632.9,349.6 632.2,349.7 631.4,349.8 630.7,350 630,350.1 629.3,350.3 628.5,350.5 627.8,350.6 627.1,350.8 626.4,351 625.6,351.2 624.9,351.4 624.2,351.6 623.5,351.7 622.8,351.9 622,352.1 621.3,352.3 620.6,352.5 619.9,352.7 619.1,352.9 618.4,353.1 617.7,353.3 617,353.5 616.2,353.7 615.5,353.8 614.8,354 614.1,354.1 613.4,354.3 612.6,354.4 611.9,354.6 611.2,354.7 610.5,354.8 609.7,355 609,355.1 608.3,355.2 607.6,355.3 606.8,355.4 606.1,355.4 605.4,355.5 604.7,355.6 604,355.7 603.2,355.7 602.5,355.8 601.8,355.9 601.1,355.9 600.3,356 599.6,356 598.9,356 598.2,356.1 597.4,356.1 596.7,356.1 596,356.2 595.3,356.2 594.6,356.2 593.8,356.3 593.1,356.3 592.4,356.3 591.7,356.3 590.9,356.3 590.2,356.3 589.5,356.4 588.8,356.4 588,356.4 587.3,356.4 586.6,356.4 585.9,356.4 585.2,356.4 584.4,356.4 583.7,356.4 583,356.4 582.3,356.4 581.5,356.4 580.8,356.4 580.1,356.5 579.4,356.5 578.6,356.5 577.9,356.5 577.2,356.5 576.5,356.5 575.8,356.5 575,356.5 574.3,356.5 573.6,356.5 572.9,356.5 572.1,356.5 571.4,356.5 570.7,356.5 570,356.5 569.2,356.5 568.5,356.5 567.8,356.5 567.1,356.5 566.4,356.5 565.6,356.5 564.9,356.5 564.2,356.5 563.5,356.5 562.7,356.5 562,356.5 561.3,356.5 560.6,356.5 559.8,356.5 559.1,356.5 558.4,356.5 557.7,356.5 557,356.5 556.2,356.5 555.5,356.5 554.8,356.5 554.1,356.5 553.3,356.5 552.6,356.5 551.9,356.5 551.2,356.5 550.4,356.5 549.7,356.5 549,356.5 548.3,356.5 547.6,356.5 546.8,356.5 546.1,356.5 545.4,356.5 544.7,356.5 543.9,356.5 543.2,356.5 542.5,356.5 541.8,356.5 541,356.5 540.3,356.5 539.6,356.5 538.9,356.5 538.2,356.5 537.4,356.5 536.7,356.5 536,356.5 535.3,356.5 534.5,356.5 533.8,356.5 533.1,356.5 532.4,356.5 531.6,356.5 530.9,356.5 530.2,356.5" fill="#aef2f4" />
<polyline points="530.2,356.5 530.9,356.5 531.6,356.5 532.4,356.5 533.1,356.5 533.8,356.5 534.5,356.5 535.3,356.5 536,356.5 536.7,356.5 537.4,356.5 538.2,356.5 538.9,356.5 539.6,356.5 540.3,356.5 541,356.5 541.8,356.5 542.5,356.5 543.2,356.5 543.9,356.5 544.7,356.5 545.4,356.5 546.1,356.5 546.8,356.5 547.6,356.5 548.3,356.5 549,356.5 549.7,356.5 550.4,356.5 551.2,356.5 551.9,356.5 552.6,356.5 553.3,356.5 554.1,356.5 554.8,356.5 555.5,356.5 556.2,356.5 557,356.5 557.7,356.5 558.4,356.5 559.1,356.5 559.8,356.5 560.6,356.5 561.3,356.5 562,356.5 562.7,356.5 563.5,356.5 564.2,356.5 564.9,356.5 565.6,356.5 566.4,356.5 567.1,356.5 567.8,356.5 568.5,356.5 569.2,356.5 570,356.5 570.7,356.5 571.4,356.5 572.1,356.5 572.9,356.5 573.6,356.5 574.3,356.5 575,356.5 575.8,356.5 576.5,356.5 577.2,356.5 577.9,356.5 578.6,356.5 579.4,356.5 580.1,356.5 580.8,356.4 581.5,356.4 582.3,356.4 583,356.4 583.7,356.4 584.4,356.4 585.2,356.4 585.9,356.4 586.6,356.4 587.3,356.4 588,356.4 588.8,356.4 589.5,356.4 590.2,356.3 590.9,356.3 591.7,356.3 592.4,356.3 593.1,356.3 593.8,356.3 594.6,356.2 595.3,356.2 596,356.2 596.7,356.1 597.4,356.1 598.2,356.1 598.9,356 599.6,356 600.3,356 601.1,355.9 601.8,355.9 602.5,355.8 603.2,355.7 604,355.7 604.7,355.6 605.4,355.5 606.1,355.4 606.8,355.4 607.6,355.3 608.3,355.2 609,355.1 609.7,355 610.5,354.8 611.2,354.7 611.9,354.6 612.6,354.4 613.4,354.3 614.1,354.1 614.8,354 615.5,353.8 616.2,353.7 617,353.5 617.7,353.3 618.4,353.1 619.1,352.9 619.9,352.7 620.6,352.5 621.3,352.3 622,352.1 622.8,351.9 623.5,351.7 624.2,351.6 624.9,351.4 625.6,351.2 626.4,351 627.1,350.8 627.8,350.6 628.5,350.5 629.3,350.3 630,350.1 630.7,350 631.4,349.8 632.2,349.7 632.9,349.6 633.6,349.5 634.3,349.3 635,349.2 635.8,349.1 636.5,349 637.2,348.9 637.9,348.8 638.7,348.8 639.4,348.7 640.1,348.6 640.8,348.6 641.6,348.5 642.3,348.4 643,348.4 643.7,348.3 644.4,348.3 645.2,348.3 645.9,348.2 646.6,348.2 647.3,348.2 648.1,348.1 648.8,348.1 649.5,348.1 650.2,348 651,348 651.7,348 652.4,348 653.1,348 653.8,348 654.6,347.9 655.3,347.9 656,347.9 656.7,347.9 657.5,347.9 658.2,347.9 658.9,347.9 659.6,347.9 660.4,347.9 661.1,347.9 661.8,347.9 662.5,347.9 663.2,347.8 664,347.8 664.7,347.8 665.4,347.8 666.1,347.8 666.9,347.8 667.6,347.8 668.3,347.8 669,347.8 669.8,347.8 670.5,347.8 671.2,347.8 671.9,347.8 672.6,347.8 673.4,347.8 674.1,347.8 674.8,347.8 675.5,347.8 676.3,347.8 677,347.8 677.7,347.8 678.4,347.8 679.2,347.8 679.9,347.8 680.6,347.8 681.3,347.8 682,347.8 682.8,347.8 683.5,347.8 684.2,347.8 684.9,347.8 685.7,347.8 686.4,347.8 687.1,347.8 687.8,347.8 688.6,347.8 689.3,347.8 690,347.8 690.7,347.8 691.4,347.8 692.2,347.8 692.9,347.8 693.6,347.8 694.3,347.8 695.1,347.8 695.8,347.8 696.5,347.8 697.2,347.8 698,347.8 698.7,347.8 699.4,347.8 700.1,347.8 700.8,347.8 701.6,347.8 702.3,347.8 703,347.8 703.7,347.8 704.5,347.8 705.2,347.8 705.9,347.8 706.6,347.8 707.4,347.8 708.1,347.8 708.8,347.8 709.5,347.8 710.2,347.8 711,347.8 711.7,347.8 712.4,347.8 713.1,347.8 713.9,347.8 714.6,347.8 715.3,347.8 716,347.8 716.8,347.8 717.5,347.8 718.2,347.8" fill="none" stroke="#8a8a8a" stroke-width="1" stroke-linejoin="round" />
<g fill="none" stroke="#444" stroke-width="0.85"><circle cx="530.2" cy="354.7" r="1.9"/><circle cx="532.3" cy="356" r="1.9"/><circle cx="534.4" cy="357.1" r="1.9"/><circle cx="536.5" cy="357.3" r="1.9"/><circle cx="538.6" cy="356.9" r="1.9"/><circle cx="540.6" cy="355.6" r="1.9"/><circle cx="542.7" cy="355.9" r="1.9"/><circle cx="544.8" cy="355.2" r="1.9"/><circle cx="546.9" cy="353.9" r="1.9"/><circle cx="549" cy="354.8" r="1.9"/><circle cx="551.1" cy="356.2" r="1.9"/><circle cx="553.2" cy="355.4" r="1.9"/><circle cx="555.3" cy="354.7" r="1.9"/><circle cx="557.4" cy="353.7" r="1.9"/><circle cx="559.4" cy="354.7" r="1.9"/><circle cx="561.5" cy="354" r="1.9"/><circle cx="563.6" cy="354.5" r="1.9"/><circle cx="565.7" cy="354.7" r="1.9"/><circle cx="567.8" cy="351.3" r="1.9"/><circle cx="569.9" cy="353.2" r="1.9"/><circle cx="572" cy="351" r="1.9"/><circle cx="574.1" cy="350.6" r="1.9"/><circle cx="576.2" cy="349" r="1.9"/><circle cx="578.2" cy="350.6" r="1.9"/><circle cx="580.3" cy="348.1" r="1.9"/><circle cx="582.4" cy="345.4" r="1.9"/><circle cx="584.5" cy="341.1" r="1.9"/><circle cx="586.6" cy="336.7" r="1.9"/><circle cx="588.7" cy="333.8" r="1.9"/><circle cx="590.8" cy="329.9" r="1.9"/><circle cx="592.9" cy="324.8" r="1.9"/><circle cx="595" cy="320.6" r="1.9"/><circle cx="597" cy="316" r="1.9"/><circle cx="599.1" cy="313.3" r="1.9"/><circle cx="601.2" cy="307.1" r="1.9"/><circle cx="603.3" cy="303.4" r="1.9"/><circle cx="605.4" cy="296" r="1.9"/><circle cx="607.5" cy="289.3" r="1.9"/><circle cx="609.6" cy="281.7" r="1.9"/><circle cx="611.7" cy="275.8" r="1.9"/><circle cx="613.8" cy="267.8" r="1.9"/><circle cx="615.8" cy="261.1" r="1.9"/><circle cx="617.9" cy="253.1" r="1.9"/><circle cx="620" cy="245.2" r="1.9"/><circle cx="622.1" cy="240" r="1.9"/><circle cx="624.2" cy="238.2" r="1.9"/><circle cx="626.3" cy="238.1" r="1.9"/><circle cx="628.4" cy="244.2" r="1.9"/><circle cx="630.5" cy="253.5" r="1.9"/><circle cx="632.6" cy="263.8" r="1.9"/><circle cx="634.6" cy="272.3" r="1.9"/><circle cx="636.7" cy="283.2" r="1.9"/><circle cx="638.8" cy="294" r="1.9"/><circle cx="640.9" cy="303.6" r="1.9"/><circle cx="643" cy="309.7" r="1.9"/><circle cx="645.1" cy="319.2" r="1.9"/><circle cx="647.2" cy="323.6" r="1.9"/><circle cx="649.3" cy="329.1" r="1.9"/><circle cx="651.4" cy="331.2" r="1.9"/><circle cx="653.4" cy="332.6" r="1.9"/><circle cx="655.5" cy="334" r="1.9"/><circle cx="657.6" cy="335.4" r="1.9"/><circle cx="659.7" cy="334.3" r="1.9"/><circle cx="661.8" cy="335.4" r="1.9"/><circle cx="663.9" cy="339" r="1.9"/><circle cx="666" cy="338.6" r="1.9"/><circle cx="668.1" cy="338.1" r="1.9"/><circle cx="670.2" cy="338.7" r="1.9"/><circle cx="672.2" cy="338.9" r="1.9"/><circle cx="674.3" cy="343.4" r="1.9"/><circle cx="676.4" cy="340.9" r="1.9"/><circle cx="678.5" cy="340.8" r="1.9"/><circle cx="680.6" cy="340.5" r="1.9"/><circle cx="682.7" cy="339.2" r="1.9"/><circle cx="684.8" cy="342.3" r="1.9"/><circle cx="686.9" cy="344.2" r="1.9"/><circle cx="689" cy="344.1" r="1.9"/><circle cx="691" cy="343.7" r="1.9"/><circle cx="693.1" cy="343.2" r="1.9"/><circle cx="695.2" cy="342.9" r="1.9"/><circle cx="697.3" cy="344.7" r="1.9"/><circle cx="699.4" cy="344.5" r="1.9"/><circle cx="701.5" cy="344" r="1.9"/><circle cx="703.6" cy="347.3" r="1.9"/><circle cx="705.7" cy="344.8" r="1.9"/><circle cx="707.8" cy="345.4" r="1.9"/><circle cx="709.8" cy="343.6" r="1.9"/><circle cx="711.9" cy="348.3" r="1.9"/><circle cx="714" cy="346.4" r="1.9"/><circle cx="716.1" cy="346.6" r="1.9"/><circle cx="718.2" cy="347.2" r="1.9"/><circle cx="622.5" cy="236.4" r="1.9"/><circle cx="625.5" cy="236.6" r="1.9"/></g>
<polyline points="530.2,355.8 530.9,355.7 531.6,355.7 532.4,355.7 533.1,355.7 533.8,355.7 534.5,355.7 535.3,355.7 536,355.6 536.7,355.6 537.4,355.6 538.2,355.6 538.9,355.6 539.6,355.6 540.3,355.5 541,355.5 541.8,355.5 542.5,355.5 543.2,355.5 543.9,355.5 544.7,355.4 545.4,355.4 546.1,355.4 546.8,355.4 547.6,355.3 548.3,355.3 549,355.3 549.7,355.3 550.4,355.2 551.2,355.2 551.9,355.2 552.6,355.1 553.3,355.1 554.1,355.1 554.8,355 555.5,355 556.2,355 557,354.9 557.7,354.9 558.4,354.8 559.1,354.8 559.8,354.7 560.6,354.7 561.3,354.6 562,354.6 562.7,354.5 563.5,354.4 564.2,354.3 564.9,354.2 565.6,354.1 566.4,354 567.1,353.9 567.8,353.8 568.5,353.6 569.2,353.5 570,353.3 570.7,353.1 571.4,352.8 572.1,352.6 572.9,352.3 573.6,352 574.3,351.7 575,351.3 575.8,350.9 576.5,350.4 577.2,349.9 577.9,349.3 578.6,348.7 579.4,348.1 580.1,347.4 580.8,346.6 581.5,345.8 582.3,344.9 583,344 583.7,342.9 584.4,341.9 585.2,340.7 585.9,339.5 586.6,338.3 587.3,337 588,335.6 588.8,334.2 589.5,332.7 590.2,331.2 590.9,329.7 591.7,328.1 592.4,326.5 593.1,324.8 593.8,323.2 594.6,321.5 595.3,319.8 596,318.1 596.7,316.4 597.4,314.7 598.2,313 598.9,311.4 599.6,309.7 600.3,308 601.1,306.3 601.8,304.7 602.5,302.9 603.2,301.2 604,299.4 604.7,297.6 605.4,295.7 606.1,293.7 606.8,291.7 607.6,289.6 608.3,287.4 609,285.1 609.7,282.7 610.5,280.2 611.2,277.6 611.9,275 612.6,272.2 613.4,269.4 614.1,266.6 614.8,263.8 615.5,260.9 616.2,258.1 617,255.3 617.7,252.6 618.4,250.1 619.1,247.7 619.9,245.5 620.6,243.5 621.3,241.8 622,240.5 622.8,239.4 623.5,238.8 624.2,238.5 624.9,238.6 625.6,239.2 626.4,240.1 627.1,241.5 627.8,243.2 628.5,245.3 629.3,247.7 630,250.4 630.7,253.4 631.4,256.6 632.2,260 632.9,263.6 633.6,267.3 634.3,271.1 635,274.9 635.8,278.7 636.5,282.5 637.2,286.3 637.9,290 638.7,293.6 639.4,297.1 640.1,300.4 640.8,303.6 641.6,306.6 642.3,309.5 643,312.1 643.7,314.6 644.4,317 645.2,319.1 645.9,321.1 646.6,322.9 647.3,324.5 648.1,326 648.8,327.4 649.5,328.6 650.2,329.7 651,330.6 651.7,331.5 652.4,332.3 653.1,332.9 653.8,333.5 654.6,334.1 655.3,334.6 656,335 656.7,335.3 657.5,335.7 658.2,336 658.9,336.2 659.6,336.5 660.4,336.7 661.1,336.9 661.8,337.1 662.5,337.3 663.2,337.5 664,337.6 664.7,337.8 665.4,338 666.1,338.1 666.9,338.3 667.6,338.4 668.3,338.6 669,338.7 669.8,338.9 670.5,339 671.2,339.2 671.9,339.3 672.6,339.5 673.4,339.7 674.1,339.8 674.8,340 675.5,340.1 676.3,340.3 677,340.5 677.7,340.6 678.4,340.8 679.2,340.9 679.9,341.1 680.6,341.3 681.3,341.4 682,341.6 682.8,341.8 683.5,341.9 684.2,342.1 684.9,342.2 685.7,342.4 686.4,342.5 687.1,342.7 687.8,342.8 688.6,343 689.3,343.1 690,343.3 690.7,343.4 691.4,343.6 692.2,343.7 692.9,343.8 693.6,344 694.3,344.1 695.1,344.2 695.8,344.3 696.5,344.5 697.2,344.6 698,344.7 698.7,344.8 699.4,344.9 700.1,345 700.8,345.1 701.6,345.2 702.3,345.3 703,345.4 703.7,345.5 704.5,345.6 705.2,345.7 705.9,345.8 706.6,345.9 707.4,346 708.1,346 708.8,346.1 709.5,346.2 710.2,346.3 711,346.3 711.7,346.4 712.4,346.5 713.1,346.5 713.9,346.6 714.6,346.6 715.3,346.7 716,346.7 716.8,346.8 717.5,346.8 718.2,346.9" fill="none" stroke="#f02828" stroke-width="1.6" stroke-linejoin="round" />
<polyline points="530.2,356.3 530.9,356.3 531.6,356.3 532.4,356.3 533.1,356.3 533.8,356.3 534.5,356.2 535.3,356.2 536,356.2 536.7,356.2 537.4,356.2 538.2,356.2 538.9,356.2 539.6,356.2 540.3,356.2 541,356.2 541.8,356.2 542.5,356.2 543.2,356.2 543.9,356.2 544.7,356.2 545.4,356.1 546.1,356.1 546.8,356.1 547.6,356.1 548.3,356.1 549,356.1 549.7,356.1 550.4,356.1 551.2,356.1 551.9,356 552.6,356 553.3,356 554.1,356 554.8,356 555.5,356 556.2,356 557,355.9 557.7,355.9 558.4,355.9 559.1,355.9 559.8,355.8 560.6,355.8 561.3,355.8 562,355.7 562.7,355.7 563.5,355.6 564.2,355.6 564.9,355.5 565.6,355.5 566.4,355.4 567.1,355.3 567.8,355.2 568.5,355.1 569.2,355 570,354.8 570.7,354.7 571.4,354.5 572.1,354.3 572.9,354.1 573.6,353.8 574.3,353.5 575,353.2 575.8,352.8 576.5,352.5 577.2,352 577.9,351.5 578.6,351 579.4,350.5 580.1,349.8 580.8,349.2 581.5,348.4 582.3,347.7 583,346.8 583.7,346 584.4,345 585.2,344.1 585.9,343 586.6,342 587.3,340.9 588,339.7 588.8,338.6 589.5,337.4 590.2,336.2 590.9,335 591.7,333.8 592.4,332.6 593.1,331.5 593.8,330.3 594.6,329.3 595.3,328.3 596,327.3 596.7,326.5 597.4,325.7 598.2,325.1 598.9,324.6 599.6,324.1 600.3,323.9 601.1,323.7 601.8,323.7 602.5,323.8 603.2,324 604,324.4 604.7,324.8 605.4,325.4 606.1,326 606.8,326.8 607.6,327.6 608.3,328.5 609,329.5 609.7,330.5 610.5,331.5 611.2,332.6 611.9,333.7 612.6,334.8 613.4,335.9 614.1,336.9 614.8,338 615.5,339 616.2,340 617,340.9 617.7,341.8 618.4,342.6 619.1,343.4 619.9,344.1 620.6,344.8 621.3,345.4 622,345.9 622.8,346.4 623.5,346.8 624.2,347.2 624.9,347.5 625.6,347.8 626.4,348.1 627.1,348.3 627.8,348.4 628.5,348.6 629.3,348.7 630,348.7 630.7,348.8 631.4,348.8 632.2,348.8 632.9,348.9 633.6,348.8 634.3,348.8 635,348.8 635.8,348.8 636.5,348.7 637.2,348.7 637.9,348.6 638.7,348.6 639.4,348.6 640.1,348.5 640.8,348.5 641.6,348.4 642.3,348.4 643,348.3 643.7,348.3 644.4,348.3 645.2,348.2 645.9,348.2 646.6,348.2 647.3,348.1 648.1,348.1 648.8,348.1 649.5,348.1 650.2,348 651,348 651.7,348 652.4,348 653.1,348 653.8,348 654.6,347.9 655.3,347.9 656,347.9 656.7,347.9 657.5,347.9 658.2,347.9 658.9,347.9 659.6,347.9 660.4,347.9 661.1,347.9 661.8,347.9 662.5,347.9 663.2,347.8 664,347.8 664.7,347.8 665.4,347.8 666.1,347.8 666.9,347.8 667.6,347.8 668.3,347.8 669,347.8 669.8,347.8 670.5,347.8 671.2,347.8 671.9,347.8 672.6,347.8 673.4,347.8 674.1,347.8 674.8,347.8 675.5,347.8 676.3,347.8 677,347.8 677.7,347.8 678.4,347.8 679.2,347.8 679.9,347.8 680.6,347.8 681.3,347.8 682,347.8 682.8,347.8 683.5,347.8 684.2,347.8 684.9,347.8 685.7,347.8 686.4,347.8 687.1,347.8 687.8,347.8 688.6,347.8 689.3,347.8 690,347.8 690.7,347.8 691.4,347.8 692.2,347.8 692.9,347.8 693.6,347.8 694.3,347.8 695.1,347.8 695.8,347.8 696.5,347.8 697.2,347.8 698,347.8 698.7,347.8 699.4,347.8 700.1,347.8 700.8,347.8 701.6,347.8 702.3,347.8 703,347.8 703.7,347.8 704.5,347.8 705.2,347.8 705.9,347.8 706.6,347.8 707.4,347.8 708.1,347.8 708.8,347.8 709.5,347.8 710.2,347.8 711,347.8 711.7,347.8 712.4,347.8 713.1,347.8 713.9,347.8 714.6,347.8 715.3,347.8 716,347.8 716.8,347.8 717.5,347.8 718.2,347.8" fill="none" stroke="#1a1aff" stroke-width="1.2" stroke-linejoin="round" />
<polyline points="530.2,356 530.9,356 531.6,356 532.4,356 533.1,355.9 533.8,355.9 534.5,355.9 535.3,355.9 536,355.9 536.7,355.9 537.4,355.9 538.2,355.9 538.9,355.9 539.6,355.9 540.3,355.9 541,355.8 541.8,355.8 542.5,355.8 543.2,355.8 543.9,355.8 544.7,355.8 545.4,355.8 546.1,355.8 546.8,355.7 547.6,355.7 548.3,355.7 549,355.7 549.7,355.7 550.4,355.7 551.2,355.7 551.9,355.6 552.6,355.6 553.3,355.6 554.1,355.6 554.8,355.6 555.5,355.5 556.2,355.5 557,355.5 557.7,355.5 558.4,355.5 559.1,355.4 559.8,355.4 560.6,355.4 561.3,355.4 562,355.3 562.7,355.3 563.5,355.3 564.2,355.3 564.9,355.2 565.6,355.2 566.4,355.2 567.1,355.1 567.8,355.1 568.5,355.1 569.2,355 570,355 570.7,355 571.4,354.9 572.1,354.9 572.9,354.8 573.6,354.8 574.3,354.7 575,354.7 575.8,354.6 576.5,354.6 577.2,354.5 577.9,354.5 578.6,354.4 579.4,354.3 580.1,354.2 580.8,354.2 581.5,354.1 582.3,354 583,353.9 583.7,353.8 584.4,353.6 585.2,353.5 585.9,353.3 586.6,353.2 587.3,353 588,352.8 588.8,352.6 589.5,352.3 590.2,352 590.9,351.7 591.7,351.3 592.4,350.9 593.1,350.5 593.8,350 594.6,349.4 595.3,348.7 596,348 596.7,347.2 597.4,346.3 598.2,345.3 598.9,344.2 599.6,342.9 600.3,341.6 601.1,340.1 601.8,338.4 602.5,336.7 603.2,334.7 604,332.6 604.7,330.4 605.4,327.9 606.1,325.3 606.8,322.6 607.6,319.6 608.3,316.5 609,313.3 609.7,309.9 610.5,306.4 611.2,302.7 611.9,299 612.6,295.2 613.4,291.3 614.1,287.4 614.8,283.5 615.5,279.6 616.2,275.8 617,272.1 617.7,268.5 618.4,265.1 619.1,261.9 619.9,258.9 620.6,256.3 621.3,253.9 622,252 622.8,250.4 623.5,249.3 624.2,248.6 624.9,248.4 625.6,248.6 626.4,249.3 627.1,250.5 627.8,252 628.5,254 629.3,256.3 630,258.9 630.7,261.9 631.4,265 632.2,268.5 632.9,272 633.6,275.8 634.3,279.6 635,283.5 635.8,287.4 636.5,291.2 637.2,295.1 637.9,298.9 638.7,302.5 639.4,306.1 640.1,309.5 640.8,312.8 641.6,315.9 642.3,318.8 643,321.6 643.7,324.2 644.4,326.5 645.2,328.7 645.9,330.8 646.6,332.6 647.3,334.3 648.1,335.8 648.8,337.2 649.5,338.4 650.2,339.5 651,340.5 651.7,341.4 652.4,342.2 653.1,342.8 653.8,343.4 654.6,343.9 655.3,344.4 656,344.7 656.7,345.1 657.5,345.4 658.2,345.6 658.9,345.8 659.6,346 660.4,346.2 661.1,346.3 661.8,346.4 662.5,346.5 663.2,346.6 664,346.7 664.7,346.7 665.4,346.8 666.1,346.8 666.9,346.9 667.6,346.9 668.3,346.9 669,347 669.8,347 670.5,347 671.2,347.1 671.9,347.1 672.6,347.1 673.4,347.1 674.1,347.1 674.8,347.2 675.5,347.2 676.3,347.2 677,347.2 677.7,347.2 678.4,347.2 679.2,347.2 679.9,347.3 680.6,347.3 681.3,347.3 682,347.3 682.8,347.3 683.5,347.3 684.2,347.3 684.9,347.3 685.7,347.4 686.4,347.4 687.1,347.4 687.8,347.4 688.6,347.4 689.3,347.4 690,347.4 690.7,347.4 691.4,347.4 692.2,347.4 692.9,347.4 693.6,347.4 694.3,347.5 695.1,347.5 695.8,347.5 696.5,347.5 697.2,347.5 698,347.5 698.7,347.5 699.4,347.5 700.1,347.5 700.8,347.5 701.6,347.5 702.3,347.5 703,347.5 703.7,347.5 704.5,347.5 705.2,347.5 705.9,347.5 706.6,347.5 707.4,347.6 708.1,347.6 708.8,347.6 709.5,347.6 710.2,347.6 711,347.6 711.7,347.6 712.4,347.6 713.1,347.6 713.9,347.6 714.6,347.6 715.3,347.6 716,347.6 716.8,347.6 717.5,347.6 718.2,347.6" fill="none" stroke="#8a8a00" stroke-width="1.2" stroke-linejoin="round" />
<polyline points="530.2,356.5 530.9,356.5 531.6,356.5 532.4,356.5 533.1,356.5 533.8,356.5 534.5,356.5 535.3,356.5 536,356.5 536.7,356.5 537.4,356.5 538.2,356.5 538.9,356.5 539.6,356.5 540.3,356.5 541,356.5 541.8,356.5 542.5,356.5 543.2,356.5 543.9,356.5 544.7,356.5 545.4,356.5 546.1,356.5 546.8,356.5 547.6,356.5 548.3,356.5 549,356.5 549.7,356.5 550.4,356.5 551.2,356.5 551.9,356.5 552.6,356.5 553.3,356.5 554.1,356.5 554.8,356.5 555.5,356.5 556.2,356.5 557,356.5 557.7,356.5 558.4,356.5 559.1,356.5 559.8,356.5 560.6,356.5 561.3,356.5 562,356.5 562.7,356.5 563.5,356.5 564.2,356.5 564.9,356.5 565.6,356.4 566.4,356.4 567.1,356.4 567.8,356.4 568.5,356.4 569.2,356.4 570,356.4 570.7,356.4 571.4,356.4 572.1,356.4 572.9,356.4 573.6,356.4 574.3,356.4 575,356.3 575.8,356.3 576.5,356.3 577.2,356.3 577.9,356.3 578.6,356.3 579.4,356.2 580.1,356.2 580.8,356.2 581.5,356.2 582.3,356.1 583,356.1 583.7,356.1 584.4,356.1 585.2,356 585.9,356 586.6,355.9 587.3,355.9 588,355.9 588.8,355.8 589.5,355.8 590.2,355.7 590.9,355.6 591.7,355.6 592.4,355.5 593.1,355.4 593.8,355.4 594.6,355.3 595.3,355.2 596,355.1 596.7,355 597.4,354.9 598.2,354.8 598.9,354.7 599.6,354.6 600.3,354.5 601.1,354.4 601.8,354.2 602.5,354.1 603.2,353.9 604,353.8 604.7,353.6 605.4,353.4 606.1,353.2 606.8,353 607.6,352.8 608.3,352.6 609,352.4 609.7,352.2 610.5,351.9 611.2,351.7 611.9,351.4 612.6,351.1 613.4,350.9 614.1,350.6 614.8,350.3 615.5,350 616.2,349.6 617,349.3 617.7,349 618.4,348.6 619.1,348.3 619.9,347.9 620.6,347.6 621.3,347.2 622,346.9 622.8,346.5 623.5,346.2 624.2,345.8 624.9,345.4 625.6,345.1 626.4,344.7 627.1,344.4 627.8,344 628.5,343.7 629.3,343.4 630,343.1 630.7,342.7 631.4,342.4 632.2,342.2 632.9,341.9 633.6,341.6 634.3,341.3 635,341.1 635.8,340.8 636.5,340.6 637.2,340.4 637.9,340.2 638.7,340 639.4,339.8 640.1,339.6 640.8,339.4 641.6,339.3 642.3,339.1 643,339 643.7,338.9 644.4,338.7 645.2,338.6 645.9,338.5 646.6,338.4 647.3,338.4 648.1,338.3 648.8,338.2 649.5,338.2 650.2,338.2 651,338.1 651.7,338.1 652.4,338.1 653.1,338.1 653.8,338.1 654.6,338.1 655.3,338.1 656,338.1 656.7,338.2 657.5,338.2 658.2,338.3 658.9,338.3 659.6,338.4 660.4,338.4 661.1,338.5 661.8,338.6 662.5,338.7 663.2,338.7 664,338.8 664.7,338.9 665.4,339 666.1,339.1 666.9,339.2 667.6,339.3 668.3,339.5 669,339.6 669.8,339.7 670.5,339.8 671.2,340 671.9,340.1 672.6,340.2 673.4,340.4 674.1,340.5 674.8,340.6 675.5,340.8 676.3,340.9 677,341.1 677.7,341.2 678.4,341.4 679.2,341.5 679.9,341.7 680.6,341.8 681.3,341.9 682,342.1 682.8,342.2 683.5,342.4 684.2,342.5 684.9,342.7 685.7,342.8 686.4,343 687.1,343.1 687.8,343.3 688.6,343.4 689.3,343.5 690,343.7 690.7,343.8 691.4,343.9 692.2,344.1 692.9,344.2 693.6,344.3 694.3,344.4 695.1,344.6 695.8,344.7 696.5,344.8 697.2,344.9 698,345 698.7,345.1 699.4,345.2 700.1,345.3 700.8,345.4 701.6,345.5 702.3,345.6 703,345.7 703.7,345.8 704.5,345.9 705.2,346 705.9,346.1 706.6,346.1 707.4,346.2 708.1,346.3 708.8,346.4 709.5,346.4 710.2,346.5 711,346.6 711.7,346.6 712.4,346.7 713.1,346.7 713.9,346.8 714.6,346.8 715.3,346.9 716,346.9 716.8,347 717.5,347 718.2,347.1" fill="none" stroke="#00e6f2" stroke-width="1.2" stroke-linejoin="round" />
<rect x="530.2" y="210.3" width="188" height="151.5" fill="none" stroke="#151515" stroke-width="1.2"/>
<line x1="551.1" y1="361.8" x2="551.1" y2="364.8" stroke="#151515" stroke-width="1.1" />
<text x="551.1" y="372.4" font-family="Liberation Serif" font-weight="bold" font-size="7.6" text-anchor="middle" >396</text>
<line x1="592.9" y1="361.8" x2="592.9" y2="364.8" stroke="#151515" stroke-width="1.1" />
<text x="592.9" y="372.4" font-family="Liberation Serif" font-weight="bold" font-size="7.6" text-anchor="middle" >398</text>
<line x1="634.6" y1="361.8" x2="634.6" y2="364.8" stroke="#151515" stroke-width="1.1" />
<text x="634.6" y="372.4" font-family="Liberation Serif" font-weight="bold" font-size="7.6" text-anchor="middle" >400</text>
<line x1="676.4" y1="361.8" x2="676.4" y2="364.8" stroke="#151515" stroke-width="1.1" />
<text x="676.4" y="372.4" font-family="Liberation Serif" font-weight="bold" font-size="7.6" text-anchor="middle" >402</text>
<line x1="718.2" y1="361.8" x2="718.2" y2="364.8" stroke="#151515" stroke-width="1.1" />
<text x="718.2" y="372.4" font-family="Liberation Serif" font-weight="bold" font-size="7.6" text-anchor="middle" >404</text>
<line x1="530.2" y1="361.8" x2="530.2" y2="363.8" stroke="#151515" stroke-width="1" />
<line x1="572" y1="361.8" x2="572" y2="363.8" stroke="#151515" stroke-width="1" />
<line x1="613.8" y1="361.8" x2="613.8" y2="363.8" stroke="#151515" stroke-width="1" />
<line x1="655.5" y1="361.8" x2="655.5" y2="363.8" stroke="#151515" stroke-width="1" />
<line x1="697.3" y1="361.8" x2="697.3" y2="363.8" stroke="#151515" stroke-width="1" />
<line x1="530.2" y1="337.9" x2="527" y2="337.9" stroke="#151515" stroke-width="1.1" />
<text x="524.8" y="340.9" font-family="Liberation Serif" font-weight="bold" font-size="7.6" text-anchor="end" >25000</text>
<line x1="530.2" y1="312.3" x2="527" y2="312.3" stroke="#151515" stroke-width="1.1" />
<text x="524.8" y="315.3" font-family="Liberation Serif" font-weight="bold" font-size="7.6" text-anchor="end" >30000</text>
<line x1="530.2" y1="286.8" x2="527" y2="286.8" stroke="#151515" stroke-width="1.1" />
<text x="524.8" y="289.8" font-family="Liberation Serif" font-weight="bold" font-size="7.6" text-anchor="end" >35000</text>
<line x1="530.2" y1="261.2" x2="527" y2="261.2" stroke="#151515" stroke-width="1.1" />
<text x="524.8" y="264.2" font-family="Liberation Serif" font-weight="bold" font-size="7.6" text-anchor="end" >40000</text>
<line x1="530.2" y1="235.7" x2="527" y2="235.7" stroke="#151515" stroke-width="1.1" />
<text x="524.8" y="238.7" font-family="Liberation Serif" font-weight="bold" font-size="7.6" text-anchor="end" >45000</text>
<line x1="530.2" y1="210.1" x2="527" y2="210.1" stroke="#151515" stroke-width="1.1" />
<text x="524.8" y="213.1" font-family="Liberation Serif" font-weight="bold" font-size="7.6" text-anchor="end" >50000</text>
<rect x="646.3" y="218.3" width="67.5" height="55.1" rx="1" fill="#fff" stroke="#777" stroke-width="0.9"/>
<circle cx="655.2" cy="223.6" r="2.1" fill="none" stroke="#333" stroke-width="0.8"/>
<text x="665" y="226.1" font-family="Liberation Serif" font-size="7.4" fill="#111" stroke="#111" stroke-width="0.15" textLength="42.3" lengthAdjust="spacingAndGlyphs">Raw Intensity</text>
<line x1="646.3" y1="232.5" x2="663.2" y2="232.5" stroke="#f02a2a" stroke-width="2" />
<text x="665" y="235" font-family="Liberation Serif" font-size="7.4" fill="#111" stroke="#111" stroke-width="0.15" textLength="30" lengthAdjust="spacingAndGlyphs">Peak Sum</text>
<line x1="646.3" y1="241.5" x2="663.2" y2="241.5" stroke="#8a8a8a" stroke-width="1.6" />
<text x="665" y="244" font-family="Liberation Serif" font-size="7.4" fill="#111" stroke="#111" stroke-width="0.15" textLength="37" lengthAdjust="spacingAndGlyphs">Background</text>
<line x1="646.3" y1="250.6" x2="663.2" y2="250.6" stroke="#1a1aff" stroke-width="1.6" />
<text x="665" y="253.1" font-family="Liberation Serif" font-size="7.4" fill="#111" stroke="#111" stroke-width="0.15" textLength="43.8" lengthAdjust="spacingAndGlyphs">=N- (398.4 <tspan font-style="italic">eV</tspan>)</text>
<line x1="646.3" y1="259.6" x2="663.2" y2="259.6" stroke="#8a8a00" stroke-width="1.6" />
<text x="665" y="262.1" font-family="Liberation Serif" font-size="7.4" fill="#111" stroke="#111" stroke-width="0.15" textLength="48.3" lengthAdjust="spacingAndGlyphs">-NH- (399.5 <tspan font-style="italic">eV</tspan>)</text>
<line x1="646.3" y1="268.3" x2="663.2" y2="268.3" stroke="#00e6f2" stroke-width="1.6" />
<text x="665" y="270.8" font-family="Liberation Serif" font-size="7.4" fill="#111" stroke="#111" stroke-width="0.15" textLength="41.7" lengthAdjust="spacingAndGlyphs">N+ (400.8 <tspan font-style="italic">eV</tspan>)</text>
<text x="490.9" y="201" font-family="Liberation Serif" font-weight="bold" font-size="21.3" text-anchor="start" textLength="21.7" lengthAdjust="spacingAndGlyphs">(f)</text>
<text x="540.8" y="240.1" font-family="Liberation Serif" font-weight="bold" font-size="15.8" text-anchor="start" textLength="30.5" lengthAdjust="spacingAndGlyphs">N 1s</text>
<text x="645.2" y="289.7" font-family="Liberation Serif" font-weight="bold" font-size="9.8" text-anchor="start" >3D-</text>
<text x="645.2" y="301.4" font-family="Liberation Serif" font-weight="bold" font-size="9.8" text-anchor="start" textLength="68.6" lengthAdjust="spacingAndGlyphs">PANI/CNTs/CC</text>
<text x="567.2" y="390.6" font-family="Liberation Serif" font-weight="bold" font-size="12.8" text-anchor="start" textLength="113" lengthAdjust="spacingAndGlyphs">Binding Energy (eV)</text>
<text transform="translate(492.2,289.9) rotate(-90)" font-family="Liberation Serif" font-weight="bold" font-size="12.7" text-anchor="middle" textLength="83" lengthAdjust="spacingAndGlyphs">Intensity (a. u.)</text>
</svg></body></html>
